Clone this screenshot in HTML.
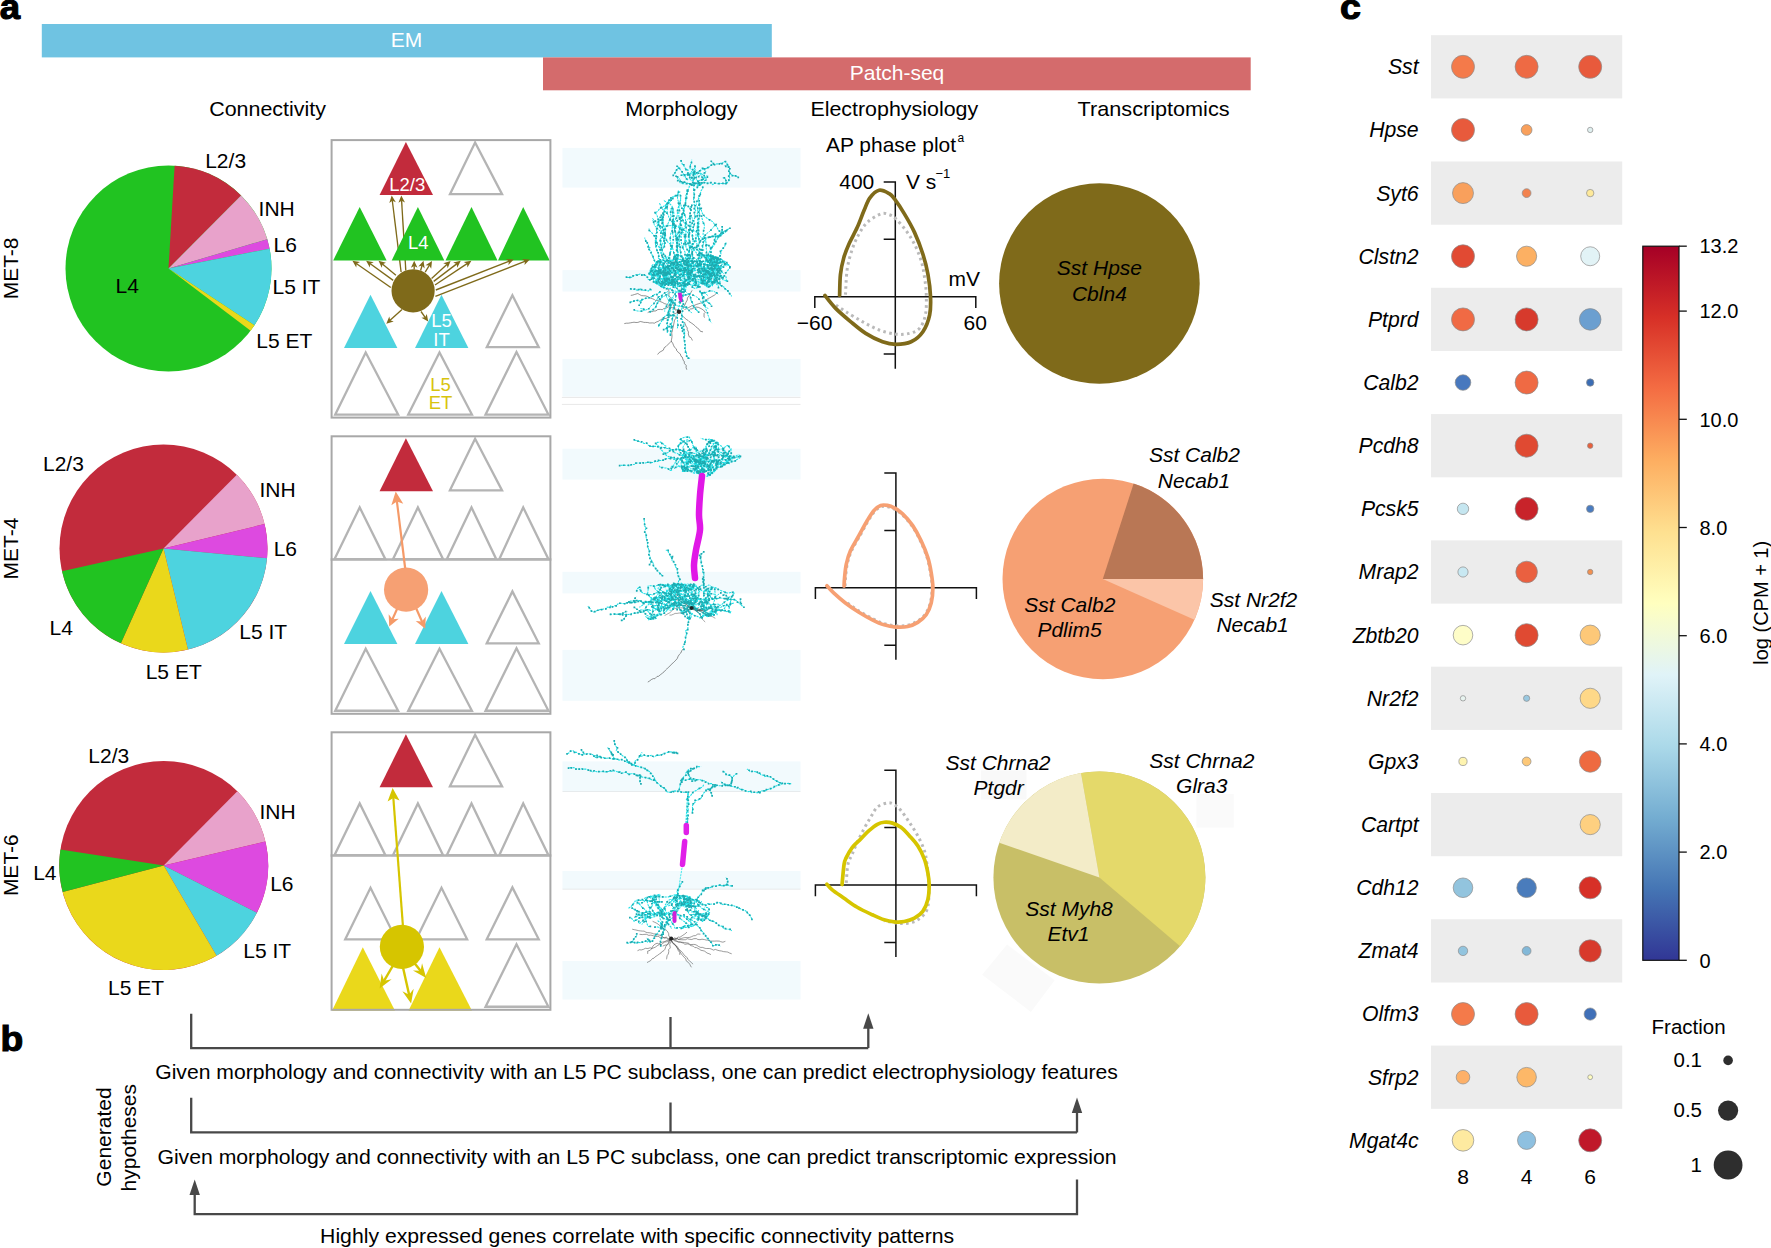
<!DOCTYPE html>
<html><head><meta charset="utf-8"><title>Figure</title>
<style>html,body{margin:0;padding:0;background:#fff;overflow:hidden}svg{display:block}</style>
</head><body>
<svg width="1771" height="1248" viewBox="0 0 1771 1248" font-family="'Liberation Sans', Arial, Helvetica, sans-serif" font-size="21"><text transform="translate(-0.2 19.2) scale(1.06 1)" font-size="34.5" font-weight="bold" stroke="#000" stroke-width="1.1">a</text>
<text transform="translate(0.4 1050.8) scale(1.08 1)" font-size="34.5" font-weight="bold" stroke="#000" stroke-width="1.1">b</text>
<text transform="translate(1339.9 19.2) scale(1.09 1)" font-size="34.5" font-weight="bold" stroke="#000" stroke-width="1.1">c</text>
<rect x="41.8" y="24" width="730" height="33.4" fill="#6fc3e2"/>
<text x="406.5" y="46.5" text-anchor="middle" fill="#fff">EM</text>
<rect x="543" y="57.4" width="707.7" height="32.9" fill="#d46b6c"/>
<text x="897" y="79.6" text-anchor="middle" fill="#fff">Patch-seq</text>
<text x="267.6" y="115.6" text-anchor="middle" textLength="116.8" lengthAdjust="spacingAndGlyphs">Connectivity</text>
<text x="681.4" y="115.6" text-anchor="middle" textLength="112.4" lengthAdjust="spacingAndGlyphs">Morphology</text>
<text x="894.3" y="115.6" text-anchor="middle" textLength="167.8" lengthAdjust="spacingAndGlyphs">Electrophysiology</text>
<text x="1153.6" y="115.6" text-anchor="middle" textLength="152" lengthAdjust="spacingAndGlyphs">Transcriptomics</text>
<text transform="translate(17.5 268.4) rotate(-90)" text-anchor="middle">MET-8</text>
<text transform="translate(17.5 548.5) rotate(-90)" text-anchor="middle">MET-4</text>
<text transform="translate(17.5 865.2) rotate(-90)" text-anchor="middle">MET-6</text>
<circle cx="168.5" cy="268.5" r="103" fill="#21c321"/>
<path d="M168.5 268.5L174.61 165.68A103 103 0 0 1 241.08 195.41Z" fill="#c22b3c"/>
<path d="M168.5 268.5L241.08 195.41A103 103 0 0 1 267.26 239.25Z" fill="#e8a2cb"/>
<path d="M168.5 268.5L267.26 239.25A103 103 0 0 1 269.57 248.67Z" fill="#dd4ae0"/>
<path d="M168.5 268.5L269.57 248.67A103 103 0 0 1 254.39 325.35Z" fill="#4dd3df"/>
<path d="M168.5 268.5L254.39 325.35A103 103 0 0 1 250.65 330.63Z" fill="#ead81b"/>
<text x="205.2" y="168">L2/3</text>
<text x="258.6" y="215.8">INH</text>
<text x="273.6" y="251.5">L6</text>
<text x="272.5" y="293.9">L5 IT</text>
<text x="256.3" y="347.7">L5 ET</text>
<text x="115.5" y="292.5">L4</text>
<circle cx="163.5" cy="548.5" r="104" fill="#c22b3c"/>
<path d="M163.5 548.5L236.78 474.7A104 104 0 0 1 264.58 524.05Z" fill="#e8a2cb"/>
<path d="M163.5 548.5L264.58 524.05A104 104 0 0 1 267.04 558.29Z" fill="#dd4ae0"/>
<path d="M163.5 548.5L267.04 558.29A104 104 0 0 1 187.95 649.58Z" fill="#4dd3df"/>
<path d="M163.5 548.5L187.95 649.58A104 104 0 0 1 120.87 643.36Z" fill="#ead81b"/>
<path d="M163.5 548.5L120.87 643.36A104 104 0 0 1 62 571.19Z" fill="#21c321"/>
<text x="43" y="470.7">L2/3</text>
<text x="259.5" y="497.4">INH</text>
<text x="273.7" y="555.5">L6</text>
<text x="239.3" y="639.2">L5 IT</text>
<text x="145.7" y="678.7">L5 ET</text>
<text x="49.5" y="634.5">L4</text>
<circle cx="163.7" cy="865.5" r="104.5" fill="#c22b3c"/>
<path d="M163.7 865.5L237.33 791.35A104.5 104.5 0 0 1 265.4 841.46Z" fill="#e8a2cb"/>
<path d="M163.7 865.5L265.4 841.46A104.5 104.5 0 0 1 256.89 912.78Z" fill="#dd4ae0"/>
<path d="M163.7 865.5L256.89 912.78A104.5 104.5 0 0 1 216.58 955.63Z" fill="#4dd3df"/>
<path d="M163.7 865.5L216.58 955.63A104.5 104.5 0 0 1 62.62 892.02Z" fill="#ead81b"/>
<path d="M163.7 865.5L62.62 892.02A104.5 104.5 0 0 1 60.43 849.51Z" fill="#21c321"/>
<text x="88.3" y="763">L2/3</text>
<text x="259.5" y="818.8">INH</text>
<text x="270.2" y="890.8">L6</text>
<text x="243.3" y="957.5">L5 IT</text>
<text x="108" y="994.7">L5 ET</text>
<text x="33.2" y="879.9">L4</text>
<polygon points="379.6,195 405.9,142 433,195" fill="#c22b3c"/>
<polygon points="449.96,194.15 475.1,142.52 502.04,194.15" fill="none" stroke="#b4b4b4" stroke-width="2.3" stroke-linejoin="miter"/>
<line x1="401.1" y1="272" x2="392.27" y2="200.26" stroke="#7f6a1a" stroke-width="1.35"/>
<path d="M391.7 195.6L395.83 202.14L392.34 200.76L389.28 202.95Z" fill="#7f6a1a"/>
<line x1="405.8" y1="270.5" x2="401.58" y2="200.29" stroke="#7f6a1a" stroke-width="1.35"/>
<path d="M401.3 195.6L405.01 202.39L401.61 200.79L398.43 202.79Z" fill="#7f6a1a"/>
<polygon points="333.2,260.4 359.7,207 386.6,260.4" fill="#21c321"/>
<polygon points="391.7,260.4 417.9,207 444.3,260.4" fill="#21c321"/>
<polygon points="445.5,260.4 471.5,207 497.5,260.4" fill="#21c321"/>
<polygon points="498,260.4 523.2,207 549.7,260.4" fill="#21c321"/>
<polygon points="344,347.9 370.5,294.7 397.4,347.9" fill="#4dd3df"/>
<polygon points="415,347.9 441.5,294.7 468.4,347.9" fill="#4dd3df"/>
<polygon points="486.76,347.15 512.4,295.23 538.74,347.15" fill="none" stroke="#b4b4b4" stroke-width="2.3" stroke-linejoin="miter"/>
<polygon points="335.26,414.55 365.7,352.52 398.13,414.55" fill="none" stroke="#b4b4b4" stroke-width="2.3" stroke-linejoin="miter"/>
<polygon points="408.26,414.55 439.5,352.52 471.94,414.55" fill="none" stroke="#b4b4b4" stroke-width="2.3" stroke-linejoin="miter"/>
<polygon points="485.56,414.55 516.5,352.02 548.44,414.55" fill="none" stroke="#b4b4b4" stroke-width="2.3" stroke-linejoin="miter"/>
<rect x="331.6" y="140.1" width="218.8" height="277.5" fill="none" stroke="#a8a8a8" stroke-width="2"/>
<polygon points="379.6,491.2 405.9,438.2 433,491.2" fill="#c22b3c"/>
<polygon points="449.96,490.35 475.1,438.73 502.04,490.35" fill="none" stroke="#b4b4b4" stroke-width="2.3" stroke-linejoin="miter"/>
<line x1="330.6" y1="559.5" x2="551.4" y2="559.5" stroke="#b4b4b4" stroke-width="2.3"/>
<polygon points="334.46,559.15 359.7,507.43 385.34,559.15" fill="none" stroke="#b4b4b4" stroke-width="2.3" stroke-linejoin="miter"/>
<polygon points="392.96,559.15 417.9,507.43 443.04,559.15" fill="none" stroke="#b4b4b4" stroke-width="2.3" stroke-linejoin="miter"/>
<polygon points="446.76,559.15 471.5,507.43 496.24,559.15" fill="none" stroke="#b4b4b4" stroke-width="2.3" stroke-linejoin="miter"/>
<polygon points="499.26,559.15 523.2,507.43 548.44,559.15" fill="none" stroke="#b4b4b4" stroke-width="2.3" stroke-linejoin="miter"/>
<polygon points="344,644.1 370.5,590.9 397.4,644.1" fill="#4dd3df"/>
<polygon points="415,644.1 441.5,590.9 468.4,644.1" fill="#4dd3df"/>
<polygon points="486.76,643.35 512.4,591.43 538.74,643.35" fill="none" stroke="#b4b4b4" stroke-width="2.3" stroke-linejoin="miter"/>
<polygon points="335.26,710.75 365.7,648.73 398.13,710.75" fill="none" stroke="#b4b4b4" stroke-width="2.3" stroke-linejoin="miter"/>
<polygon points="408.26,710.75 439.5,648.73 471.94,710.75" fill="none" stroke="#b4b4b4" stroke-width="2.3" stroke-linejoin="miter"/>
<polygon points="485.56,710.75 516.5,648.23 548.44,710.75" fill="none" stroke="#b4b4b4" stroke-width="2.3" stroke-linejoin="miter"/>
<rect x="331.6" y="436.3" width="218.8" height="277.5" fill="none" stroke="#a8a8a8" stroke-width="2"/>
<polygon points="379.6,787.2 405.9,734.2 433,787.2" fill="#c22b3c"/>
<polygon points="449.96,786.35 475.1,734.73 502.04,786.35" fill="none" stroke="#b4b4b4" stroke-width="2.3" stroke-linejoin="miter"/>
<line x1="330.6" y1="855.5" x2="551.4" y2="855.5" stroke="#b4b4b4" stroke-width="2.3"/>
<polygon points="334.46,855.15 359.7,803.42 385.34,855.15" fill="none" stroke="#b4b4b4" stroke-width="2.3" stroke-linejoin="miter"/>
<polygon points="392.96,855.15 417.9,803.42 443.04,855.15" fill="none" stroke="#b4b4b4" stroke-width="2.3" stroke-linejoin="miter"/>
<polygon points="446.76,855.15 471.5,803.42 496.24,855.15" fill="none" stroke="#b4b4b4" stroke-width="2.3" stroke-linejoin="miter"/>
<polygon points="499.26,855.15 523.2,803.42 548.44,855.15" fill="none" stroke="#b4b4b4" stroke-width="2.3" stroke-linejoin="miter"/>
<polygon points="345.26,939.35 370.5,887.73 396.13,939.35" fill="none" stroke="#b4b4b4" stroke-width="2.3" stroke-linejoin="miter"/>
<polygon points="416.26,939.35 441.5,887.73 467.13,939.35" fill="none" stroke="#b4b4b4" stroke-width="2.3" stroke-linejoin="miter"/>
<polygon points="486.76,939.35 512.4,887.42 538.74,939.35" fill="none" stroke="#b4b4b4" stroke-width="2.3" stroke-linejoin="miter"/>
<polygon points="332,1010.7 362.8,947.3 395,1010.7" fill="#ead81b"/>
<polygon points="408.5,1010.7 439.5,947.3 472,1010.7" fill="#ead81b"/>
<polygon points="485.56,1006.75 516.5,944.23 548.44,1006.75" fill="none" stroke="#b4b4b4" stroke-width="2.3" stroke-linejoin="miter"/>
<rect x="331.6" y="732.3" width="218.8" height="277.5" fill="none" stroke="#a8a8a8" stroke-width="2"/>
<line x1="390.8" y1="287.5" x2="356.26" y2="263.48" stroke="#7f6a1a" stroke-width="1.35"/>
<path d="M352.4 260.8L360.03 262.09L356.67 263.77L356.26 267.51Z" fill="#7f6a1a"/>
<line x1="393.2" y1="280.4" x2="369.91" y2="263.55" stroke="#7f6a1a" stroke-width="1.35"/>
<path d="M366.1 260.8L373.71 262.23L370.31 263.85L369.84 267.58Z" fill="#7f6a1a"/>
<line x1="395.9" y1="275.3" x2="382.11" y2="263.81" stroke="#7f6a1a" stroke-width="1.35"/>
<path d="M378.5 260.8L385.99 262.75L382.49 264.13L381.76 267.82Z" fill="#7f6a1a"/>
<line x1="414.2" y1="269.5" x2="414.2" y2="265.5" stroke="#7f6a1a" stroke-width="1.35"/>
<path d="M414.2 260.8L417.5 267.8L414.2 266L410.9 267.8Z" fill="#7f6a1a"/>
<line x1="420.6" y1="270.5" x2="422.15" y2="265.3" stroke="#7f6a1a" stroke-width="1.35"/>
<path d="M423.5 260.8L424.66 268.45L422.01 265.78L418.33 266.56Z" fill="#7f6a1a"/>
<line x1="425.2" y1="272.2" x2="429.56" y2="265.02" stroke="#7f6a1a" stroke-width="1.35"/>
<path d="M432 261L431.19 268.7L429.3 265.44L425.55 265.27Z" fill="#7f6a1a"/>
<line x1="431.6" y1="278.5" x2="447.14" y2="264.18" stroke="#7f6a1a" stroke-width="1.35"/>
<path d="M450.6 261L447.69 268.17L446.78 264.52L443.22 263.32Z" fill="#7f6a1a"/>
<line x1="433.7" y1="281.4" x2="457.06" y2="263.64" stroke="#7f6a1a" stroke-width="1.35"/>
<path d="M460.8 260.8L457.22 267.66L456.66 263.95L453.23 262.41Z" fill="#7f6a1a"/>
<line x1="435" y1="285" x2="467.49" y2="263.4" stroke="#7f6a1a" stroke-width="1.35"/>
<path d="M471.4 260.8L467.4 267.42L467.07 263.68L463.74 261.93Z" fill="#7f6a1a"/>
<line x1="435.8" y1="290" x2="509.32" y2="261.21" stroke="#7f6a1a" stroke-width="1.35"/>
<path d="M513.7 259.5L508.38 265.12L508.86 261.4L505.98 258.98Z" fill="#7f6a1a"/>
<line x1="435.4" y1="296.4" x2="525.42" y2="261.21" stroke="#7f6a1a" stroke-width="1.35"/>
<path d="M529.8 259.5L524.48 265.12L524.96 261.39L522.08 258.97Z" fill="#7f6a1a"/>
<line x1="402" y1="309.5" x2="389.79" y2="320.55" stroke="#7f6a1a" stroke-width="1.35"/>
<path d="M386.3 323.7L389.28 316.56L390.16 320.21L393.71 321.45Z" fill="#7f6a1a"/>
<line x1="421" y1="311.5" x2="425.47" y2="317.77" stroke="#7f6a1a" stroke-width="1.35"/>
<path d="M428.2 321.6L421.45 317.82L425.18 317.37L426.82 313.98Z" fill="#7f6a1a"/>
<circle cx="413.1" cy="290.8" r="21.6" fill="#7f6a1a"/>
<text x="407.2" y="191.3" text-anchor="middle" fill="#fff" font-size="18.5">L2/3</text>
<text x="418.2" y="248.6" text-anchor="middle" fill="#fff" font-size="18.5">L4</text>
<text x="441.6" y="327.2" text-anchor="middle" fill="#fff" font-size="18.5">L5</text>
<text x="441.6" y="346.4" text-anchor="middle" fill="#fff" font-size="18.5">IT</text>
<text x="440.5" y="391" text-anchor="middle" fill="#d8c40e" font-size="18.5">L5</text>
<text x="440.5" y="408.5" text-anchor="middle" fill="#d8c40e" font-size="18.5">ET</text>
<line x1="405.4" y1="570" x2="396.87" y2="501.03" stroke="#f59a68" stroke-width="2.2"/>
<path d="M395.7 491.6L403.25 503.76L396.93 501.52L391.34 505.24Z" fill="#f59a68"/>
<line x1="397.5" y1="608" x2="392.27" y2="619.66" stroke="#f59a68" stroke-width="2.2"/>
<path d="M389.2 626.5L388.68 614.21L392.47 619.2L398.72 618.72Z" fill="#f59a68"/>
<line x1="416" y1="608" x2="422.17" y2="621.94" stroke="#f59a68" stroke-width="2.2"/>
<path d="M425.2 628.8L415.72 620.96L421.96 621.48L425.78 616.52Z" fill="#f59a68"/>
<circle cx="406.1" cy="589.7" r="22.1" fill="#f6a073"/>
<line x1="403" y1="927" x2="393.31" y2="797.47" stroke="#d6c500" stroke-width="2.2"/>
<path d="M392.6 788L399.55 800.52L393.35 797.97L387.59 801.41Z" fill="#d6c500"/>
<line x1="392.7" y1="966" x2="383.88" y2="981.15" stroke="#d6c500" stroke-width="2.4"/>
<path d="M379.6 988.5L381.63 973.48L384.13 980.72L391.66 979.32Z" fill="#d6c500"/>
<line x1="402.9" y1="967" x2="409.24" y2="995.31" stroke="#d6c500" stroke-width="2.4"/>
<path d="M411.1 1003.6L402.38 991.21L409.13 994.82L413.7 988.67Z" fill="#d6c500"/>
<line x1="413.6" y1="962" x2="420.92" y2="971.24" stroke="#d6c500" stroke-width="2.4"/>
<path d="M426.2 977.9L412.96 970.53L420.61 970.85L422.05 963.33Z" fill="#d6c500"/>
<circle cx="401.9" cy="946.8" r="22.1" fill="#d6c500"/>
<rect x="562.5" y="147.9" width="238" height="39.7" fill="#f2fafd"/>
<rect x="562.5" y="270.1" width="238" height="21.4" fill="#f2fafd"/>
<rect x="562.5" y="358.9" width="238" height="37.6" fill="#f2fafd"/>
<line x1="561.9" y1="397.4" x2="800.5" y2="397.4" stroke="#e8e8e8" stroke-width="1"/>
<line x1="561.9" y1="404.4" x2="800.5" y2="404.4" stroke="#e8e8e8" stroke-width="1"/>
<rect x="562.5" y="448.7" width="238" height="30.9" fill="#f2fafd"/>
<rect x="562.5" y="571.8" width="238" height="21.6" fill="#f2fafd"/>
<rect x="562.5" y="649.9" width="238" height="50.9" fill="#f2fafd"/>
<rect x="562.5" y="761.4" width="238" height="29.9" fill="#f2fafd"/>
<rect x="562.5" y="871" width="238" height="18.1" fill="#f2fafd"/>
<rect x="562.5" y="961" width="238" height="38.5" fill="#f2fafd"/>
<line x1="562.5" y1="791.5" x2="800.5" y2="791.5" stroke="#e2e6e8" stroke-width="0.8"/>
<line x1="562.5" y1="889.2" x2="800.5" y2="889.2" stroke="#e2e6e8" stroke-width="0.8"/>
<path d="M679.0 311.8L676.7 312.8 675.6 313.4 673.0 314.4 671.7 315.7 669.3 315.8 668.1 317.3 666.5 318.3 664.0 318.7 663.0 319.6 659.9 320.1 658.2 321.4 656.1 322.1 654.4 323.2 652.6 322.9 649.6 323.0 647.7 322.5 645.6 322.4 643.8 322.4 643.2 322.1 640.3 321.5 637.9 322.4 636.0 322.5 634.0 322.2 632.2 322.5 630.7 322.8 628.2 323.2 626.3 323.2 624.3 323.6M676.0 316.0L675.7 318.5 674.5 320.2 674.0 322.9 673.6 324.9 673.0 327.2 672.6 329.1 672.4 330.8 671.7 332.9 672.0 335.5 671.9 337.4 671.6 339.2 671.2 341.3 669.9 342.6 667.3 345.2 665.9 346.6 664.3 347.6 663.3 350.2 660.9 351.5 659.2 352.5 657.6 354.5M671.1 341.0L672.7 343.2 673.6 345.5 674.5 347.3 676.4 348.9 676.6 350.4 678.6 352.7 680.3 353.9 681.0 356.3 682.2 357.0 683.3 360.5 684.2 361.2 684.4 363.5 686.2 365.5 686.1 367.7 686.8 369.7M682.3 316.0L683.9 317.2 686.2 319.3 687.9 320.3 688.9 321.4 691.1 322.8 693.1 324.2 694.8 325.6 696.0 326.9 697.9 328.4 699.1 329.3 700.4 331.3 703.0 331.9M684.5 322.0L685.0 323.6 686.0 326.1 687.4 328.1 687.0 329.1 688.5 332.1 688.3 333.9 689.2 336.8 691.0 337.6 691.5 338.5 692.4 340.5M679.0 311.8L677.4 309.9 675.0 310.0 674.1 308.0 671.1 307.6 670.1 305.8 667.8 304.8 665.6 303.9 664.4 303.6 662.6 302.5 659.9 301.4 657.9 300.5 655.3 300.4 654.5 299.6 652.4 298.7 649.7 297.8 647.9 296.6 645.3 295.8 643.8 295.8 641.5 295.6 639.6 294.6 637.8 293.5 634.5 294.5 632.7 295.1 630.8 295.4M670.0 307.0L668.3 306.9 666.3 308.0 663.7 308.6 662.3 309.7 660.4 309.4 657.8 309.5 656.0 310.9 653.7 311.1 652.1 311.7 649.7 311.4 647.7 312.6M684.5 309.5L686.8 308.6 688.4 307.7 690.3 306.7 692.0 305.5 693.8 305.6 696.3 304.5 698.2 303.9 700.5 303.1 702.6 302.9 704.1 301.3 705.9 300.0 708.4 298.4 709.9 297.8 711.8 296.6 714.4 295.2 716.0 293.6M690.0 309.0L692.2 308.8 694.4 307.6 696.3 307.1 698.5 307.4 701.1 308.6 703.5 310.1 705.3 312.3 704.1 313.5 704.0 316.3 704.5 317.6M675.0 309.0L674.5 307.0 673.2 305.1 672.4 302.9 671.3 301.2 671.0 300.6 671.0 297.9 669.0 295.9 668.9 294.7 669.0 291.7 668.7 290.2 667.4 287.8M683.0 309.0L683.7 307.2 684.7 305.2 685.6 303.3 686.0 302.2 687.3 300.0 687.4 297.9 689.3 295.5 690.4 293.9 691.1 292.0 692.1 290.4" fill="none" stroke="#3a3a3a" stroke-width="0.55" stroke-linejoin="round"/>
<path d="M673.8 258.8L674.1 257.2 675.5 256.2M665.0 271.5L665.9 270.0 666.0 268.4 665.9 266.7 665.3 265.1M664.2 278.6L663.7 276.9 662.7 275.6 662.1 274.0 662.0 272.3M715.7 257.3L714.1 256.7 712.4 256.5 710.7 256.8 709.0 256.6 707.4 256.2 705.7 256.0 704.0 255.9 702.4 256.3 700.7 256.6M724.6 264.1L725.9 265.1 726.4 266.8M714.7 270.5L716.1 271.4 717.4 272.5 718.5 273.8 719.1 275.4 719.2 277.1 719.4 278.8 719.5 280.5 720.4 281.9M715.2 273.8L716.8 274.1 717.3 275.7 716.2 277.0 717.0 278.6 716.8 280.2 716.6 281.9 715.5 283.3M714.0 280.3L712.6 281.3 711.6 282.7M706.8 255.6L707.6 257.1 708.3 258.7 709.7 259.5M658.0 261.2L659.3 260.2 659.8 261.8 659.1 263.4M659.6 261.7L661.3 261.7 662.7 260.8M659.3 263.0L660.7 262.0 661.6 260.6 662.6 259.3M664.2 276.7L663.3 278.2 662.6 279.7 662.4 281.4 662.3 283.1 662.7 284.7 662.4 286.4M663.5 281.7L664.5 283.0 666.1 283.7 667.6 284.5M663.4 277.5L665.1 277.4 666.6 278.3 667.3 279.8 668.6 280.9 670.1 281.7 670.5 283.3M663.7 275.8L665.0 274.7 664.6 273.0 663.4 271.8 661.8 271.3 660.8 269.9 660.4 268.3 660.3 266.6M660.2 273.1L659.9 271.4 659.9 269.7 658.9 268.4M688.8 282.3L687.5 281.2 686.2 280.0 685.0 278.9M679.1 290.6L677.5 291.2 679.2 291.5 680.7 292.3 681.0 290.7 681.8 289.1M670.3 283.6L668.7 284.0 667.0 283.6M690.6 273.9L692.3 273.8 694.0 274.0 695.4 274.8M717.2 268.9L715.5 268.6 714.2 269.6 712.7 270.4 711.0 270.1 709.7 271.2M686.7 267.4L685.0 267.9 683.3 267.9 681.7 268.2 680.0 268.7 678.5 269.4M687.1 262.6L686.1 261.2 686.7 259.6 686.7 257.9 686.8 256.2 687.9 254.9M675.3 278.9L676.7 279.9 677.3 281.5 678.4 282.8 679.9 283.6M680.1 277.9L681.3 279.2 681.0 280.9M681.7 277.3L682.6 275.9 683.8 274.6M703.5 276.3L704.8 275.2 705.9 273.9 707.6 274.0 709.1 274.7 710.8 274.3 712.1 273.3M705.7 273.7L705.1 272.1 705.4 270.4 704.6 268.9 704.4 267.3 703.4 265.9 703.7 264.2 703.1 262.6M706.3 272.1L708.0 272.4 709.2 271.3 710.8 270.5 712.3 269.7 713.6 268.7 715.3 268.3 716.8 267.7 718.5 267.5 719.9 268.5 720.5 270.1M707.8 265.6L709.1 264.5 709.9 263.0 710.9 261.6M677.6 266.0L676.4 267.2 674.8 267.8 673.2 268.4 671.6 268.7 670.1 267.9 669.1 266.5 667.9 265.3 666.7 264.1M678.7 266.9L678.8 268.6 680.2 269.7 681.7 269.0M686.0 270.8L686.8 272.0 687.3 273.4 687.6 274.9 687.5 276.4 687.3 277.9 688.3 279.0M676.7 281.2L675.2 281.0 673.8 280.4 672.6 281.3 671.7 282.5 670.7 283.7 672.1 284.4 672.6 283.0M688.3 274.2L689.4 275.3 690.9 275.5 692.3 276.0 693.7 275.4 695.2 275.6 696.5 276.4M691.1 273.5L692.5 274.0 693.7 274.9 694.8 275.9 695.8 277.0 695.0 278.2 695.5 279.7M689.6 269.2L688.4 270.1 687.4 271.2M663.1 274.5L663.7 275.9 665.2 275.9 666.6 275.4 667.7 274.3 668.8 273.3 670.3 273.2 671.7 272.8 672.7 271.7M664.6 276.1L665.5 277.3 666.7 278.2 667.8 279.2 669.3 279.5 670.6 278.8 671.8 278.0 673.1 277.1 673.7 275.7M703.3 276.7L703.2 275.2 702.1 274.2 701.0 273.2 700.4 271.8 698.9 272.1 697.5 271.7M702.0 276.0L700.5 276.1 699.0 276.0 697.9 277.0 697.4 278.4 696.7 279.7M699.7 272.3L698.2 272.3 696.7 272.5 695.4 273.3M710.1 273.7L708.7 274.2 707.3 274.8 705.8 275.0 705.1 273.7M689.1 279.6L690.6 279.7 692.0 280.2 693.3 281.0M706.3 270.9L705.4 272.2 705.8 273.6 706.2 275.1M711.6 267.2L712.6 268.3" fill="none" stroke="#1ae2e8" stroke-width="0.99" stroke-linejoin="round" stroke-dasharray="2.2 0.9"/>
<path d="M665.1 275.3L665.3 273.7 664.3 272.3 664.2 270.6 664.0 268.9 663.5 267.3 664.7 266.0 665.4 264.5 666.7 263.4 668.3 262.9 669.5 261.7 670.8 260.6 672.3 259.8 673.8 258.8 675.0 257.7 676.0 256.3 676.5 254.7 677.6 255.9 679.3 255.7 680.9 255.0M685.6 261.0L684.8 262.5 684.5 264.2 685.1 265.8 684.5 267.4 684.0 269.0 683.2 270.5 682.5 272.0M675.3 266.9L676.0 265.3 677.0 264.0 677.9 262.5 676.7 261.3 675.8 259.9 676.0 258.2 675.8 256.5 676.0 254.8 675.3 256.4M660.5 269.7L658.8 270.2 657.1 270.5 655.5 270.1M661.3 261.5L662.6 262.6 664.1 263.4M716.2 257.4L714.6 256.8 712.9 257.0 711.5 257.9 710.1 258.9M719.2 263.0L719.8 261.4 720.7 259.9 719.1 260.6 717.5 260.0 716.2 258.8M691.5 265.9L691.5 267.6 691.1 269.3 690.2 270.7M674.8 280.5L673.6 281.7 672.6 283.1 672.6 284.8 671.1 285.6 669.4 285.5 668.3 284.2 667.1 283.0 667.1 281.3 666.8 279.7 668.0 278.4 667.1 277.0 665.9 275.8 664.8 274.5 664.1 272.9 665.0 271.5 665.7 269.9 666.2 268.3 667.6 267.3 669.1 266.5 670.5 265.6 670.9 264.0 672.2 263.0M673.5 281.6L672.2 280.5 670.7 281.3 669.4 282.4 667.8 282.9 666.1 282.4 664.6 281.8 663.1 282.6 661.9 283.8 660.7 285.0 659.0 285.3 660.1 284.0 661.2 282.7 662.5 281.5 663.2 280.0 664.2 278.6 664.6 276.9 663.7 275.5 662.8 274.1 661.3 273.3 659.6 273.0 658.0 272.3M658.2 276.5L656.6 275.9 655.0 275.5 653.5 274.6 651.9 274.3 650.2 274.8 649.1 273.6 650.6 274.3 651.6 275.7 651.7 277.4 651.6 279.1 653.2 278.4 654.2 277.1 655.8 276.7M650.7 275.1L649.2 274.5 649.2 272.8 650.6 271.9 652.3 271.5 653.4 270.2 654.3 268.8M714.0 257.1L715.7 257.3 717.4 257.5 719.0 258.1 720.5 258.8 721.6 260.1 722.8 261.3 724.1 262.4 724.6 264.1 724.0 265.7 723.4 267.2 721.8 267.9 720.1 267.8M712.6 256.2L710.9 256.5 709.3 256.7 707.7 257.3 706.5 258.5 705.5 259.9 705.1 261.6 704.9 263.2 704.2 264.8 702.8 265.8M714.3 256.4L715.2 257.8 716.7 258.6 717.5 260.1 718.1 261.7 717.6 263.3 717.4 265.0 717.6 266.7 717.4 268.4 716.8 270.0M657.2 274.4L658.8 273.7 660.5 274.0M658.7 269.7L660.1 270.7 661.5 269.6 662.8 268.6M714.0 268.9L714.7 270.5 715.3 272.1 715.2 273.8 714.9 275.5 715.0 277.2 714.0 278.6 714.0 280.3 713.2 281.8 713.4 283.5 712.4 284.9 710.8 285.4 709.3 286.3 708.5 287.8M711.8 256.6L710.1 256.4 708.4 255.9 706.8 255.6 705.1 255.2 703.4 255.2 701.9 254.5 700.4 253.6 698.7 253.5 698.3 255.1M713.2 281.8L711.7 281.0 710.4 279.9 708.8 279.2 707.6 278.1 706.8 276.5 706.7 274.9 706.5 273.2 706.0 271.5 706.1 269.8 706.4 268.2 706.5 266.5 707.2 264.9 705.8 264.1 704.7 262.8M700.0 275.3L699.9 277.0 700.1 278.7 700.5 280.3 700.4 282.0 701.6 283.1 702.2 284.7M665.0 285.2L663.8 286.4 662.3 287.3 662.4 285.6 662.0 283.9 661.0 282.6 660.6 280.9 660.7 279.2M661.1 286.2L662.1 287.5 663.8 287.0 665.4 287.5 666.5 288.8 668.2 289.0 669.9 288.9 670.9 287.5M713.4 260.2L711.7 260.2 710.1 259.6 708.7 258.7 707.8 257.3 707.3 255.6M658.4 274.7L657.0 275.7 655.3 275.4 654.5 273.9 653.4 272.6 652.5 271.2 653.3 269.7 653.9 268.1 654.4 266.5 654.5 264.8 655.9 263.9 656.8 262.4 658.0 261.2 659.2 260.1 659.6 261.7 659.6 263.4 659.6 265.1 659.1 266.8 659.4 268.4M657.1 273.5L656.9 271.8 656.1 270.3 655.5 268.7 655.3 267.0 655.6 265.4 655.5 263.7 656.0 262.0 657.6 262.6 659.3 263.0 660.5 264.2 662.2 264.4 663.1 265.8 663.2 267.5 662.2 268.9 661.0 270.1 660.5 271.7 660.1 273.4M655.5 273.2L653.9 273.8 652.4 274.7 651.0 273.7 649.4 273.2 650.2 271.7 651.7 270.9 653.4 271.1 654.4 272.5 655.5 273.7 656.9 274.7 658.4 275.5 659.2 277.0M652.3 272.0L652.0 270.4 651.4 268.8 651.4 267.1 652.1 265.5 653.3 264.4 654.7 265.4 656.0 266.5 657.2 267.6 658.1 269.1 658.9 270.6 659.6 272.1 660.2 273.7 661.7 274.6 663.2 275.4 664.2 276.7 664.4 278.4 665.2 279.9 666.2 281.3 667.6 282.3 669.3 282.2 670.7 281.2 672.1 280.4 673.8 280.1 675.4 279.6M651.3 273.0L651.5 274.7 653.1 275.3 653.7 276.9 653.6 278.6 653.3 280.3 653.6 282.0 654.9 280.9 656.5 280.3 658.2 280.2 659.7 279.3 661.3 278.7 662.7 279.7 663.2 281.3 664.3 282.6M652.7 277.8L651.0 277.7 652.7 277.4 654.1 278.2 655.7 278.9 656.8 280.2 657.8 281.5 659.3 282.4 660.7 283.3 662.4 283.0 663.5 281.7 665.2 282.0 666.7 282.6 668.2 283.4 668.9 285.0M664.0 284.9L665.0 283.6 666.3 282.5 668.0 282.4 669.7 282.5 671.4 282.8 672.6 284.0 674.0 285.0 675.3 286.0 675.9 287.6M713.1 256.2L711.7 257.2 711.4 258.9 712.1 260.4 710.8 261.5 709.3 262.3 707.8 261.5 706.2 262.1 704.6 261.6M663.0 279.1L663.4 277.5 663.7 275.8 663.4 274.1 661.9 273.3 660.2 273.1 658.5 272.8 656.9 272.4 655.4 271.5 654.1 270.5 652.4 270.5 650.8 271.1M690.2 281.3L688.8 282.3 687.4 283.2 685.9 284.1 684.3 284.7 682.6 284.9 681.0 285.3 679.5 286.2 677.8 286.1 676.4 287.0 674.9 287.8 673.4 287.2M685.1 285.8L684.7 287.5 683.1 288.1 681.7 289.1 681.5 290.8 682.7 292.0 684.3 292.6 685.1 291.1 685.7 289.5 686.0 287.9 686.3 286.2 687.5 284.9 688.4 283.5M683.4 292.1L681.7 292.5 680.1 292.0 679.1 290.6 677.6 289.8 676.9 288.2 675.5 287.3 673.8 287.3 672.8 285.9 671.6 284.7 670.3 283.6 668.6 283.3 667.1 282.5 666.1 281.1 664.9 280.0 665.4 278.3M683.6 285.7L685.1 284.8 686.7 284.3 687.9 283.0 688.8 281.6 689.4 280.0 689.6 278.4 689.1 276.7M683.4 282.7L683.4 281.0 683.1 279.3 683.1 277.6 683.0 275.9 683.1 274.2 683.7 272.6 683.9 270.9M689.0 274.4L690.6 273.9 691.3 272.3 692.6 271.2 693.7 269.9 695.3 269.6M719.7 266.8L718.1 267.5 717.2 268.9 716.4 270.4 714.9 271.1 713.3 271.6 712.2 273.0 712.3 274.7 713.9 275.5 715.5 275.9 717.2 275.5 718.9 275.6 720.1 276.7 721.8 276.6 723.0 277.8M715.0 265.2L713.4 264.5 712.1 263.5 711.2 262.1 711.5 260.4 710.4 259.1 708.9 258.2 707.9 256.9 707.7 255.2 709.1 256.2 710.6 257.0 712.0 257.9 713.7 258.0M687.7 268.8L686.7 267.4 686.7 265.7 686.3 264.1 687.1 262.6 688.5 261.6 689.3 260.2 689.4 258.5 688.1 257.3 687.6 255.7 687.5 254.0 687.9 255.7 687.5 257.3M708.6 279.6L707.5 278.3 706.3 277.1 705.1 275.9 704.3 274.4 703.4 273.0 702.1 271.8 701.3 270.3 701.6 268.6 701.3 267.0 700.6 265.4 699.7 263.9M679.2 262.6L680.8 263.2 681.9 264.5 682.3 266.1 683.9 266.5M669.0 283.6L669.3 282.0 670.5 280.7 672.0 279.9 673.6 279.4 675.3 278.9 676.9 279.1 678.5 278.5 680.1 277.9 681.7 277.3 682.7 275.9 683.2 274.3 684.0 272.9 684.5 271.2 683.6 269.8M672.1 278.0L671.5 276.4 670.3 275.2 669.3 273.8 667.8 273.0 666.1 273.2 664.6 272.4 662.9 272.4 661.2 272.0 659.6 271.6 657.9 271.5 656.3 270.9 655.3 269.6M718.4 270.5L720.1 270.4 721.2 271.6 722.6 272.7 723.7 274.0M700.9 281.1L702.5 280.8 703.8 279.6 703.4 278.0 703.5 276.3 704.4 274.8 705.7 273.7 706.3 272.1 707.1 270.6 707.5 269.0 707.4 267.3 707.8 265.6 708.8 264.3 709.0 262.6 707.7 261.4 706.9 259.9 705.8 258.6 704.5 257.5 703.2 256.5 702.5 255.0 700.9 255.6M677.6 264.3L677.6 266.0 677.3 267.7 677.6 269.4 677.8 271.0 677.1 272.6 676.0 273.9 675.0 275.3 673.4 275.9 671.9 276.5 670.4 277.4 669.0 278.3M679.0 265.3L678.7 266.9 677.4 268.0 675.7 268.5 674.1 268.1 672.5 267.5 670.8 267.3M685.7 269.3L686.0 270.8 685.8 272.2 687.0 273.1 688.5 272.6 689.9 272.9 691.4 273.3 692.7 273.9 694.0 274.7 695.5 274.6 696.4 275.8M694.5 276.5L695.9 276.0 697.3 276.4M683.1 283.5L682.8 284.9 682.1 286.3 681.2 285.1 680.1 284.0 679.1 282.9 677.9 282.1 676.7 281.2 675.2 281.0 673.8 281.5 672.8 282.6 671.4 283.2 669.9 282.8 670.0 281.3 671.1 280.4 672.2 279.3 673.7 279.4 675.2 279.7M681.3 266.8L680.1 267.7 679.6 269.1 678.4 270.0 676.9 269.8 676.0 268.6 675.5 267.2 674.7 266.0M685.4 274.5L686.8 274.2 688.3 274.2 689.8 274.3 691.1 273.5 692.2 272.5 691.9 271.0 690.8 270.0 689.6 269.2 688.4 268.2 688.7 266.7 688.0 265.4 687.4 264.0 686.1 263.3M665.6 280.6L666.4 279.3 665.9 277.9 664.9 276.8 664.2 275.5 663.1 274.5 663.4 276.0 664.9 276.2 666.0 275.2 667.0 274.0 667.9 272.8 668.6 271.5 668.8 270.0 668.0 268.7 666.5 268.8 665.1 268.4 664.1 269.6 663.4 270.9 662.4 272.0M667.4 276.6L666.1 275.8 664.7 275.3 663.2 275.5 664.6 276.1 665.3 277.5 665.8 278.9 666.5 280.2 668.0 280.1 669.2 281.0 669.9 282.3 671.3 282.9 672.6 283.5 673.7 284.5 675.1 283.9 675.2 282.4 676.4 281.6 677.8 281.0M667.2 273.6L666.2 272.4 664.7 272.0 663.5 271.2 664.1 269.9 665.1 268.7 665.9 267.4 667.3 267.0 668.2 265.7 669.6 266.4 671.1 266.4M666.8 266.7L667.8 267.8 668.8 268.8 670.3 268.7 670.1 267.2 669.8 265.7 671.3 265.6 672.3 264.5 673.6 263.8 674.6 262.7M674.6 271.0L674.4 272.5 673.4 273.7M675.7 272.0L675.0 270.7 673.8 269.8 672.9 268.7 672.1 267.4M695.0 261.4L693.6 261.0 692.1 260.8 690.8 261.5 689.4 262.1 688.6 263.4 687.3 264.2 686.0 264.8 685.3 266.2 685.2 267.7 685.4 269.2 686.6 270.0 687.0 271.5 687.1 273.0 687.7 274.4 688.5 275.6M688.3 261.0L686.9 261.4 686.5 262.9 686.1 264.3 686.9 265.6 687.5 267.0 687.9 268.4 688.3 269.9 689.4 270.9 690.6 270.0 691.3 268.7 691.3 267.2 690.5 265.9 689.1 265.2M705.4 282.1L705.3 280.6 703.9 280.2 702.5 279.7 702.3 278.2 701.1 277.3 699.7 276.7 699.2 275.3 698.1 274.3 698.6 272.9 700.0 272.2 701.5 272.2 703.0 272.1 704.2 271.3M702.9 280.8L703.1 279.3 704.0 278.1 703.3 276.7 702.0 276.0 700.8 275.1 700.5 273.6 699.7 272.3 698.5 271.5 697.7 270.2 697.7 268.7 697.9 267.2M700.8 271.8L702.3 271.9 703.7 271.2 705.1 270.6 706.2 271.5M669.4 282.3L668.0 281.6 666.7 281.0 666.6 279.5 666.7 278.0 666.5 276.5 666.3 275.0 667.8 275.4M670.0 274.1L670.3 272.6 671.8 272.8 673.3 272.8M711.6 282.4L712.6 283.6 714.0 283.5 714.5 282.1 715.5 280.9 716.6 280.0 717.4 278.7 718.8 278.0 720.3 278.3 719.1 279.2 718.1 280.3M714.5 282.4L713.9 281.0 714.3 279.6 714.0 278.1 712.9 277.2 711.4 277.2 710.1 276.4 709.0 275.3M716.2 279.5L715.0 280.5 713.7 281.3 713.5 282.8M712.2 275.9L711.3 274.7 710.1 273.7 708.9 272.8 707.4 272.8 707.8 274.3 708.5 275.6 709.3 276.9M710.1 273.3L709.2 272.1 709.2 270.6 709.5 269.2 708.0 268.8 706.7 268.1 705.4 267.3 704.0 266.8 702.5 266.7 701.0 266.5 699.5 266.5 698.2 265.8M682.4 282.8L683.7 282.1 685.1 281.5 686.5 281.0 687.8 280.3 689.1 279.6 690.0 278.4 691.2 277.5 691.6 276.1 691.1 274.6M690.7 268.5L689.3 269.0 688.9 270.4 688.1 271.7 688.1 273.2 688.8 274.5 689.2 276.0 688.8 277.4 687.8 278.5 687.5 280.0 687.9 281.4 688.3 282.8M686.6 262.9L687.0 264.4 687.1 265.9 688.1 267.0 687.8 268.5 688.4 269.8 689.3 271.0 690.7 271.6 692.2 271.8 693.5 271.1 695.0 271.1M701.3 263.3L699.9 262.7 698.6 261.9 697.2 261.3 698.3 262.4M674.5 280.3L674.1 281.8 672.7 282.4M708.0 266.6L707.1 267.8 705.7 268.5 704.5 269.3M691.2 264.1L692.0 262.8 693.3 262.1 694.7 261.4 695.4 262.7 695.4 264.2 696.1 265.6 697.3 266.4 698.8 266.2 700.1 266.9 701.4 267.6 702.5 268.7 703.9 269.3 704.9 270.4 706.3 270.9 707.8 270.9 709.0 269.9 710.5 269.7 711.6 268.7 711.6 267.2 712.2 265.8 712.3 264.3 710.9 264.0 710.0 265.2M709.0 271.8L710.4 272.3 710.9 273.7 711.0 275.2 710.5 276.7 711.5 277.8 711.1 279.3 711.2 280.8 712.0 282.1 712.0 283.6 713.0 282.5M710.3 272.5L711.8 272.3 713.2 271.6 713.9 270.3 715.3 269.8 716.6 270.6 717.9 271.4 719.4 271.2 720.7 270.6M713.8 274.9L714.6 273.7 715.9 272.9 717.3 272.5 718.8 272.0M673.4 267.9L671.9 267.9 670.6 267.1 669.4 266.3" fill="none" stroke="#1ae2e8" stroke-width="1.04" stroke-linejoin="round" stroke-dasharray="2.2 0.9"/>
<path d="M673.9 280.4L672.2 280.8 670.6 281.3 669.2 280.2 667.7 279.6 666.4 278.4 665.9 276.8 665.1 275.3 664.9 273.7 663.8 272.3 662.7 271.0 661.0 271.1 659.5 272.0 658.1 271.1 656.8 270.0 655.4 269.1 653.9 268.2 652.7 267.0 654.1 266.1 655.3 264.9 655.9 263.3 657.2 262.2 658.5 261.1 656.9 261.5 656.9 263.2 656.6 264.9 656.2 266.5 655.5 268.1 654.8 269.7 654.8 271.4 655.8 272.7 656.4 274.3M666.8 272.7L667.6 271.2 668.0 269.6 668.2 267.9 668.7 266.3 670.4 265.8 671.4 264.5 671.8 262.8 671.9 261.1 672.9 259.8 674.5 259.2 676.2 259.0 677.9 259.5 679.6 259.4 681.2 259.6 682.9 260.0 684.6 259.7 685.6 261.0 687.2 261.6 688.7 262.5 689.7 263.9 690.7 265.2 692.2 266.0 693.8 266.5 695.0 267.7 695.8 269.2 697.3 270.0 698.7 269.0M685.7 264.7L684.1 265.5 682.9 266.7 682.2 268.2 681.1 269.5 680.1 270.9 678.4 270.7 677.5 269.2 676.8 267.7 675.3 266.9 674.2 265.6 673.7 264.0 673.1 262.4 673.6 260.7 672.0 260.5 670.3 260.7 668.6 261.0 666.9 260.8 665.3 261.2 663.8 262.2 663.2 263.7 663.0 265.4 662.5 267.1 661.6 268.5 660.5 269.7 660.4 271.4 660.7 273.1 660.8 274.8 660.2 276.4 659.2 277.8 658.1 279.1 656.9 280.3 656.2 281.9 655.3 283.3 656.9 283.9M685.0 269.1L683.4 269.5 681.9 270.3 680.3 271.0 679.0 272.1 677.4 272.5 675.7 272.6 674.0 272.8 672.3 272.6 670.6 272.6 668.9 272.3 668.3 270.8 666.9 269.8 665.7 268.6 664.1 268.0 663.7 266.3 662.6 265.0 661.2 264.1 660.2 262.7 659.6 261.1 658.0 261.8 656.3 261.8 657.9 261.3 659.6 261.3 661.3 261.5 662.6 262.6 663.5 264.1 664.6 265.3 666.0 266.2M704.7 271.0L704.2 272.7 704.6 274.3 705.5 275.8 707.2 275.8 708.7 274.9 709.0 273.3 710.6 272.6 711.2 271.0 711.4 269.3 710.3 268.0 709.9 266.4 710.5 264.8 711.5 263.4 712.8 262.3 714.3 261.5 715.7 260.6 716.5 259.1 716.2 257.4 714.7 256.5 713.1 257.1 711.9 258.3 710.7 259.5 709.5 260.6 708.5 262.0 707.4 263.4M706.2 261.6L707.9 261.3 709.5 261.7 711.2 261.6 712.8 262.1 714.5 261.9 715.8 263.0 717.5 263.4 719.2 263.0 720.8 262.8 722.2 261.8 723.7 261.0 725.3 261.6 726.7 262.6 727.7 264.0 728.7 265.4M713.6 264.3L712.4 263.0 712.5 261.3 712.2 259.6 712.2 257.9 713.0 256.4 714.6 256.7 715.9 257.9 717.3 258.8 718.9 259.4 720.5 260.1 721.9 261.0 723.3 262.0 724.5 263.1 725.7 264.3 727.4 264.9 728.8 265.8 730.0 267.0 728.9 265.7 728.0 264.3 726.3 264.1 724.6 264.6 723.6 266.0 722.2 267.0 721.0 268.1 719.5 268.9 718.4 270.3 717.5 271.7 717.7 273.4 717.9 275.1 716.9 276.5 715.9 277.8 714.2 278.2M670.9 276.1L670.5 274.5 670.7 272.8 670.3 271.1 669.8 269.5 668.8 268.1 669.5 266.5 670.7 265.4 672.3 264.7 673.6 263.7 675.3 263.9 677.0 264.1 678.7 263.9 680.4 264.2 682.0 263.6 683.7 263.3 685.4 263.4 687.1 263.6 688.4 264.6 690.1 265.1 691.5 265.9 693.1 266.6 694.6 265.8 696.3 265.6 698.0 265.9 699.6 265.4M709.5 283.9L708.3 285.1 706.6 284.9 705.5 283.6 704.3 282.4 703.2 281.1 701.7 280.4 700.0 280.2 698.4 279.6 697.0 280.6 695.5 281.4 694.3 282.5 693.3 283.9 692.3 285.3 692.4 287.0 693.8 287.9 695.4 288.6 696.8 287.7 697.9 286.4 698.9 285.0 700.0 283.7 701.3 282.6 703.0 282.3 704.3 281.2 705.7 280.2 706.9 279.0 707.2 277.3 707.9 275.8 708.6 274.2M675.0 274.0L676.7 274.0 678.4 274.2 679.9 275.0 681.0 276.3 680.7 278.0 679.7 279.3 678.0 279.3 676.3 279.7 674.8 280.5 673.5 281.6 671.8 282.0 670.2 282.1 668.5 281.9 666.8 281.8 665.2 281.2 663.6 280.6 662.2 279.6 661.0 278.4 659.5 277.6 658.2 276.5 657.4 275.0 655.7 274.6 654.0 274.4 652.3 274.5 650.7 275.1 650.5 273.4 650.7 271.8 650.1 270.2 651.3 269.0 652.7 267.9 654.0 266.9 655.7 266.6 655.9 265.0 656.7 263.4 657.2 261.8 658.8 261.3 660.2 260.3 661.9 260.1 663.6 260.3M715.5 268.0L715.5 266.3 716.1 264.7 716.5 263.0 716.3 261.4 715.8 259.8 715.4 258.1 714.0 257.1 712.6 256.2 714.3 256.4 715.6 257.4 717.0 258.4 718.0 259.8 719.2 261.0 720.7 261.8 722.4 262.0 723.2 263.5 721.9 264.5 721.0 266.0 719.6 266.9 717.9 266.5 716.3 267.0 714.6 266.7M669.5 280.2L667.9 280.8 667.0 282.2 665.4 282.9 663.8 283.4 662.1 283.4 660.4 283.5 658.9 282.6 658.3 281.0 657.8 279.4 657.2 277.8 657.2 276.1 657.2 274.4 658.3 273.0 658.1 271.3 658.7 269.7 658.8 268.0 658.6 266.4 657.8 264.9 657.8 263.2M717.4 260.3L715.8 259.7 714.7 258.3 713.4 257.3 711.7 257.0 710.3 257.9 710.2 259.6 710.0 261.3 709.9 263.0 709.8 264.7 709.9 266.4 710.9 267.8 712.4 268.7 714.0 268.9 715.7 269.0 717.4 269.0 718.9 268.1 719.9 266.8 718.6 265.7 717.7 264.3 716.6 263.0 715.2 264.0 713.7 263.3 713.6 261.6 714.1 260.0 713.6 258.3 713.5 256.7 711.8 256.6 710.2 255.8 708.8 255.0 707.2 255.8 705.6 255.4 703.9 255.5 702.2 255.5 700.6 256.1 699.2 257.1 698.3 258.5 698.5 260.2 699.1 261.8 699.5 263.4 699.5 265.1M716.2 269.7L715.0 268.5 714.1 267.0 713.5 265.5 713.9 263.8 714.8 262.4 716.0 261.1 717.6 260.6 719.0 259.6 720.6 259.1 722.2 259.7 722.9 261.2 724.2 262.4 725.2 263.7 726.8 264.4 728.5 264.5 729.4 266.0 729.8 267.6 728.8 269.0 727.9 270.4 726.9 271.7 725.6 272.9 725.4 274.5M718.5 287.8L718.4 286.1 717.3 284.8 716.1 283.6 714.6 282.7 713.2 281.8 711.6 282.5 709.9 282.8 708.5 281.9 708.7 280.2 707.7 278.8 706.0 278.3 704.6 277.4 703.2 276.5 701.7 275.7 700.0 275.3 698.4 275.8 697.0 276.7 695.8 277.9 694.1 277.9 692.6 278.8 691.0 279.3 689.4 280.0M665.6 270.7L664.8 272.2 664.0 273.7 663.4 275.3 663.9 276.9 664.4 278.5 665.3 280.0 666.3 281.4 667.3 282.7 666.3 284.1 665.0 285.2 664.2 286.7 662.5 287.1 661.1 286.2 659.5 285.5 660.8 286.6 662.5 287.0 663.9 287.8 664.3 286.1 663.9 284.5 663.2 282.9 661.9 281.9 660.2 281.8M705.2 269.1L706.9 269.2 708.3 268.2 710.0 268.3 711.6 267.5 712.9 266.4 713.9 265.1 714.3 263.4 714.1 261.8 713.4 260.2 713.0 258.6 714.1 257.3 715.7 257.9 717.4 257.7 716.7 259.2 715.9 260.7 715.6 262.4 715.7 264.1 716.1 265.8 715.0 267.1 714.9 268.8M694.5 283.3L696.2 283.1 697.9 283.0 699.6 282.9 701.3 283.3 702.9 283.6 704.3 284.6 705.5 285.8 706.9 286.8 708.6 287.0 710.2 286.5 711.3 285.2 710.9 283.5 712.1 282.4 713.7 281.9 715.4 281.4 717.0 281.8 718.2 283.1 719.5 284.1M659.9 275.4L658.4 274.7 657.1 273.5 655.5 273.2 653.9 272.6 652.3 272.0 650.6 271.6 651.2 270.0 651.8 268.4 650.6 269.6 651.0 271.3 651.3 273.0 651.5 274.7 652.1 276.2 652.7 277.8 653.5 279.3 653.7 281.0 654.7 282.4 656.4 282.2 658.1 282.5 659.8 282.5 660.9 283.8 662.3 284.8 664.0 284.9 665.5 284.2 667.1 283.5 668.8 283.8 670.5 283.6 672.1 283.3 673.8 283.0 675.3 283.9 676.8 284.7 678.1 285.7 679.8 285.7 681.5 285.8 683.2 285.6 684.0 287.1M712.7 261.6L714.4 262.0 715.9 261.2 716.6 259.6 717.4 258.1 715.7 258.4 714.3 257.5 713.1 256.2 711.5 255.6 711.0 257.3 710.9 258.9 709.6 260.1 708.0 260.6 706.6 261.6 705.0 261.3 703.3 261.2 701.6 261.2 700.0 261.8 698.8 263.1 698.6 264.7 698.1 266.4 696.6 267.1 695.5 268.4 693.8 268.8M671.9 277.2L672.8 278.6 671.8 280.0 671.0 281.5 670.3 283.0 668.6 282.8 667.3 281.7 665.7 281.1 664.5 279.9 663.0 279.1 661.4 278.5 659.7 278.6 658.2 279.4 656.7 280.0 655.8 281.5 655.4 283.1 657.0 283.4 658.2 284.6 658.7 283.0 658.9 281.3 658.2 279.7 658.6 278.1 659.4 276.6 659.8 274.9 660.2 273.3 660.2 271.6 660.9 270.0 660.6 268.3M693.6 281.3L691.9 281.2 690.2 281.3 688.9 282.4 687.7 283.6 686.4 284.8 685.1 285.8 684.0 287.1 684.1 288.8 683.4 290.4 683.4 292.1 684.3 290.6 684.4 288.9 683.6 287.4 683.6 285.7 682.8 284.3 683.4 282.7 684.4 281.3 685.9 280.4 687.0 279.1 687.8 277.6 688.3 276.0 689.0 274.4 689.9 273.0 690.8 271.5 691.4 270.0 692.6 268.7 693.6 267.4 693.6 265.7 693.2 264.1 693.3 262.4 692.4 260.9 692.0 259.3M719.9 283.5L719.5 281.9 719.7 280.2 719.9 278.5 719.9 276.8 719.4 275.2 719.9 273.6 721.5 273.0 721.6 271.3 721.5 269.6 720.9 268.0 719.7 266.8 718.2 265.9 716.5 266.0 715.0 265.2 713.3 264.9 711.7 265.2 710.0 264.8 708.3 264.5 706.6 264.5 705.0 264.9 704.1 263.5 702.7 262.5 701.0 263.0 699.5 263.8 698.7 265.3 698.9 267.0 698.7 268.7 697.8 270.1 696.3 270.9 694.6 270.4 692.9 270.7 691.2 270.7 689.6 270.3M691.8 264.3L691.2 265.9 690.7 267.5 689.4 268.7 687.7 268.8 686.4 269.8 684.7 270.2 683.5 271.4 681.8 271.7 680.2 271.2 678.6 271.9 677.7 273.3 676.2 274.1 674.5 273.7 673.3 272.6 671.9 271.6 670.6 270.5 669.6 269.1 668.4 267.9 667.4 266.6 668.0 265.0M707.0 286.1L707.6 284.5 708.0 282.8 708.1 281.2 708.6 279.6 709.5 278.1 710.6 276.8 710.5 275.1 709.6 273.6 709.1 272.0 707.7 271.2 706.0 270.9 704.3 270.6 702.7 270.0 701.0 269.7 699.7 268.7 698.2 267.8 697.8 266.2 697.5 264.5 697.1 262.9 696.9 261.2 696.6 259.5 695.3 258.4 693.7 257.8 692.2 257.0M661.9 263.9L661.6 265.5 663.1 266.3 664.5 267.3 666.2 267.6 667.8 267.2 669.3 266.4 669.5 264.7 669.1 263.0 668.2 261.6 667.3 260.1 666.5 258.7 666.2 257.0 667.9 256.7 668.9 258.1 669.9 259.5 669.5 261.2 669.5 262.9 670.9 263.8 672.6 264.0 674.3 263.9 675.9 263.2 677.5 262.7 679.2 262.6 680.9 262.6 682.1 261.3 682.8 259.8 684.1 258.7 685.7 258.2 686.1 256.6 687.0 255.1 687.6 253.5 688.2 255.1M668.2 285.1L669.0 283.6 670.4 282.7 670.7 281.0 671.7 279.6 672.1 278.0 673.1 276.6 674.7 275.9 675.7 274.6 677.2 273.7 678.7 272.9 680.2 272.1 680.8 270.5 681.1 268.9 680.2 267.4 679.4 265.9 678.4 264.6 677.1 263.4 677.6 261.8 677.5 260.1 677.7 258.4 678.0 256.8 677.8 255.1 679.3 255.8 680.9 256.4 681.9 257.8 683.1 259.0 684.5 260.0 685.7 261.1 685.0 262.7 683.6 263.6 683.3 265.3M712.4 286.2L712.6 284.5 712.9 282.8 714.6 282.5 715.3 281.0 715.4 279.3 714.4 277.9 715.0 276.3 716.2 275.1 717.0 273.6 717.9 272.1 718.4 270.5 717.8 268.9 716.6 267.7 715.2 266.8 713.6 266.1 712.0 265.6M694.4 282.6L696.0 282.1 697.6 281.5 699.3 281.8 700.9 281.1 702.6 281.1 704.1 280.3 705.6 279.5 707.0 278.6 708.3 277.5 709.9 276.8 711.5 276.4 713.0 275.6 714.7 275.6 716.2 274.6 717.3 273.4 718.7 272.4 720.0 273.4 720.1 275.1 721.6 275.9 723.0 276.9 724.3 275.8 725.9 276.5 726.2 278.2 726.4 279.9 727.3 281.3 725.7 280.8 724.1 280.2 722.6 279.4 722.0 277.8M670.9 264.4L672.6 264.4 674.3 264.2 676.0 263.9 677.6 264.3 679.0 265.3 680.7 265.1 682.4 264.7 683.6 263.5 683.5 261.8 683.2 260.2 681.6 259.4 679.9 259.6 678.2 259.4 676.5 259.4 675.4 258.2 674.7 256.7 675.3 255.1 674.5 256.6M688.1 265.6L687.4 266.9 686.2 267.9 685.7 269.3 685.0 270.6 684.2 271.9 683.4 273.2 682.5 274.3 683.0 275.8 684.4 276.3 685.9 276.3 687.3 275.8 688.7 276.2 690.1 275.7 691.5 276.2 693.0 276.5 694.5 276.5 695.5 277.7 695.3 279.1 695.2 280.6 695.6 282.1 696.3 283.4M684.0 275.4L684.4 276.8 684.5 278.3 684.6 279.8 684.3 281.3 684.4 282.8 683.1 283.5 681.6 283.1 680.2 282.9 678.9 283.7 677.5 283.2 676.0 283.0 674.5 282.8 673.0 282.7 671.7 283.5 673.0 284.2 674.4 284.9 674.2 283.4 674.1 281.9 673.7 280.5 674.7 279.4 675.8 278.3 676.8 277.2 678.3 276.9 678.4 278.4 679.6 279.3 680.8 280.2 682.3 280.5 683.3 281.6 684.3 282.7 684.6 284.2 685.5 285.3 687.0 285.6 688.4 284.9 689.1 283.6 687.7 283.0M695.4 276.5L693.9 276.5 692.5 277.0 691.0 277.2 689.5 277.4 688.0 277.1 686.9 276.1 686.4 274.7 687.4 273.6 688.2 272.2 686.9 271.4 686.0 270.2 684.7 269.5 683.7 268.4 682.7 267.3 681.3 266.8 680.0 266.0 679.3 264.7 678.5 263.4 677.4 262.5 677.3 264.0 677.1 265.4 676.8 266.9 677.2 268.4 677.9 269.7 679.2 270.5 680.5 271.2 681.8 271.9 683.3 271.7 684.7 272.1M674.2 275.2L675.4 276.2 675.8 277.6 677.3 277.5 678.5 276.6 679.7 275.7 681.2 276.0 682.7 275.6 683.9 274.7 685.4 274.5 686.8 274.4 687.6 275.7 688.5 276.9 689.8 277.7 691.2 278.2 692.5 278.8 693.1 280.2 694.1 281.3 694.9 282.5 695.2 284.0 695.9 285.3 697.3 285.8 698.5 286.7 697.4 287.7 698.6 286.8 698.5 285.3 698.1 283.9M704.6 269.6L705.8 270.4 706.9 271.5 707.3 272.9 708.7 273.3 709.8 274.4 710.5 275.7 711.4 276.9 711.2 278.3 710.0 279.3 708.6 279.8 708.7 281.3 707.8 282.5 706.6 283.5 705.7 284.7 706.5 285.9 705.5 284.9 704.6 283.7 705.3 282.4 705.6 280.9M688.3 271.0L686.9 270.7 685.5 270.0 684.7 268.8 683.5 267.8 682.1 268.4 681.1 269.5 679.6 269.5 678.1 269.6 676.8 270.3 675.3 270.7 673.8 270.8 672.3 270.9 671.0 270.3 669.5 270.1 668.0 270.4 666.6 269.9 666.6 268.4 665.9 267.1 667.3 266.5M665.4 279.1L665.6 280.6 666.3 279.3 667.2 278.1 667.4 276.6 667.2 275.1 667.2 273.6 666.5 272.2 666.1 270.8 664.6 270.7 663.2 271.3 664.4 270.4 665.5 269.3 665.9 267.9 666.8 266.7 668.1 265.9 669.5 266.3 671.0 266.6 672.1 267.6 673.3 268.5 674.3 269.6 674.6 271.0 675.7 272.0 677.2 272.3 678.3 273.4 679.7 274.0 681.1 274.2 682.3 273.2 682.8 271.8M704.6 271.2L703.3 271.8 702.2 270.7 702.5 269.3 702.3 267.8 701.3 266.6 700.4 265.5 699.1 264.7 698.1 263.6 696.9 262.7 696.5 261.3 695.0 261.4 693.8 260.5 692.6 261.4 691.1 261.3 689.7 261.7 688.3 261.0 686.9 260.8 685.4 260.6 683.9 260.9 682.5 261.4 681.2 262.2 679.7 261.9 678.2 261.9 677.0 262.8 675.5 263.1 676.7 262.2 678.0 262.8 679.5 262.4 680.5 261.3 682.0 261.2 683.4 260.7 684.9 260.5 686.0 261.4 687.1 262.5 688.6 262.5M712.1 270.0L713.2 271.0 714.3 272.0 714.6 273.5 714.2 275.0 712.7 275.5 712.1 276.8 710.6 276.8 709.4 277.6 708.3 278.7 707.6 280.0 707.4 281.5 707.3 283.0 705.9 283.5 705.4 282.1 704.4 281.0 702.9 280.8 702.2 279.5 701.1 278.5 699.9 277.6 699.6 276.1 700.1 274.7 700.4 273.3 700.8 271.8 699.9 270.7 699.7 269.2 698.5 268.3 697.4 267.2 696.3 266.2 695.0 265.5 693.6 264.9 692.7 263.8M675.9 281.1L674.7 280.2 673.4 281.0 672.3 282.0 670.9 282.2 669.4 282.3 669.0 280.9 669.6 279.5 669.3 278.0 668.8 276.6 668.9 275.1 670.0 274.1 671.0 272.9 671.9 271.8 671.9 270.3 671.9 268.8 671.8 267.3 672.9 266.2 673.3 264.8 672.8 263.4M671.6 283.5L670.7 282.3 669.3 282.7 668.0 282.0 666.9 280.9 665.5 280.5 664.6 279.3 665.0 277.9 666.0 276.8 665.4 275.4 665.6 273.9 665.6 272.4 664.9 271.1 663.8 270.1 663.6 271.5 665.0 272.0 666.3 272.7 667.4 273.7 668.5 274.8 670.0 274.8 671.3 275.5 672.2 276.7 673.2 277.8 673.9 279.1 673.5 280.6M707.6 283.5L707.9 282.0 709.2 281.4 710.7 281.2 711.6 282.4 713.1 282.8 714.5 282.4 716.0 282.2 716.7 280.9 716.2 279.5 715.8 278.1 714.8 277.0 713.7 275.9 712.6 275.0 711.1 274.5 709.9 273.6 708.6 273.0 707.1 273.4M707.0 282.3L708.2 281.4 709.5 280.7 710.9 280.2 711.5 278.8 711.8 277.3 712.2 275.9 712.7 274.5 711.6 273.5 710.1 273.3 708.8 274.0 707.3 274.0 706.0 274.7 705.7 276.2 705.6 277.7 705.4 279.2 705.0 280.6 704.0 281.7 702.6 281.4 701.4 280.4 701.2 279.0 701.5 277.5 701.5 276.0 702.5 274.8 703.9 274.4 704.9 273.3M681.0 282.2L682.4 282.8 683.9 282.6 685.3 283.0 686.7 283.5 687.9 284.5 689.3 284.1 690.6 284.9 692.1 284.7 693.3 285.5 694.8 285.1 696.2 284.7 697.7 284.8 698.8 285.9 699.8 287.0 698.4 287.4 696.9 287.2M687.8 273.8L689.2 273.2 690.5 272.5 692.0 272.1 692.7 270.7 692.0 269.4 690.7 268.5 690.2 267.1 689.4 265.9 688.1 265.1 686.7 264.5 686.0 263.2 685.7 261.8 686.6 262.9 688.0 263.6 689.5 263.6 691.0 263.5 692.4 263.2 693.9 263.6 694.9 264.7 696.4 264.9 697.8 264.4 699.3 264.6 700.8 264.7 701.3 263.3 701.5 261.8 700.5 260.7 699.0 260.6M681.3 283.0L679.8 283.0 678.5 283.8 677.4 284.9 676.1 285.6 674.6 285.4 673.8 284.2 673.6 282.7 673.2 281.3 673.3 279.8 674.5 278.8 674.5 280.3 675.9 281.0 677.3 281.5 677.9 282.9 679.1 283.7M706.9 273.9L708.3 273.3 709.5 272.5 710.0 271.1 711.2 270.3 711.1 268.8 712.0 267.5 713.1 266.5 713.5 265.1 712.1 264.3 711.0 263.4 710.1 264.7 709.3 265.9 708.0 266.6 706.8 267.5 705.4 268.0 704.1 268.9 704.2 270.4 704.6 271.8 705.8 272.8M688.7 269.6L688.6 268.1 688.3 266.6 688.6 265.2 689.7 264.2 691.2 264.1 692.5 263.4 693.4 262.1 693.4 260.6 694.6 261.4 696.1 261.4 697.2 262.5 698.5 263.2 699.9 263.9 701.3 264.1 701.4 265.6 702.2 266.8 703.1 268.1 704.5 268.6 705.8 269.3 707.3 269.3 708.1 270.6 709.0 271.8 710.3 272.5 711.8 272.4 713.3 272.2 714.0 273.5 713.8 274.9 714.8 276.0 715.7 277.2 717.1 277.7 718.2 276.7 719.7 276.6 721.0 277.3 720.9 275.8 721.1 274.3M688.7 279.0L690.1 279.4 691.4 278.6 692.9 278.6 694.4 278.7 695.6 277.8 696.9 277.0 697.7 275.7 699.2 276.1 700.6 276.6 702.1 276.7 703.3 275.7 703.0 274.3 703.6 272.9 703.7 271.4 702.7 270.3 702.6 268.8 703.7 267.8 703.4 266.4 704.1 265.1M671.0 276.8L670.3 275.5 669.3 274.4 668.3 273.2 667.8 271.8 667.9 270.4 667.3 269.0 668.1 267.7 667.6 266.3 669.1 265.9 670.4 265.1 671.8 264.8 673.3 265.0 673.7 266.5 673.4 267.9 673.2 269.4 673.5 270.9 674.9 271.4 676.0 272.5 676.1 274.0 675.5 275.4 674.2 276.1 673.3 277.3M682.3 300.0L682.6 300.9 683.4 304.1 681.5 305.8 682.4 306.2 681.6 309.5 682.6 311.1 681.7 313.0 681.8 315.6 682.7 316.3 681.1 318.8 682.5 319.9 682.6 322.1 684.2 323.4 683.4 326.3 682.4 327.9 684.0 329.6 684.7 331.7 684.3 333.8 684.7 335.7 683.9 337.1 684.1 339.4 684.6 340.8 684.7 343.3 685.1 344.7 685.5 346.6 684.8 348.3 685.3 349.4 685.6 352.0 686.5 353.3 686.7 356.1 687.7 357.9 688.3 358.1 691.0 358.4M672.0 300.0L671.6 301.6 670.9 305.1 670.9 306.8 670.0 308.1 669.6 309.5 668.6 311.6 667.6 313.6 667.6 315.0 665.9 315.5 663.5 318.0 663.5 319.8 662.4 319.5 661.0 322.3 658.9 325.1 658.6 326.8M670.0 305.0L671.0 306.6 669.6 309.2 668.5 310.5 668.5 313.0 669.0 315.3 668.7 317.0 667.6 318.9 667.5 320.0 668.0 321.4 667.1 323.4 667.7 325.2 667.0 327.8 667.5 328.6 667.6 330.8 667.2 333.2M660.0 292.0L658.1 293.3 657.0 294.5 655.3 294.0 652.8 295.9 652.0 296.6 649.2 297.8 647.8 298.0 645.8 298.3 644.4 299.2 642.1 299.6 639.8 301.2 637.6 300.5 634.8 300.5 633.9 301.2 632.4 301.5 630.2 302.4M650.0 280.0L648.1 279.3 647.4 277.2 645.7 275.5 644.2 274.9 643.2 274.8 641.8 275.0 640.1 274.1 637.0 275.1 636.0 274.8 633.1 275.9 632.5 277.2 629.7 277.4 627.9 277.5 626.5 277.1M652.0 290.0L650.2 289.5 648.2 291.1 645.3 290.1 644.1 290.8 641.5 289.5 640.4 289.1 638.5 289.6 637.2 290.2 634.5 289.0 632.3 289.3 630.8 288.9M700.0 292.0L701.9 293.5 702.1 295.7 703.5 296.8 704.6 298.8 706.2 300.8 707.7 302.2 709.2 303.2 711.2 305.0 711.5 306.2M720.0 285.0L721.7 285.9 723.9 287.1 725.0 288.7 725.7 289.3 727.8 290.8 728.7 292.5 729.6 293.6 731.7 296.3M690.0 296.0L690.7 297.8 691.0 300.4 691.9 301.8 693.2 304.4 693.7 306.5 695.1 308.0 695.7 309.2 697.0 310.5 698.7 312.1M662.0 296.0L661.3 297.6 659.7 299.0 658.3 301.4 657.4 303.3 656.5 304.8 656.0 306.6 655.2 307.6 653.2 309.6 652.2 309.8 650.1 312.0M676.0 296.0L675.7 297.6 675.4 299.9 675.1 301.1 674.8 303.4 674.4 306.3 674.0 307.5 672.8 310.2 673.5 312.1 674.0 314.8 673.0 315.1 672.6 317.6 672.2 319.0 672.5 322.2 670.5 324.2 672.3 326.6 671.5 327.4 671.0 329.0 670.8 331.4 670.2 333.5 670.4 335.2" fill="none" stroke="#1ae2e8" stroke-width="1.1" stroke-linejoin="round" stroke-dasharray="2.2 0.9"/>
<path d="M693.5 231.0L692.0 230.5 690.4 230.3 688.9 229.8M682.8 258.5L683.5 259.9 684.7 261.0 686.2 261.4 687.5 262.4M680.4 247.3L679.0 246.5 677.5 245.8 676.9 244.4 676.9 242.8 677.4 241.2 677.6 239.7M681.1 218.6L679.7 219.2 678.1 219.7 677.1 221.0M682.2 214.1L682.1 215.7 681.3 217.1 680.2 218.3M664.0 238.3L664.9 237.0 665.3 235.4 665.2 233.8 664.3 232.5M663.0 217.0L662.0 218.3 662.0 219.9 662.1 221.5 662.4 223.1 661.9 224.6M673.0 220.0L672.6 221.5 673.1 223.0 673.5 224.5 674.4 225.9 675.2 227.2 676.5 228.3M708.5 237.3L710.1 237.1 711.6 237.0 713.1 236.3 714.1 235.1 715.4 234.1M726.8 230.4L725.3 231.0 723.7 231.5 722.5 232.5M710.7 248.4L710.0 246.9 709.0 245.7 707.5 245.1 705.9 245.6M721.9 231.5L722.2 230.0 722.2 228.4 722.1 226.8M689.7 247.2L691.3 247.0 692.8 247.4 694.4 247.6 695.6 248.6 696.9 249.5M688.9 243.2L687.4 243.8 685.9 244.5 684.5 245.3M689.9 226.2L688.5 225.6 687.3 224.5 686.0 223.6 684.6 222.8M691.0 210.1L690.2 208.7 689.4 207.3 688.2 206.3 686.7 205.8 685.4 204.9 683.8 205.1M691.3 206.9L691.8 205.4 692.8 204.1M699.7 249.4L701.0 250.4 702.6 250.1 704.2 250.1M699.0 202.7L699.6 204.2 700.0 205.8M689.3 174.8L687.7 174.9 686.1 174.9 684.5 174.8 683.0 174.9 681.4 175.3M695.6 183.3L694.0 183.3 692.6 184.1 691.1 184.5M702.0 182.9L701.2 184.3 699.8 185.0 698.4 185.8 697.4 187.1 697.0 188.6M726.0 183.8L726.0 182.2 725.9 180.6 725.4 179.1 724.3 177.9 722.7 177.7M730.1 173.3L731.2 174.4 732.3 175.5 733.9 175.7 735.5 175.8 737.0 176.5 738.2 177.5M728.9 167.1L727.3 166.9 725.7 166.5 724.8 165.2M714.6 164.7L713.5 163.5 712.3 162.5 711.2 161.3M679.3 168.2L677.8 168.8 676.7 170.0 675.7 171.2 675.1 172.7 674.1 174.0 673.2 175.3" fill="none" stroke="#1ae2e8" stroke-width="1.03" stroke-linejoin="round" stroke-dasharray="2.2 0.9"/>
<path d="M693.0 262.0L691.6 258.9 693.0 258.6 692.5 255.7 692.3 254.6 692.2 252.1 692.3 251.9 691.4 248.6 692.0 246.8 692.2 244.7 692.5 244.0 693.2 241.3 693.0 239.1 692.6 238.2 692.4 236.0 692.3 233.7 692.6 231.1 693.5 231.0 693.2 227.2 693.8 226.4 694.1 224.7 694.7 223.3 693.5 220.8 694.4 218.8 695.4 216.6 694.6 214.6 694.4 212.5 696.0 211.1 694.3 208.6 694.8 208.4 695.2 205.7 694.1 204.9 694.3 201.5 693.5 200.4 693.9 197.7 694.2 196.3 694.3 194.4 693.7 191.8 694.5 189.9M684.0 262.0L683.0 260.0 682.8 258.5 683.0 256.4 681.7 256.3 680.8 253.8 680.7 252.2 680.1 250.0 680.4 247.3 680.1 246.2 679.4 244.8 679.3 242.2 678.7 239.7 679.2 237.8 679.7 236.4 679.4 234.2 679.7 232.4 679.4 230.2 679.7 228.5 678.8 226.0 680.3 224.2 680.3 223.1 681.1 220.8 681.1 218.6 681.4 217.7 681.5 216.4 682.2 214.1 683.8 211.6 683.5 210.3 683.6 208.2 684.0 205.7 685.4 204.0 685.4 203.2 685.8 200.0 686.5 198.1 686.7 196.2 686.9 193.9 686.7 192.0 687.4 190.2M668.0 262.0L666.8 260.4 666.2 258.9 665.3 256.4 665.4 255.4 663.6 254.4 662.7 251.7 662.0 249.9 663.3 247.8 664.3 246.6 664.5 243.6 664.9 243.0 664.0 239.9 664.0 238.3 665.0 236.9 664.5 235.0 663.6 232.9 663.2 230.2 663.4 229.5 662.2 227.3 663.5 224.9 662.2 223.2 663.8 220.9 662.6 218.7 663.0 217.0 663.6 214.8 663.8 212.5 664.6 211.8 664.1 209.2 666.0 207.7 665.5 205.2 667.7 203.3 667.8 202.5 669.1 200.2 670.7 199.3 670.9 197.9 673.5 196.4 675.9 195.7 677.7 194.8 678.4 192.3 680.3 191.9M676.0 262.0L676.0 260.1 676.1 258.8 677.2 256.2 676.6 254.8 677.9 252.6 676.7 250.1 677.0 248.9 676.7 246.3 677.1 245.0 677.0 242.8 676.3 241.4 676.3 238.9 676.1 237.7 675.6 236.1 675.4 233.1 675.2 231.9 674.5 229.9 674.9 228.2 674.2 226.7 673.9 223.7 673.1 221.6 673.0 220.0 673.3 217.0 672.5 216.2 672.6 214.5 672.8 212.2 671.8 209.7 672.0 208.4M700.0 262.0L699.4 260.4 701.5 257.5 700.8 254.8 701.5 253.6 702.1 252.8 701.4 249.7 702.8 247.6 702.4 246.0 703.5 243.7 703.2 242.2 705.6 239.3 704.4 238.1 707.2 238.0 708.5 237.3 710.8 236.9 712.4 236.3 714.5 236.0 716.0 236.4 717.6 235.6 719.5 235.5 721.0 234.2 723.1 233.3 725.3 232.4 726.8 230.4 727.6 229.4 730.0 228.2M655.0 262.0L654.3 260.3 653.6 258.5 653.0 256.7 652.3 255.4 651.1 252.8 651.1 251.5 649.0 249.4 649.9 247.5 648.1 246.9 648.5 245.4 647.2 243.0 646.6 241.3 645.8 241.2 644.6 237.6M710.0 262.0L710.6 260.1 711.1 258.6 710.6 255.4 710.9 254.2 710.9 252.1 711.0 249.6 710.7 248.4 712.6 246.7 713.8 243.4 714.6 242.6 714.5 239.9 715.5 237.6 718.2 236.8 719.0 235.1 720.9 233.5 721.9 231.5M688.0 262.0L688.1 259.6 687.8 258.8 688.7 257.0 688.6 255.0 688.8 252.8 689.1 250.9 689.3 249.2 689.7 247.2 688.9 245.3 688.9 243.2 689.0 241.5 689.4 240.8 688.4 237.9 688.7 236.3 689.6 234.6 689.5 232.7 689.1 230.9 690.3 229.3 689.6 227.6 689.9 226.2 690.4 224.0 689.9 222.3 690.2 220.1 689.9 218.5 689.7 216.7 690.2 213.3 690.3 212.0 691.0 210.1 691.0 208.7 691.3 206.9 691.8 205.1M700.0 262.0L699.8 260.9 699.6 259.6 699.3 255.7 699.2 254.6 699.1 253.5 699.0 250.9 699.7 249.4 699.1 247.9 698.4 245.5 699.1 243.2 699.6 242.1 698.8 239.8 698.9 238.8 698.5 237.5 698.5 233.8 698.8 231.6 698.5 230.3 698.1 228.3 697.7 227.5 698.3 224.1 697.7 223.1 698.9 221.9 698.7 218.7 699.6 216.4 699.5 215.3 699.6 213.6 698.5 212.2 699.6 210.3 700.0 208.8 699.5 206.3 699.0 205.1 699.0 202.7 699.1 200.8 698.4 197.6 699.2 196.0 699.2 195.4M660.0 262.0L660.2 259.7 658.4 258.0 658.8 256.3 658.7 254.3 658.1 252.7 657.5 251.7 657.0 250.4 655.7 246.7 656.2 245.9 655.5 244.6 655.7 242.6 655.3 240.2 656.1 238.7 657.4 236.6 656.1 235.9 655.8 234.0 656.9 232.4 656.2 228.3 657.0 228.8 657.1 226.0 658.5 224.9 658.8 223.3 658.3 221.8 659.3 219.7 660.3 217.3M717.0 262.0L718.2 260.7 718.3 258.6 718.6 256.7 720.0 255.9 720.9 253.9 720.4 251.3 721.6 250.5 723.2 248.2 724.8 246.1 725.4 244.0 726.2 242.4M694.0 190.0L693.6 187.6 694.1 185.2 693.2 184.1 692.8 182.3 693.4 180.3 692.1 178.0 690.4 176.7 689.3 174.8 688.8 173.2 687.9 173.0 687.9 169.9 686.1 169.5 684.3 167.1 683.7 164.8 682.4 164.4 681.2 161.0 680.6 160.1M692.0 185.0L694.1 185.0 695.6 183.3 697.8 183.5 699.7 182.8 702.0 182.9 704.1 182.7 706.2 182.6 707.6 183.3 710.7 182.9 711.0 182.7 712.8 184.6 714.8 183.0 717.8 183.7 719.0 183.5 721.5 183.5 723.0 183.4 726.0 183.8 726.4 183.0 728.6 181.5 728.9 180.0 729.7 177.8 728.8 176.1 730.1 173.3 728.8 171.1 729.2 169.5 729.8 168.7 728.9 167.1 727.4 164.8 726.9 163.1 725.4 161.6 724.2 161.5 722.0 163.7 720.5 163.3 719.3 163.8 715.6 164.0 714.6 164.7 713.1 164.1 711.3 165.2 709.6 166.7 707.9 167.5 706.2 168.5 704.7 168.8 701.9 169.2 699.7 171.0 699.4 171.2 696.7 172.8 696.2 173.6 693.2 175.0M688.0 180.0L686.5 178.8 685.3 176.9 684.5 175.1 683.3 174.0 682.2 171.9 680.2 169.6 679.3 168.2 677.9 166.8 677.0 166.2M694.0 175.0L693.9 173.3 691.5 171.7 692.8 169.7 690.1 168.8 690.2 166.5 690.6 164.3 691.5 162.6 691.7 159.8" fill="none" stroke="#1ae2e8" stroke-width="1.15" stroke-linejoin="round" stroke-dasharray="2.2 0.9"/>
<path d="M666.8 262.0L667.5 260.2 668.2 258.5 668.8 256.7 669.6 254.9 670.0 253.1 670.3 251.2 670.6 249.3 670.7 247.4 670.7 245.5 670.8 243.6 670.7 241.8 670.1 239.9 670.2 238.0 670.4 236.1 670.5 234.2 671.2 232.5 672.3 230.9 672.2 229.0 672.2 227.1 672.2 225.2 672.9 223.4 673.3 221.6 673.5 219.7 673.7 217.8 673.7 215.9 673.9 214.0 673.7 212.1 673.5 210.2 672.7 208.5 672.3 206.7 671.2 205.2 669.8 203.9 668.1 203.0 666.4 202.1 664.8 201.1 663.1 200.3M676.3 262.0L675.5 260.3 674.9 258.5 674.8 256.6 674.4 254.7 673.8 252.9 673.4 251.0 672.8 249.2 672.6 247.3 671.7 245.7 670.4 244.3 669.0 243.0 667.5 241.9 666.5 240.3 665.8 238.5 664.8 236.9 663.8 235.3 662.9 233.6 661.9 232.0 661.0 230.3 660.5 228.5 659.7 226.7 658.8 225.0 658.3 223.2 658.3 221.3 658.2 219.4 657.8 217.6 657.1 215.8 656.3 214.1 655.0 212.7 656.8 212.0 658.2 210.6 659.3 209.1 660.8 207.9 662.5 207.0 664.1 206.0 665.6 204.9 667.2 203.8 668.7 202.8 670.1 201.4 671.1 199.8 672.6 198.6 674.1 197.4 675.0 195.7 675.5 193.9M706.0 262.0L706.3 260.1 706.4 258.2 706.5 256.3 706.3 254.4 706.5 252.5 706.7 250.6 706.3 248.8 706.2 246.9 706.3 245.0 706.0 243.1 705.9 241.2 705.7 239.3 704.8 237.6 703.6 236.2 703.1 234.4 703.2 232.5 703.6 230.6 704.1 228.8 704.3 226.9 704.4 225.0 703.6 223.3 702.8 221.6 702.4 219.7 701.9 217.9 701.4 216.0M670.6 262.0L670.4 260.1 669.9 258.3 669.6 256.4 669.9 254.5 670.4 252.7 671.1 250.9 671.5 249.1 671.9 247.2 672.6 245.5 673.0 243.6 673.1 241.7 673.2 239.8 673.3 237.9 673.3 236.0 672.7 234.2 672.7 232.3 672.4 230.4 672.2 228.5 672.4 226.6 673.0 224.9 673.6 223.1 674.5 221.4 675.4 219.7 676.4 218.1 677.0 216.3 677.4 214.4 677.4 212.5 677.6 210.6 677.9 208.7 678.4 206.9 678.8 205.1 679.6 203.3 680.0 201.5 680.6 199.7 680.7 197.8 680.5 195.9 679.9 194.1M708.9 262.0L708.2 260.3 706.8 258.9 705.4 257.6 704.4 256.0 703.0 254.7 701.5 253.6 699.9 252.6 698.6 251.2 697.6 249.6 697.1 247.7 697.1 245.8 696.9 243.9 696.5 242.1 696.0 240.3 695.8 238.4 696.1 236.5 696.0 234.6 696.2 232.7 696.8 230.9 697.3 229.1 697.2 227.2 697.4 225.3 697.9 223.4 698.0 221.5 697.7 219.7 697.2 217.8 697.2 215.9 697.3 214.0 697.5 212.2 697.8 210.3 697.8 208.4 697.1 206.6 696.2 205.0 696.4 203.1 697.0 201.3 698.0 199.7 698.9 198.0 699.7 196.3 700.2 194.4 700.6 192.6 701.1 190.7 702.2 189.2 702.7 187.4 702.8 185.5M689.9 262.0L690.3 260.1 690.5 258.2 690.5 256.3 690.1 254.5 689.2 252.8 688.1 251.3 687.2 249.6 686.3 247.9 685.8 246.1 685.5 244.2 685.4 242.3 685.1 240.5 684.7 238.6 684.9 236.7 685.2 234.9 685.3 233.0 686.0 231.2 686.2 229.3 686.1 227.4 685.7 225.5 685.0 223.8 683.8 222.2 683.0 220.5 682.4 218.7 682.4 216.8 682.6 214.9 683.2 213.1 683.6 211.3 684.2 209.5 684.5 207.6 684.9 205.7 685.4 203.9 685.7 202.0 685.8 200.1 685.8 198.2 685.7 196.3 686.2 194.5 687.2 192.9 687.9 191.1 688.4 189.3 689.0 187.5 689.5 185.7 689.8 183.8M665.5 262.0L665.1 260.2 664.0 258.6 662.8 257.1 661.8 255.5 661.4 253.6 661.3 251.7 661.3 249.8 661.4 247.9 661.8 246.1 662.4 244.3 663.3 242.6 664.0 240.9 664.7 239.1 664.8 237.2 665.4 235.4 665.2 233.5 665.2 231.6 665.3 229.7 665.5 227.8 666.6 226.2 667.6 224.6 668.3 222.9 668.9 221.1 670.0 219.5 670.7 217.7 670.9 215.8 670.6 214.0 670.6 212.1 670.9 210.2 670.8 208.3M684.9 262.0L685.5 260.2 685.5 258.3 685.3 256.4 685.1 254.5 685.1 252.6 684.5 250.8 683.5 249.2 682.7 247.5 682.1 245.7 681.7 243.9 681.2 242.0 681.1 240.1 681.2 238.2 681.1 236.3 681.7 234.5 681.8 232.7 682.3 230.8 682.2 228.9 681.9 227.0 681.3 225.2 680.6 223.5 680.3 221.6 680.1 219.7 679.4 217.9 678.8 216.1 678.8 214.2 678.8 212.3 679.4 210.5 679.3 208.6 678.9 206.8 678.7 204.9 678.5 203.0 678.3 201.1 677.6 199.3 677.5 197.4 677.6 195.5 678.0 193.7 678.4 191.8 678.3 189.9M692.2 262.0L691.3 260.3 690.5 258.6 689.9 256.8 689.4 254.9 689.3 253.0 689.5 251.2 689.8 249.3 690.6 247.6 691.9 246.2 693.1 244.7 693.9 243.0 694.8 241.3 695.5 239.5 696.2 237.8 697.4 236.3 698.0 234.5 698.2 232.6 698.1 230.7 698.4 228.8 698.5 226.9 698.6 225.0 699.2 223.2M708.2 262.0L708.1 260.1 708.1 258.2 708.4 256.3 708.3 254.4 709.0 252.7 709.7 250.9 710.7 249.3 711.7 247.6 712.8 246.1 714.3 244.9 715.3 243.3 715.8 241.5 716.7 239.8 717.9 238.3 719.2 237.0 720.5 235.6 722.1 234.5 722.9 232.8 721.1 232.1 719.4 231.2 718.2 229.7 717.4 228.0 716.4 226.4 715.1 225.0 714.0 223.5 712.9 221.9 711.3 220.9 709.6 220.0 708.1 218.9 706.5 217.9 705.0 216.6 703.7 215.3 702.6 213.8 701.8 212.0 701.4 210.2 701.3 208.3M700.2 262.0L699.8 260.2 699.3 258.3 698.6 256.6 697.6 254.9 696.6 253.3 695.6 251.7 694.3 250.3 693.2 248.8 692.4 247.1 690.8 246.0 689.3 244.9 688.1 243.4 687.1 241.8 685.9 240.3 685.3 238.5 684.6 236.7 684.1 234.9 683.5 233.1 682.4 231.5 681.4 229.9 680.2 228.4 678.6 227.4 677.0 226.5 675.4 225.3 673.9 224.3 672.9 222.6 671.4 221.4 670.3 219.9 669.2 218.3 668.6 216.5 668.1 214.7 667.0 213.2 665.7 211.8 664.2 210.6 662.7 209.4 661.7 207.8 660.9 206.1 660.1 204.4 659.1 202.8M675.4 262.0L675.8 260.1 676.2 258.3 676.8 256.5 677.0 254.6 677.4 252.7 677.3 250.8 677.5 249.0 677.6 247.1 677.4 245.2 677.6 243.3 677.4 241.4 677.9 239.6 678.5 237.7 679.3 236.0 680.0 234.3 681.1 232.7 682.2 231.2 683.3 229.6 684.4 228.1 685.1 226.3 685.3 224.4 685.7 222.6 685.5 220.7 685.6 218.8 685.6 216.9 684.7 215.2 684.5 213.3 684.0 211.5 683.1 209.8 681.9 208.3 681.2 206.5 680.9 204.7M675.4 262.0L675.9 260.2 676.9 258.5 677.5 256.7 678.0 254.9 678.0 253.0 677.8 251.1 677.5 249.2 677.1 247.4 676.7 245.5 676.7 243.6 676.8 241.7 676.6 239.8 676.5 237.9 677.1 236.1 677.6 234.3 678.4 232.5 679.1 230.8 679.6 228.9 680.5 227.3 680.8 225.4 681.0 223.5M665.2 262.0L664.1 260.5 663.4 258.7 662.5 257.0 662.0 255.2 661.0 253.6 660.8 251.7 660.2 249.9 659.4 248.1 658.6 246.4 657.6 244.8 657.0 243.0 656.5 241.2 655.8 239.4 655.3 237.5 654.4 235.9 653.0 234.6 652.0 232.9 650.6 231.7 649.3 230.4 649.0 228.5" fill="none" stroke="#1ae2e8" stroke-width="1.05" stroke-linejoin="round" stroke-dasharray="2.2 0.9"/>
<path d="M662.9 233.6L661.5 232.4 660.2 230.9 658.7 229.8 657.3 228.5 656.0 227.1 654.6 225.8 654.1 224.0 653.7 222.1 652.9 220.4 652.7 218.5 653.9 220.0 655.4 221.2 657.0 222.2 658.7 222.8M658.3 223.2L659.4 221.7 660.4 220.0 661.5 218.5 662.1 216.7 662.8 214.9 663.0 213.0 663.9 211.3 664.9 209.7 666.0 208.2 667.1 206.7 668.0 205.0 668.9 203.3 670.1 201.9 671.1 200.3M705.9 241.2L704.2 240.3 702.8 239.0 701.3 237.9 700.2 236.3 699.0 234.8 698.0 233.2 696.4 232.2 694.9 231.0 693.1 230.5M678.4 206.9L679.5 205.4 679.9 203.6 680.5 201.8 680.7 199.9 680.1 198.1M661.8 246.1L661.0 244.3 660.6 242.5 660.2 240.6 660.4 238.7 660.7 236.9 661.0 235.0 660.9 233.1 660.9 231.2M665.3 229.7L664.7 227.9 663.7 226.3 663.1 224.5 662.6 222.7 662.7 220.8 662.6 218.9 662.1 217.0 661.3 215.3M685.5 260.2L687.2 259.2 688.4 257.8 689.8 256.4 691.0 255.0 692.1 253.4 692.8 251.7 693.8 250.1 695.0 248.6 696.4 247.3 697.6 245.8 698.9 244.4 699.8 242.7 700.5 241.0 701.4 239.3 702.6 237.8 703.8 236.3 705.2 235.2 706.5 233.7 708.0 232.6 709.5 231.4 710.9 230.1 712.0 228.6 713.4 227.3 714.5 225.8 716.0 224.6 717.7 223.8M682.7 247.5L683.4 245.8 683.9 243.9 684.3 242.1 685.0 240.3 685.3 238.4 685.7 236.5 686.3 234.7 687.1 233.0 688.4 231.7 689.5 230.1 690.3 228.4 691.2 226.7 691.7 224.9 692.2 223.0 692.4 221.1 692.4 219.2 691.9 217.4 691.1 215.7M692.4 247.1L691.8 245.2 690.6 243.8 689.8 242.0 689.4 240.2 689.3 238.3 689.3 236.4 688.9 234.5 688.3 232.7 686.6 231.8 685.1 230.8 683.4 229.8 681.7 229.0 680.3 227.7 679.0 226.3M677.0 226.5L675.1 226.2 673.2 225.7 671.3 225.6 669.4 225.6 667.5 225.6 665.7 225.9 663.8 226.3 661.9 226.5 660.1 226.0 658.5 225.0 657.1 223.7 655.7 222.4M667.0 213.2L667.2 211.3 667.3 209.4 666.9 207.5 666.3 205.7 665.2 204.2M677.9 239.6L677.1 237.8 676.7 236.0 676.4 234.1 675.6 232.4 674.9 230.6 674.2 228.8 673.4 227.1 671.7 226.3M685.7 222.6L686.7 220.9 687.8 219.4 688.9 217.8 690.1 216.4 691.3 214.9M659.4 248.1L659.9 246.3 660.5 244.5 660.9 242.6 661.2 240.8 661.6 238.9 662.4 237.2 662.8 235.3 663.2 233.5 663.5 231.6 663.8 229.7 664.2 227.9" fill="none" stroke="#1ae2e8" stroke-width="1" stroke-linejoin="round" stroke-dasharray="2.2 0.9"/>
<path d="M703.1 179.2L703.8 177.8 703.6 176.2M676.1 176.3L677.6 176.6M700.1 173.1L700.7 174.6 701.5 176.0 702.2 177.4 703.8 177.5 705.4 177.5 706.8 176.8M694.7 170.6L694.0 172.1 692.6 172.8 691.4 173.9 690.6 175.3M682.9 182.7L682.6 184.2M700.6 292.6L702.5 292.6 704.4 292.6 706.0 293.6 707.2 295.1 708.3 296.6M701.5 302.3L703.3 302.0 705.2 301.4 706.8 300.4 708.6 299.9M689.3 294.1L687.5 293.4 686.2 292.1 684.8 290.7 683.6 289.3 682.1 288.1 680.9 286.6 679.5 285.3 677.9 284.3 676.3 283.3 674.8 282.1M683.7 295.2L683.1 297.0 682.0 298.6 681.3 300.3 680.1 301.9M672.6 296.9L673.2 298.8 673.3 300.7 673.1 302.5M684.4 307.3L686.2 307.1 688.1 307.4M645.3 310.1L643.7 309.0 641.8 308.7 639.9 308.5" fill="none" stroke="#1ae2e8" stroke-width="0.95" stroke-linejoin="round" stroke-dasharray="2.2 0.9"/>
<path d="M698.5 180.5L700.1 180.4 701.7 179.9 703.1 179.2 704.4 178.3 705.8 177.6 707.4 177.2 707.8 175.6 706.2 175.5M686.9 183.5L685.3 183.9 683.7 183.8 682.4 183.0 681.4 181.7 680.2 180.6 679.8 179.1 678.7 178.0 677.6 176.8 676.1 176.3 677.0 177.6 677.8 178.9 677.8 180.5 679.2 179.8M697.3 174.3L698.5 173.3 700.1 173.1 701.7 173.6 703.2 173.2 704.8 173.0 705.8 171.7 704.8 170.5 704.1 169.1 702.7 168.2 701.1 168.1M694.4 172.3L694.1 170.7 694.4 169.1 694.8 167.6 694.9 166.0 695.4 167.5 695.3 169.1 694.7 170.6 694.1 172.1 693.7 173.7 693.8 175.3 693.2 176.7 691.9 177.7 690.9 178.9M690.5 172.9L690.0 174.5 689.7 176.0 689.8 177.6 689.8 179.2 691.1 180.2 692.7 180.3M697.5 180.2L698.4 181.6 698.5 183.2 698.5 184.8 697.6 183.5 696.0 183.2 694.4 183.0 693.4 181.8 693.4 180.2 694.1 178.7 695.3 177.6 696.8 177.1M701.0 179.9L702.5 180.3 704.1 180.5 705.7 180.3 707.0 179.3 705.6 178.4 705.1 176.9 704.2 175.6 702.9 174.6 701.3 174.9 699.8 175.5 698.6 176.5M691.9 180.5L693.3 179.7 694.7 178.8 694.3 177.3 693.8 175.8 693.1 174.3 693.7 172.8 694.7 171.6 696.1 170.8M683.8 176.4L684.9 175.3 686.3 174.5 687.8 173.9 689.3 173.4 690.9 173.1 692.5 173.2 694.1 172.9M696.7 180.4L698.0 181.4 699.4 182.0 700.2 183.4 701.4 184.5 699.8 184.7 698.5 185.7 697.5 184.5M695.9 173.3L695.6 174.8 696.4 176.2 696.0 177.7 696.4 179.3 697.5 180.4 698.4 181.7 698.4 183.3 697.4 184.6 697.3 186.2M695.0 182.9L693.6 183.7 692.1 184.1 690.5 184.2 688.9 183.6 687.4 183.2 685.9 182.6 684.4 182.1 682.9 182.7 681.4 183.2 679.8 182.9 680.1 181.3 680.3 179.7M685.0 290.6L684.5 292.5 683.4 294.0 682.5 295.7 681.7 297.4 681.6 299.3 680.8 301.0 680.2 302.8 679.5 304.6 679.2 306.4 678.6 308.2 678.1 310.1 677.6 311.9 677.4 313.8 677.2 315.7 677.2 317.6 677.5 319.4 677.6 321.3 677.7 323.2 678.0 325.1 677.6 327.0 677.3 328.8M699.0 291.7L700.6 292.6 702.5 293.0 704.4 293.0 706.2 292.4 707.9 291.6 709.6 290.8 711.5 291.0 713.4 291.1 715.1 292.1 716.8 292.9 718.1 294.3M667.7 294.8L668.6 296.5 669.4 298.2 669.9 300.1 670.3 301.9 670.5 303.8 670.3 305.7 670.1 307.6 670.1 309.5 670.2 311.4 669.7 313.2 668.8 314.9 668.1 316.6 668.1 318.5 668.5 320.4M685.7 289.8L684.0 290.5 682.4 291.5 680.5 291.5 678.6 291.8 676.7 292.3 674.8 292.1 673.0 292.3 671.1 292.2 669.3 292.9 667.7 294.0 666.1 294.9 664.5 296.0 662.8 296.9 661.5 298.2 660.3 299.7M692.9 295.2L694.7 295.8 696.4 296.8 698.0 297.8 699.1 299.3 700.3 300.8 701.5 302.3 702.6 303.8 704.0 305.0 705.5 306.2 706.9 307.5 708.2 308.9M691.0 293.2L689.3 294.1 687.5 294.7 685.6 295.0 683.7 295.2 681.8 295.5 680.1 294.8 678.7 293.5 677.2 292.4 675.7 291.2 673.9 290.7 672.0 290.2 670.5 289.0 668.7 288.5 666.9 288.0M676.1 292.4L675.1 294.0 674.0 295.6 672.6 296.9 671.3 298.3 670.1 299.8 669.1 301.4 668.2 303.1 667.1 304.6 666.4 306.4 665.3 307.9 664.7 309.7 664.7 311.6M666.1 295.7L666.8 297.5 667.8 299.1 669.0 300.5 670.5 301.7 672.1 302.8 673.7 303.8 675.3 304.8 677.0 305.7 678.8 306.2 680.7 306.4 682.6 306.6 684.4 307.3 686.1 308.0 687.6 309.2 689.1 310.4 690.6 311.5 691.7 313.1M668.1 291.4L666.5 292.4 664.7 292.9 663.1 294.0 661.6 295.1 660.1 296.2 658.4 297.1 657.3 298.7 656.5 300.4 655.2 301.8 654.1 303.4 652.6 304.6 651.1 305.7 650.0 307.2 648.8 308.7 647.1 309.5 645.3 310.1 643.4 310.6 641.6 311.1 639.7 311.2 637.8 311.0 635.9 310.7 634.2 309.9M700.0 291.3L700.8 293.0 701.7 294.7 702.4 296.5 702.8 298.3 703.0 300.2 703.8 302.0 704.1 303.8 704.8 305.6 705.4 307.4 705.9 309.2 706.6 311.0 707.5 312.7 707.8 314.6 708.5 316.4 709.2 318.1 709.6 320.0 710.5 321.6 711.7 323.1" fill="none" stroke="#1ae2e8" stroke-width="1" stroke-linejoin="round" stroke-dasharray="2.2 0.9"/>
<path d="M682.6 300.9L681.1 301.1 679.6 301.8 678.6 303.0M684.3 333.8L683.3 332.5 682.5 331.1 682.6 329.5 681.9 328.1 681.2 326.7 680.8 325.1M671.6 301.6L670.8 303.0 670.0 304.3 669.2 305.7M667.6 315.0L669.1 315.5 670.7 315.5 672.3 315.6 673.9 315.8 675.4 315.4M642.1 299.6L641.3 301.0 640.7 302.5 640.1 304.0 639.2 305.3M721.7 285.9L720.5 284.9 719.4 283.7 718.5 282.4 717.3 281.4M672.3 326.6L670.7 326.6 669.1 326.7 667.7 327.4 666.6 328.6 665.0 328.9 663.7 329.7" fill="none" stroke="#1ae2e8" stroke-width="0.99" stroke-linejoin="round" stroke-dasharray="2.2 0.9"/>
<path d="M673.2 256.3h1.7v1.7h-1.7zM664.4 272.8h1.7v1.7h-1.7zM662.6 266.4h1.7v1.7h-1.7zM667.5 262.0h1.7v1.7h-1.7zM672.9 258.0h1.7v1.7h-1.7zM676.8 255.1h1.7v1.7h-1.7zM671.3 279.9h1.7v1.7h-1.7zM665.6 277.6h1.7v1.7h-1.7zM663.0 271.5h1.7v1.7h-1.7zM657.2 270.3h1.7v1.7h-1.7zM651.8 266.1h1.7v1.7h-1.7zM656.4 261.3h1.7v1.7h-1.7zM655.8 264.0h1.7v1.7h-1.7zM654.0 270.5h1.7v1.7h-1.7zM683.6 263.3h1.7v1.7h-1.7zM682.4 269.6h1.7v1.7h-1.7zM667.4 267.0h1.7v1.7h-1.7zM671.0 262.0h1.7v1.7h-1.7zM675.4 258.2h1.7v1.7h-1.7zM682.1 259.1h1.7v1.7h-1.7zM687.8 261.6h1.7v1.7h-1.7zM692.9 265.7h1.7v1.7h-1.7zM697.9 268.2h1.7v1.7h-1.7zM675.2 264.5h1.7v1.7h-1.7zM674.9 259.0h1.7v1.7h-1.7zM674.4 255.5h1.7v1.7h-1.7zM658.0 269.3h1.7v1.7h-1.7zM684.8 263.9h1.7v1.7h-1.7zM680.2 268.6h1.7v1.7h-1.7zM676.0 266.9h1.7v1.7h-1.7zM672.3 261.5h1.7v1.7h-1.7zM667.7 260.1h1.7v1.7h-1.7zM662.3 262.9h1.7v1.7h-1.7zM659.6 268.9h1.7v1.7h-1.7zM659.3 275.5h1.7v1.7h-1.7zM655.4 281.0h1.7v1.7h-1.7zM663.3 262.5h1.7v1.7h-1.7zM681.0 269.4h1.7v1.7h-1.7zM674.8 271.8h1.7v1.7h-1.7zM668.1 271.5h1.7v1.7h-1.7zM663.2 267.2h1.7v1.7h-1.7zM659.4 261.8h1.7v1.7h-1.7zM657.1 260.5h1.7v1.7h-1.7zM662.6 263.2h1.7v1.7h-1.7zM712.0 256.1h1.7v1.7h-1.7zM703.8 273.5h1.7v1.7h-1.7zM708.2 272.4h1.7v1.7h-1.7zM709.4 267.2h1.7v1.7h-1.7zM711.9 261.5h1.7v1.7h-1.7zM715.3 256.6h1.7v1.7h-1.7zM709.9 258.6h1.7v1.7h-1.7zM718.3 262.1h1.7v1.7h-1.7zM716.6 259.2h1.7v1.7h-1.7zM707.0 260.4h1.7v1.7h-1.7zM713.7 261.1h1.7v1.7h-1.7zM720.0 261.9h1.7v1.7h-1.7zM725.9 261.8h1.7v1.7h-1.7zM711.6 262.2h1.7v1.7h-1.7zM712.1 255.6h1.7v1.7h-1.7zM718.1 258.5h1.7v1.7h-1.7zM723.7 262.3h1.7v1.7h-1.7zM729.1 266.1h1.7v1.7h-1.7zM723.8 263.8h1.7v1.7h-1.7zM718.6 268.1h1.7v1.7h-1.7zM717.1 274.3h1.7v1.7h-1.7zM690.7 265.1h1.7v1.7h-1.7zM669.4 270.3h1.7v1.7h-1.7zM669.9 264.5h1.7v1.7h-1.7zM676.2 263.2h1.7v1.7h-1.7zM682.8 262.5h1.7v1.7h-1.7zM689.2 264.2h1.7v1.7h-1.7zM695.4 264.8h1.7v1.7h-1.7zM705.7 284.1h1.7v1.7h-1.7zM700.8 279.5h1.7v1.7h-1.7zM694.7 280.5h1.7v1.7h-1.7zM691.5 286.2h1.7v1.7h-1.7zM697.1 285.6h1.7v1.7h-1.7zM702.1 281.4h1.7v1.7h-1.7zM706.4 276.5h1.7v1.7h-1.7zM665.0 269.2h1.7v1.7h-1.7zM671.7 282.2h1.7v1.7h-1.7zM667.4 283.4h1.7v1.7h-1.7zM667.2 277.6h1.7v1.7h-1.7zM663.2 272.1h1.7v1.7h-1.7zM666.7 266.5h1.7v1.7h-1.7zM671.4 262.1h1.7v1.7h-1.7zM663.3 277.7h1.7v1.7h-1.7zM661.2 271.4h1.7v1.7h-1.7zM668.5 281.5h1.7v1.7h-1.7zM662.2 281.7h1.7v1.7h-1.7zM659.3 283.1h1.7v1.7h-1.7zM663.3 277.7h1.7v1.7h-1.7zM660.4 272.5h1.7v1.7h-1.7zM654.1 274.7h1.7v1.7h-1.7zM648.2 272.7h1.7v1.7h-1.7zM650.7 278.2h1.7v1.7h-1.7zM649.8 271.1h1.7v1.7h-1.7zM679.0 274.2h1.7v1.7h-1.7zM677.1 278.5h1.7v1.7h-1.7zM671.0 281.1h1.7v1.7h-1.7zM664.3 280.3h1.7v1.7h-1.7zM658.7 276.8h1.7v1.7h-1.7zM653.2 273.6h1.7v1.7h-1.7zM649.8 270.9h1.7v1.7h-1.7zM653.2 266.0h1.7v1.7h-1.7zM656.3 261.0h1.7v1.7h-1.7zM662.7 259.4h1.7v1.7h-1.7zM709.9 255.9h1.7v1.7h-1.7zM703.2 255.0h1.7v1.7h-1.7zM716.5 256.7h1.7v1.7h-1.7zM722.0 260.5h1.7v1.7h-1.7zM722.6 266.4h1.7v1.7h-1.7zM711.8 255.3h1.7v1.7h-1.7zM705.6 257.6h1.7v1.7h-1.7zM703.4 263.9h1.7v1.7h-1.7zM714.4 257.0h1.7v1.7h-1.7zM716.8 262.5h1.7v1.7h-1.7zM715.9 269.1h1.7v1.7h-1.7zM715.3 263.9h1.7v1.7h-1.7zM714.5 257.3h1.7v1.7h-1.7zM714.8 256.6h1.7v1.7h-1.7zM719.8 261.0h1.7v1.7h-1.7zM720.2 265.1h1.7v1.7h-1.7zM713.8 265.8h1.7v1.7h-1.7zM659.3 269.8h1.7v1.7h-1.7zM668.7 279.4h1.7v1.7h-1.7zM662.9 282.5h1.7v1.7h-1.7zM657.5 280.1h1.7v1.7h-1.7zM656.4 273.5h1.7v1.7h-1.7zM657.9 267.2h1.7v1.7h-1.7zM716.6 271.6h1.7v1.7h-1.7zM718.5 277.9h1.7v1.7h-1.7zM716.0 273.2h1.7v1.7h-1.7zM716.0 279.4h1.7v1.7h-1.7zM713.2 268.1h1.7v1.7h-1.7zM714.1 274.6h1.7v1.7h-1.7zM712.4 280.9h1.7v1.7h-1.7zM708.5 285.5h1.7v1.7h-1.7zM705.9 254.8h1.7v1.7h-1.7zM705.9 254.8h1.7v1.7h-1.7zM699.6 252.8h1.7v1.7h-1.7zM716.5 259.5h1.7v1.7h-1.7zM710.8 256.1h1.7v1.7h-1.7zM709.0 262.2h1.7v1.7h-1.7zM711.5 267.8h1.7v1.7h-1.7zM718.1 267.3h1.7v1.7h-1.7zM715.7 262.1h1.7v1.7h-1.7zM713.3 259.1h1.7v1.7h-1.7zM709.4 255.0h1.7v1.7h-1.7zM703.0 254.6h1.7v1.7h-1.7zM697.4 257.7h1.7v1.7h-1.7zM698.7 264.3h1.7v1.7h-1.7zM714.2 267.6h1.7v1.7h-1.7zM714.0 261.5h1.7v1.7h-1.7zM719.7 258.2h1.7v1.7h-1.7zM724.4 262.9h1.7v1.7h-1.7zM729.0 266.7h1.7v1.7h-1.7zM724.8 272.0h1.7v1.7h-1.7zM712.3 281.0h1.7v1.7h-1.7zM706.7 277.2h1.7v1.7h-1.7zM705.2 270.7h1.7v1.7h-1.7zM706.4 264.1h1.7v1.7h-1.7zM699.0 276.1h1.7v1.7h-1.7zM700.8 282.3h1.7v1.7h-1.7zM717.6 286.9h1.7v1.7h-1.7zM713.8 281.9h1.7v1.7h-1.7zM707.6 281.0h1.7v1.7h-1.7zM703.7 276.6h1.7v1.7h-1.7zM697.6 274.9h1.7v1.7h-1.7zM691.8 278.0h1.7v1.7h-1.7zM664.1 284.3h1.7v1.7h-1.7zM661.1 283.1h1.7v1.7h-1.7zM660.2 285.3h1.7v1.7h-1.7zM665.7 287.9h1.7v1.7h-1.7zM663.9 271.3h1.7v1.7h-1.7zM663.6 277.7h1.7v1.7h-1.7zM665.4 283.2h1.7v1.7h-1.7zM660.2 285.3h1.7v1.7h-1.7zM663.1 286.9h1.7v1.7h-1.7zM661.0 281.0h1.7v1.7h-1.7zM709.3 258.8h1.7v1.7h-1.7zM707.5 267.4h1.7v1.7h-1.7zM713.1 264.3h1.7v1.7h-1.7zM712.2 257.7h1.7v1.7h-1.7zM715.8 258.4h1.7v1.7h-1.7zM715.2 264.9h1.7v1.7h-1.7zM695.4 282.2h1.7v1.7h-1.7zM702.1 282.8h1.7v1.7h-1.7zM707.7 286.1h1.7v1.7h-1.7zM711.3 281.6h1.7v1.7h-1.7zM717.3 282.3h1.7v1.7h-1.7zM657.1 260.4h1.7v1.7h-1.7zM658.7 260.9h1.7v1.7h-1.7zM657.5 273.8h1.7v1.7h-1.7zM652.6 271.8h1.7v1.7h-1.7zM653.5 265.7h1.7v1.7h-1.7zM657.1 260.4h1.7v1.7h-1.7zM658.7 264.3h1.7v1.7h-1.7zM659.8 261.2h1.7v1.7h-1.7zM656.3 272.6h1.7v1.7h-1.7zM654.4 266.2h1.7v1.7h-1.7zM656.8 261.7h1.7v1.7h-1.7zM662.3 264.9h1.7v1.7h-1.7zM659.7 270.9h1.7v1.7h-1.7zM651.6 273.8h1.7v1.7h-1.7zM650.8 270.0h1.7v1.7h-1.7zM656.1 273.8h1.7v1.7h-1.7zM661.6 280.5h1.7v1.7h-1.7zM650.5 267.9h1.7v1.7h-1.7zM653.9 264.5h1.7v1.7h-1.7zM658.0 269.8h1.7v1.7h-1.7zM662.3 274.5h1.7v1.7h-1.7zM665.4 280.4h1.7v1.7h-1.7zM671.3 279.5h1.7v1.7h-1.7zM652.2 274.5h1.7v1.7h-1.7zM652.7 281.1h1.7v1.7h-1.7zM658.8 278.5h1.7v1.7h-1.7zM663.5 281.7h1.7v1.7h-1.7zM665.2 282.9h1.7v1.7h-1.7zM653.3 277.4h1.7v1.7h-1.7zM658.4 281.6h1.7v1.7h-1.7zM664.3 281.1h1.7v1.7h-1.7zM667.2 281.5h1.7v1.7h-1.7zM673.1 284.2h1.7v1.7h-1.7zM656.3 272.6h1.7v1.7h-1.7zM649.8 270.8h1.7v1.7h-1.7zM650.1 270.5h1.7v1.7h-1.7zM651.8 277.0h1.7v1.7h-1.7zM655.6 281.3h1.7v1.7h-1.7zM661.4 284.0h1.7v1.7h-1.7zM667.9 283.0h1.7v1.7h-1.7zM674.4 283.1h1.7v1.7h-1.7zM680.7 284.9h1.7v1.7h-1.7zM710.6 258.0h1.7v1.7h-1.7zM707.0 260.7h1.7v1.7h-1.7zM715.7 258.8h1.7v1.7h-1.7zM712.3 255.4h1.7v1.7h-1.7zM708.7 259.2h1.7v1.7h-1.7zM702.4 260.4h1.7v1.7h-1.7zM697.7 263.9h1.7v1.7h-1.7zM693.0 267.9h1.7v1.7h-1.7zM666.4 279.0h1.7v1.7h-1.7zM664.1 273.8h1.7v1.7h-1.7zM659.9 269.1h1.7v1.7h-1.7zM659.1 270.6h1.7v1.7h-1.7zM662.8 274.9h1.7v1.7h-1.7zM657.7 272.0h1.7v1.7h-1.7zM651.5 269.6h1.7v1.7h-1.7zM671.0 276.3h1.7v1.7h-1.7zM669.4 282.2h1.7v1.7h-1.7zM663.6 279.1h1.7v1.7h-1.7zM657.4 278.5h1.7v1.7h-1.7zM656.2 282.5h1.7v1.7h-1.7zM657.4 278.9h1.7v1.7h-1.7zM659.3 272.4h1.7v1.7h-1.7zM685.3 279.2h1.7v1.7h-1.7zM685.1 283.2h1.7v1.7h-1.7zM678.7 285.4h1.7v1.7h-1.7zM672.5 286.3h1.7v1.7h-1.7zM680.9 288.3h1.7v1.7h-1.7zM684.3 290.3h1.7v1.7h-1.7zM686.6 284.1h1.7v1.7h-1.7zM678.3 289.7h1.7v1.7h-1.7zM680.1 289.8h1.7v1.7h-1.7zM680.9 291.6h1.7v1.7h-1.7zM676.1 287.4h1.7v1.7h-1.7zM670.8 283.9h1.7v1.7h-1.7zM665.3 280.3h1.7v1.7h-1.7zM687.0 282.2h1.7v1.7h-1.7zM688.3 275.9h1.7v1.7h-1.7zM682.5 281.8h1.7v1.7h-1.7zM682.1 275.0h1.7v1.7h-1.7zM689.7 273.0h1.7v1.7h-1.7zM690.4 271.5h1.7v1.7h-1.7zM689.3 280.5h1.7v1.7h-1.7zM684.3 285.0h1.7v1.7h-1.7zM682.5 291.2h1.7v1.7h-1.7zM682.8 284.9h1.7v1.7h-1.7zM685.0 279.5h1.7v1.7h-1.7zM688.1 273.6h1.7v1.7h-1.7zM691.7 267.9h1.7v1.7h-1.7zM692.4 261.5h1.7v1.7h-1.7zM711.8 269.6h1.7v1.7h-1.7zM716.4 268.0h1.7v1.7h-1.7zM711.4 272.2h1.7v1.7h-1.7zM716.3 274.7h1.7v1.7h-1.7zM722.2 277.0h1.7v1.7h-1.7zM714.2 264.3h1.7v1.7h-1.7zM710.6 259.5h1.7v1.7h-1.7zM706.9 254.4h1.7v1.7h-1.7zM712.9 257.1h1.7v1.7h-1.7zM719.1 282.6h1.7v1.7h-1.7zM719.1 275.9h1.7v1.7h-1.7zM720.7 270.4h1.7v1.7h-1.7zM717.4 265.0h1.7v1.7h-1.7zM710.8 264.3h1.7v1.7h-1.7zM704.1 264.1h1.7v1.7h-1.7zM698.7 263.0h1.7v1.7h-1.7zM696.9 269.3h1.7v1.7h-1.7zM690.4 269.9h1.7v1.7h-1.7zM684.2 267.1h1.7v1.7h-1.7zM677.7 268.6h1.7v1.7h-1.7zM685.8 258.7h1.7v1.7h-1.7zM685.4 263.2h1.7v1.7h-1.7zM688.6 257.6h1.7v1.7h-1.7zM687.1 254.8h1.7v1.7h-1.7zM690.3 265.1h1.7v1.7h-1.7zM685.5 269.0h1.7v1.7h-1.7zM679.3 270.3h1.7v1.7h-1.7zM673.7 272.9h1.7v1.7h-1.7zM668.7 268.3h1.7v1.7h-1.7zM707.8 278.7h1.7v1.7h-1.7zM703.5 273.5h1.7v1.7h-1.7zM700.7 267.8h1.7v1.7h-1.7zM707.2 280.3h1.7v1.7h-1.7zM709.6 274.2h1.7v1.7h-1.7zM705.1 270.1h1.7v1.7h-1.7zM698.8 267.8h1.7v1.7h-1.7zM696.2 262.0h1.7v1.7h-1.7zM692.8 257.0h1.7v1.7h-1.7zM681.4 265.3h1.7v1.7h-1.7zM662.2 265.5h1.7v1.7h-1.7zM668.5 265.5h1.7v1.7h-1.7zM666.4 259.3h1.7v1.7h-1.7zM668.1 257.2h1.7v1.7h-1.7zM670.1 262.9h1.7v1.7h-1.7zM676.6 261.8h1.7v1.7h-1.7zM681.9 258.9h1.7v1.7h-1.7zM686.1 254.3h1.7v1.7h-1.7zM674.4 278.1h1.7v1.7h-1.7zM679.1 282.7h1.7v1.7h-1.7zM679.3 277.1h1.7v1.7h-1.7zM668.2 282.8h1.7v1.7h-1.7zM672.8 278.6h1.7v1.7h-1.7zM679.3 277.1h1.7v1.7h-1.7zM683.2 272.0h1.7v1.7h-1.7zM668.5 273.0h1.7v1.7h-1.7zM662.0 271.6h1.7v1.7h-1.7zM655.4 270.1h1.7v1.7h-1.7zM667.4 284.3h1.7v1.7h-1.7zM670.9 278.8h1.7v1.7h-1.7zM674.9 273.7h1.7v1.7h-1.7zM679.9 269.7h1.7v1.7h-1.7zM677.6 263.7h1.7v1.7h-1.7zM676.8 257.6h1.7v1.7h-1.7zM680.1 255.6h1.7v1.7h-1.7zM684.9 260.3h1.7v1.7h-1.7zM719.2 269.5h1.7v1.7h-1.7zM713.7 281.6h1.7v1.7h-1.7zM714.1 275.4h1.7v1.7h-1.7zM717.5 269.7h1.7v1.7h-1.7zM712.8 265.2h1.7v1.7h-1.7zM702.7 275.4h1.7v1.7h-1.7zM708.3 273.9h1.7v1.7h-1.7zM704.5 269.6h1.7v1.7h-1.7zM702.9 263.4h1.7v1.7h-1.7zM707.1 271.5h1.7v1.7h-1.7zM712.8 267.8h1.7v1.7h-1.7zM719.0 267.7h1.7v1.7h-1.7zM710.0 260.8h1.7v1.7h-1.7zM702.6 277.1h1.7v1.7h-1.7zM705.4 271.3h1.7v1.7h-1.7zM707.0 264.8h1.7v1.7h-1.7zM706.1 259.1h1.7v1.7h-1.7zM701.7 254.1h1.7v1.7h-1.7zM695.2 281.2h1.7v1.7h-1.7zM701.7 280.2h1.7v1.7h-1.7zM707.5 276.7h1.7v1.7h-1.7zM713.9 274.7h1.7v1.7h-1.7zM719.1 272.6h1.7v1.7h-1.7zM723.5 275.0h1.7v1.7h-1.7zM726.5 280.4h1.7v1.7h-1.7zM721.1 277.0h1.7v1.7h-1.7zM672.4 267.6h1.7v1.7h-1.7zM667.0 264.5h1.7v1.7h-1.7zM676.7 268.5h1.7v1.7h-1.7zM674.2 274.5h1.7v1.7h-1.7zM668.1 277.5h1.7v1.7h-1.7zM677.8 266.1h1.7v1.7h-1.7zM674.9 267.6h1.7v1.7h-1.7zM673.4 263.4h1.7v1.7h-1.7zM679.9 264.2h1.7v1.7h-1.7zM682.3 259.3h1.7v1.7h-1.7zM675.7 258.6h1.7v1.7h-1.7zM673.6 255.7h1.7v1.7h-1.7zM686.5 272.6h1.7v1.7h-1.7zM687.4 278.2h1.7v1.7h-1.7zM685.1 269.9h1.7v1.7h-1.7zM689.1 272.0h1.7v1.7h-1.7zM694.6 273.8h1.7v1.7h-1.7zM696.5 275.5h1.7v1.7h-1.7zM687.2 264.8h1.7v1.7h-1.7zM684.1 269.7h1.7v1.7h-1.7zM682.1 274.9h1.7v1.7h-1.7zM687.9 275.4h1.7v1.7h-1.7zM693.7 275.7h1.7v1.7h-1.7zM694.7 281.2h1.7v1.7h-1.7zM673.0 279.6h1.7v1.7h-1.7zM671.2 283.5h1.7v1.7h-1.7zM680.4 284.2h1.7v1.7h-1.7zM675.8 280.3h1.7v1.7h-1.7zM670.5 282.3h1.7v1.7h-1.7zM671.4 278.5h1.7v1.7h-1.7zM683.7 277.5h1.7v1.7h-1.7zM682.2 282.6h1.7v1.7h-1.7zM676.6 282.3h1.7v1.7h-1.7zM670.8 282.7h1.7v1.7h-1.7zM673.3 281.1h1.7v1.7h-1.7zM675.9 276.3h1.7v1.7h-1.7zM680.0 279.3h1.7v1.7h-1.7zM683.7 283.3h1.7v1.7h-1.7zM688.2 282.8h1.7v1.7h-1.7zM678.7 268.2h1.7v1.7h-1.7zM674.7 266.4h1.7v1.7h-1.7zM693.0 275.6h1.7v1.7h-1.7zM687.2 276.3h1.7v1.7h-1.7zM687.3 271.4h1.7v1.7h-1.7zM682.9 267.6h1.7v1.7h-1.7zM678.4 263.9h1.7v1.7h-1.7zM676.2 264.6h1.7v1.7h-1.7zM678.3 269.7h1.7v1.7h-1.7zM683.9 271.3h1.7v1.7h-1.7zM690.1 274.7h1.7v1.7h-1.7zM695.6 275.5h1.7v1.7h-1.7zM692.8 274.0h1.7v1.7h-1.7zM694.6 278.8h1.7v1.7h-1.7zM687.5 269.3h1.7v1.7h-1.7zM687.5 273.4h1.7v1.7h-1.7zM691.1 270.1h1.7v1.7h-1.7zM687.8 265.9h1.7v1.7h-1.7zM673.4 274.4h1.7v1.7h-1.7zM677.7 275.8h1.7v1.7h-1.7zM683.0 273.9h1.7v1.7h-1.7zM687.6 276.1h1.7v1.7h-1.7zM692.2 279.3h1.7v1.7h-1.7zM695.0 284.5h1.7v1.7h-1.7zM697.8 286.0h1.7v1.7h-1.7zM705.0 269.6h1.7v1.7h-1.7zM708.9 273.5h1.7v1.7h-1.7zM709.2 278.4h1.7v1.7h-1.7zM705.8 282.6h1.7v1.7h-1.7zM703.7 282.8h1.7v1.7h-1.7zM684.6 269.2h1.7v1.7h-1.7zM680.2 268.6h1.7v1.7h-1.7zM674.5 269.9h1.7v1.7h-1.7zM668.6 269.2h1.7v1.7h-1.7zM665.1 266.2h1.7v1.7h-1.7zM662.8 275.0h1.7v1.7h-1.7zM667.9 272.5h1.7v1.7h-1.7zM665.5 278.5h1.7v1.7h-1.7zM662.2 273.6h1.7v1.7h-1.7zM666.1 273.2h1.7v1.7h-1.7zM667.2 267.9h1.7v1.7h-1.7zM662.5 270.0h1.7v1.7h-1.7zM667.0 278.4h1.7v1.7h-1.7zM672.2 276.3h1.7v1.7h-1.7zM662.4 274.7h1.7v1.7h-1.7zM665.6 279.4h1.7v1.7h-1.7zM670.4 282.0h1.7v1.7h-1.7zM674.3 281.6h1.7v1.7h-1.7zM665.3 271.6h1.7v1.7h-1.7zM664.2 267.8h1.7v1.7h-1.7zM668.7 265.5h1.7v1.7h-1.7zM666.9 266.9h1.7v1.7h-1.7zM668.9 264.9h1.7v1.7h-1.7zM673.7 261.8h1.7v1.7h-1.7zM673.0 269.0h1.7v1.7h-1.7zM665.5 278.4h1.7v1.7h-1.7zM666.3 272.7h1.7v1.7h-1.7zM662.4 270.5h1.7v1.7h-1.7zM665.9 265.8h1.7v1.7h-1.7zM671.3 266.7h1.7v1.7h-1.7zM674.9 271.2h1.7v1.7h-1.7zM680.3 273.3h1.7v1.7h-1.7zM691.2 259.9h1.7v1.7h-1.7zM686.5 263.4h1.7v1.7h-1.7zM684.5 268.3h1.7v1.7h-1.7zM686.8 273.5h1.7v1.7h-1.7zM687.5 260.1h1.7v1.7h-1.7zM686.0 264.8h1.7v1.7h-1.7zM688.6 270.1h1.7v1.7h-1.7zM689.6 265.1h1.7v1.7h-1.7zM701.4 269.9h1.7v1.7h-1.7zM699.5 264.6h1.7v1.7h-1.7zM695.7 260.4h1.7v1.7h-1.7zM690.3 260.4h1.7v1.7h-1.7zM684.5 259.8h1.7v1.7h-1.7zM678.8 261.1h1.7v1.7h-1.7zM675.8 261.3h1.7v1.7h-1.7zM681.1 260.3h1.7v1.7h-1.7zM686.3 261.6h1.7v1.7h-1.7zM703.0 279.4h1.7v1.7h-1.7zM698.9 275.9h1.7v1.7h-1.7zM699.1 271.4h1.7v1.7h-1.7zM700.2 272.3h1.7v1.7h-1.7zM698.1 275.1h1.7v1.7h-1.7zM697.3 271.5h1.7v1.7h-1.7zM702.1 280.0h1.7v1.7h-1.7zM701.1 275.2h1.7v1.7h-1.7zM697.6 270.6h1.7v1.7h-1.7zM702.8 270.3h1.7v1.7h-1.7zM711.2 269.2h1.7v1.7h-1.7zM713.3 274.1h1.7v1.7h-1.7zM708.5 276.8h1.7v1.7h-1.7zM706.5 282.2h1.7v1.7h-1.7zM702.1 280.0h1.7v1.7h-1.7zM698.7 275.3h1.7v1.7h-1.7zM699.0 269.8h1.7v1.7h-1.7zM695.5 265.3h1.7v1.7h-1.7zM665.8 280.1h1.7v1.7h-1.7zM665.5 274.2h1.7v1.7h-1.7zM671.0 271.9h1.7v1.7h-1.7zM671.5 281.2h1.7v1.7h-1.7zM668.7 278.6h1.7v1.7h-1.7zM669.2 273.2h1.7v1.7h-1.7zM671.0 267.9h1.7v1.7h-1.7zM672.0 262.5h1.7v1.7h-1.7zM669.9 281.4h1.7v1.7h-1.7zM664.6 279.7h1.7v1.7h-1.7zM664.6 274.6h1.7v1.7h-1.7zM663.0 269.2h1.7v1.7h-1.7zM666.6 272.8h1.7v1.7h-1.7zM671.4 275.9h1.7v1.7h-1.7zM711.7 282.8h1.7v1.7h-1.7zM715.8 279.1h1.7v1.7h-1.7zM718.3 278.4h1.7v1.7h-1.7zM713.5 278.7h1.7v1.7h-1.7zM709.2 275.6h1.7v1.7h-1.7zM714.2 279.7h1.7v1.7h-1.7zM708.4 280.5h1.7v1.7h-1.7zM713.7 281.5h1.7v1.7h-1.7zM715.0 277.2h1.7v1.7h-1.7zM710.3 273.7h1.7v1.7h-1.7zM709.3 272.9h1.7v1.7h-1.7zM704.3 272.8h1.7v1.7h-1.7zM711.3 275.0h1.7v1.7h-1.7zM706.6 272.0h1.7v1.7h-1.7zM708.6 268.3h1.7v1.7h-1.7zM703.2 265.9h1.7v1.7h-1.7zM697.4 264.9h1.7v1.7h-1.7zM706.2 281.5h1.7v1.7h-1.7zM710.6 277.9h1.7v1.7h-1.7zM710.7 272.6h1.7v1.7h-1.7zM705.1 273.8h1.7v1.7h-1.7zM704.1 279.8h1.7v1.7h-1.7zM700.4 278.1h1.7v1.7h-1.7zM703.1 273.6h1.7v1.7h-1.7zM691.2 279.3h1.7v1.7h-1.7zM684.2 280.7h1.7v1.7h-1.7zM689.1 277.5h1.7v1.7h-1.7zM683.0 281.8h1.7v1.7h-1.7zM688.5 283.2h1.7v1.7h-1.7zM693.9 284.3h1.7v1.7h-1.7zM699.0 286.1h1.7v1.7h-1.7zM687.2 270.8h1.7v1.7h-1.7zM687.9 276.5h1.7v1.7h-1.7zM687.4 282.0h1.7v1.7h-1.7zM685.8 262.1h1.7v1.7h-1.7zM686.9 267.6h1.7v1.7h-1.7zM691.3 271.0h1.7v1.7h-1.7zM696.4 260.5h1.7v1.7h-1.7zM688.4 272.4h1.7v1.7h-1.7zM691.1 268.6h1.7v1.7h-1.7zM687.3 264.3h1.7v1.7h-1.7zM685.8 262.1h1.7v1.7h-1.7zM691.6 262.4h1.7v1.7h-1.7zM697.0 263.6h1.7v1.7h-1.7zM700.7 260.9h1.7v1.7h-1.7zM678.9 282.2h1.7v1.7h-1.7zM673.8 284.6h1.7v1.7h-1.7zM672.5 278.9h1.7v1.7h-1.7zM676.4 280.7h1.7v1.7h-1.7zM707.1 265.8h1.7v1.7h-1.7zM707.4 272.5h1.7v1.7h-1.7zM710.3 267.9h1.7v1.7h-1.7zM711.3 263.5h1.7v1.7h-1.7zM707.1 265.8h1.7v1.7h-1.7zM703.4 269.5h1.7v1.7h-1.7zM705.5 270.1h1.7v1.7h-1.7zM711.7 267.5h1.7v1.7h-1.7zM693.8 260.6h1.7v1.7h-1.7zM696.5 265.5h1.7v1.7h-1.7zM701.7 267.8h1.7v1.7h-1.7zM707.0 270.0h1.7v1.7h-1.7zM710.7 266.3h1.7v1.7h-1.7zM709.1 264.4h1.7v1.7h-1.7zM708.1 271.0h1.7v1.7h-1.7zM709.7 275.8h1.7v1.7h-1.7zM711.1 281.2h1.7v1.7h-1.7zM712.3 270.8h1.7v1.7h-1.7zM717.0 270.5h1.7v1.7h-1.7zM712.9 274.1h1.7v1.7h-1.7zM717.9 271.2h1.7v1.7h-1.7zM687.5 265.8h1.7v1.7h-1.7zM691.7 262.5h1.7v1.7h-1.7zM695.3 260.6h1.7v1.7h-1.7zM700.5 263.2h1.7v1.7h-1.7zM703.6 267.7h1.7v1.7h-1.7zM708.1 271.0h1.7v1.7h-1.7zM713.2 272.6h1.7v1.7h-1.7zM716.3 276.9h1.7v1.7h-1.7zM720.0 274.9h1.7v1.7h-1.7zM687.8 278.1h1.7v1.7h-1.7zM693.6 277.8h1.7v1.7h-1.7zM698.3 275.2h1.7v1.7h-1.7zM702.1 273.4h1.7v1.7h-1.7zM701.7 268.0h1.7v1.7h-1.7zM671.0 267.1h1.7v1.7h-1.7zM670.2 276.0h1.7v1.7h-1.7zM666.9 271.0h1.7v1.7h-1.7zM666.8 265.4h1.7v1.7h-1.7zM672.5 264.2h1.7v1.7h-1.7zM672.7 270.0h1.7v1.7h-1.7zM674.7 274.6h1.7v1.7h-1.7zM691.1 229.7h1.7v1.7h-1.7zM688.0 229.0h1.7v1.7h-1.7zM692.1 261.1h1.7v1.7h-1.7zM692.2 257.8h1.7v1.7h-1.7zM691.5 253.8h1.7v1.7h-1.7zM691.4 251.1h1.7v1.7h-1.7zM691.2 245.9h1.7v1.7h-1.7zM691.7 243.1h1.7v1.7h-1.7zM692.1 238.3h1.7v1.7h-1.7zM691.6 235.1h1.7v1.7h-1.7zM691.7 230.3h1.7v1.7h-1.7zM692.3 226.4h1.7v1.7h-1.7zM693.3 223.8h1.7v1.7h-1.7zM692.6 219.9h1.7v1.7h-1.7zM694.5 215.8h1.7v1.7h-1.7zM693.5 211.7h1.7v1.7h-1.7zM693.4 207.7h1.7v1.7h-1.7zM694.3 204.9h1.7v1.7h-1.7zM693.5 200.7h1.7v1.7h-1.7zM693.1 196.8h1.7v1.7h-1.7zM693.4 193.6h1.7v1.7h-1.7zM693.7 189.1h1.7v1.7h-1.7zM682.0 257.6h1.7v1.7h-1.7zM683.8 260.1h1.7v1.7h-1.7zM686.7 261.5h1.7v1.7h-1.7zM679.5 246.5h1.7v1.7h-1.7zM676.7 245.0h1.7v1.7h-1.7zM676.0 241.9h1.7v1.7h-1.7zM676.8 238.8h1.7v1.7h-1.7zM678.8 218.4h1.7v1.7h-1.7zM676.3 220.1h1.7v1.7h-1.7zM681.3 213.3h1.7v1.7h-1.7zM680.4 216.3h1.7v1.7h-1.7zM683.1 261.1h1.7v1.7h-1.7zM682.0 257.6h1.7v1.7h-1.7zM680.8 255.5h1.7v1.7h-1.7zM679.9 251.3h1.7v1.7h-1.7zM679.5 246.5h1.7v1.7h-1.7zM678.5 243.9h1.7v1.7h-1.7zM677.8 238.9h1.7v1.7h-1.7zM678.8 235.5h1.7v1.7h-1.7zM678.8 231.6h1.7v1.7h-1.7zM678.9 227.6h1.7v1.7h-1.7zM679.5 223.3h1.7v1.7h-1.7zM680.3 219.9h1.7v1.7h-1.7zM680.5 216.9h1.7v1.7h-1.7zM681.3 213.3h1.7v1.7h-1.7zM682.7 209.5h1.7v1.7h-1.7zM683.1 204.8h1.7v1.7h-1.7zM684.6 202.3h1.7v1.7h-1.7zM685.7 197.2h1.7v1.7h-1.7zM686.0 193.1h1.7v1.7h-1.7zM686.5 189.3h1.7v1.7h-1.7zM663.2 237.5h1.7v1.7h-1.7zM664.4 234.6h1.7v1.7h-1.7zM663.5 231.7h1.7v1.7h-1.7zM662.2 216.2h1.7v1.7h-1.7zM661.1 219.0h1.7v1.7h-1.7zM661.6 222.2h1.7v1.7h-1.7zM665.9 259.6h1.7v1.7h-1.7zM664.4 255.6h1.7v1.7h-1.7zM662.7 253.5h1.7v1.7h-1.7zM661.2 249.1h1.7v1.7h-1.7zM663.5 245.8h1.7v1.7h-1.7zM664.1 242.2h1.7v1.7h-1.7zM663.2 237.5h1.7v1.7h-1.7zM663.7 234.1h1.7v1.7h-1.7zM662.4 229.4h1.7v1.7h-1.7zM661.4 226.5h1.7v1.7h-1.7zM661.3 222.4h1.7v1.7h-1.7zM661.7 217.9h1.7v1.7h-1.7zM662.8 214.0h1.7v1.7h-1.7zM663.7 210.9h1.7v1.7h-1.7zM665.1 206.8h1.7v1.7h-1.7zM666.8 202.5h1.7v1.7h-1.7zM668.3 199.3h1.7v1.7h-1.7zM670.1 197.0h1.7v1.7h-1.7zM675.1 194.8h1.7v1.7h-1.7zM677.6 191.4h1.7v1.7h-1.7zM671.7 220.6h1.7v1.7h-1.7zM672.7 223.7h1.7v1.7h-1.7zM674.4 226.4h1.7v1.7h-1.7zM675.1 261.1h1.7v1.7h-1.7zM675.2 257.9h1.7v1.7h-1.7zM675.8 254.0h1.7v1.7h-1.7zM675.8 249.2h1.7v1.7h-1.7zM675.8 245.5h1.7v1.7h-1.7zM676.2 241.9h1.7v1.7h-1.7zM675.4 238.1h1.7v1.7h-1.7zM674.7 235.3h1.7v1.7h-1.7zM674.4 231.1h1.7v1.7h-1.7zM674.0 227.4h1.7v1.7h-1.7zM673.1 222.9h1.7v1.7h-1.7zM672.2 219.1h1.7v1.7h-1.7zM671.6 215.4h1.7v1.7h-1.7zM671.9 211.3h1.7v1.7h-1.7zM671.1 207.5h1.7v1.7h-1.7zM709.2 236.3h1.7v1.7h-1.7zM712.2 235.5h1.7v1.7h-1.7zM714.6 233.3h1.7v1.7h-1.7zM724.4 230.2h1.7v1.7h-1.7zM721.6 231.6h1.7v1.7h-1.7zM699.1 261.1h1.7v1.7h-1.7zM700.7 256.6h1.7v1.7h-1.7zM700.7 252.7h1.7v1.7h-1.7zM700.6 248.9h1.7v1.7h-1.7zM701.6 245.1h1.7v1.7h-1.7zM702.4 241.3h1.7v1.7h-1.7zM703.5 237.3h1.7v1.7h-1.7zM707.6 236.5h1.7v1.7h-1.7zM711.5 235.5h1.7v1.7h-1.7zM715.1 235.5h1.7v1.7h-1.7zM718.7 234.7h1.7v1.7h-1.7zM722.3 232.4h1.7v1.7h-1.7zM725.9 229.6h1.7v1.7h-1.7zM729.1 227.4h1.7v1.7h-1.7zM653.5 259.4h1.7v1.7h-1.7zM652.2 255.8h1.7v1.7h-1.7zM650.2 251.9h1.7v1.7h-1.7zM648.2 248.6h1.7v1.7h-1.7zM647.3 246.0h1.7v1.7h-1.7zM646.4 242.1h1.7v1.7h-1.7zM645.0 240.3h1.7v1.7h-1.7zM709.8 247.5h1.7v1.7h-1.7zM708.1 244.8h1.7v1.7h-1.7zM705.1 244.7h1.7v1.7h-1.7zM721.3 229.1h1.7v1.7h-1.7zM721.3 225.9h1.7v1.7h-1.7zM709.7 259.3h1.7v1.7h-1.7zM709.8 254.5h1.7v1.7h-1.7zM710.1 251.2h1.7v1.7h-1.7zM709.8 247.5h1.7v1.7h-1.7zM712.9 242.6h1.7v1.7h-1.7zM713.7 239.0h1.7v1.7h-1.7zM717.3 236.0h1.7v1.7h-1.7zM720.1 232.6h1.7v1.7h-1.7zM690.4 246.1h1.7v1.7h-1.7zM693.6 246.7h1.7v1.7h-1.7zM696.1 248.7h1.7v1.7h-1.7zM688.0 242.4h1.7v1.7h-1.7zM685.1 243.6h1.7v1.7h-1.7zM687.6 224.7h1.7v1.7h-1.7zM685.1 222.7h1.7v1.7h-1.7zM689.4 207.9h1.7v1.7h-1.7zM687.4 205.5h1.7v1.7h-1.7zM684.5 204.1h1.7v1.7h-1.7zM691.0 204.5h1.7v1.7h-1.7zM687.1 261.1h1.7v1.7h-1.7zM687.0 257.9h1.7v1.7h-1.7zM687.7 254.1h1.7v1.7h-1.7zM688.3 250.0h1.7v1.7h-1.7zM688.9 246.4h1.7v1.7h-1.7zM688.0 242.4h1.7v1.7h-1.7zM688.6 240.0h1.7v1.7h-1.7zM687.8 235.5h1.7v1.7h-1.7zM688.6 231.9h1.7v1.7h-1.7zM689.5 228.5h1.7v1.7h-1.7zM689.1 225.4h1.7v1.7h-1.7zM689.1 221.4h1.7v1.7h-1.7zM689.1 217.6h1.7v1.7h-1.7zM689.3 212.5h1.7v1.7h-1.7zM690.1 209.3h1.7v1.7h-1.7zM690.4 206.0h1.7v1.7h-1.7zM698.9 248.6h1.7v1.7h-1.7zM701.7 249.3h1.7v1.7h-1.7zM698.7 203.4h1.7v1.7h-1.7zM699.0 260.1h1.7v1.7h-1.7zM698.4 254.8h1.7v1.7h-1.7zM698.2 252.7h1.7v1.7h-1.7zM698.9 248.6h1.7v1.7h-1.7zM697.5 244.6h1.7v1.7h-1.7zM698.8 241.3h1.7v1.7h-1.7zM698.1 238.0h1.7v1.7h-1.7zM697.7 233.0h1.7v1.7h-1.7zM697.7 229.4h1.7v1.7h-1.7zM696.8 226.6h1.7v1.7h-1.7zM696.9 222.2h1.7v1.7h-1.7zM697.9 217.8h1.7v1.7h-1.7zM698.6 214.5h1.7v1.7h-1.7zM697.7 211.3h1.7v1.7h-1.7zM699.2 208.0h1.7v1.7h-1.7zM698.2 204.3h1.7v1.7h-1.7zM698.3 199.9h1.7v1.7h-1.7zM698.4 195.1h1.7v1.7h-1.7zM659.4 258.9h1.7v1.7h-1.7zM657.9 255.4h1.7v1.7h-1.7zM657.3 251.9h1.7v1.7h-1.7zM656.2 249.5h1.7v1.7h-1.7zM655.4 245.0h1.7v1.7h-1.7zM654.8 241.7h1.7v1.7h-1.7zM655.2 237.8h1.7v1.7h-1.7zM655.3 235.0h1.7v1.7h-1.7zM656.1 231.6h1.7v1.7h-1.7zM656.1 227.9h1.7v1.7h-1.7zM657.7 224.0h1.7v1.7h-1.7zM657.5 220.9h1.7v1.7h-1.7zM659.5 216.4h1.7v1.7h-1.7zM716.1 261.1h1.7v1.7h-1.7zM717.5 257.8h1.7v1.7h-1.7zM719.2 255.1h1.7v1.7h-1.7zM719.6 250.5h1.7v1.7h-1.7zM722.4 247.3h1.7v1.7h-1.7zM724.6 243.1h1.7v1.7h-1.7zM686.9 174.0h1.7v1.7h-1.7zM683.7 173.9h1.7v1.7h-1.7zM680.5 174.4h1.7v1.7h-1.7zM693.1 189.2h1.7v1.7h-1.7zM693.2 184.3h1.7v1.7h-1.7zM691.9 181.5h1.7v1.7h-1.7zM691.2 177.1h1.7v1.7h-1.7zM688.5 174.0h1.7v1.7h-1.7zM687.1 172.2h1.7v1.7h-1.7zM685.2 168.7h1.7v1.7h-1.7zM682.9 163.9h1.7v1.7h-1.7zM680.3 160.1h1.7v1.7h-1.7zM693.2 182.4h1.7v1.7h-1.7zM690.2 183.7h1.7v1.7h-1.7zM701.1 182.0h1.7v1.7h-1.7zM698.9 184.2h1.7v1.7h-1.7zM696.5 186.2h1.7v1.7h-1.7zM725.1 182.9h1.7v1.7h-1.7zM725.1 179.7h1.7v1.7h-1.7zM723.5 177.1h1.7v1.7h-1.7zM729.2 172.4h1.7v1.7h-1.7zM731.5 174.7h1.7v1.7h-1.7zM734.7 175.0h1.7v1.7h-1.7zM737.4 176.6h1.7v1.7h-1.7zM728.0 166.3h1.7v1.7h-1.7zM724.9 165.6h1.7v1.7h-1.7zM712.6 162.7h1.7v1.7h-1.7zM710.4 160.4h1.7v1.7h-1.7zM691.1 184.2h1.7v1.7h-1.7zM694.8 182.5h1.7v1.7h-1.7zM698.8 182.0h1.7v1.7h-1.7zM703.3 181.8h1.7v1.7h-1.7zM706.7 182.5h1.7v1.7h-1.7zM710.1 181.8h1.7v1.7h-1.7zM713.9 182.2h1.7v1.7h-1.7zM718.2 182.7h1.7v1.7h-1.7zM722.1 182.6h1.7v1.7h-1.7zM725.6 182.2h1.7v1.7h-1.7zM728.0 179.2h1.7v1.7h-1.7zM727.9 175.2h1.7v1.7h-1.7zM728.0 170.3h1.7v1.7h-1.7zM729.0 167.9h1.7v1.7h-1.7zM726.6 164.0h1.7v1.7h-1.7zM724.6 160.8h1.7v1.7h-1.7zM721.1 162.8h1.7v1.7h-1.7zM718.5 163.0h1.7v1.7h-1.7zM713.7 163.9h1.7v1.7h-1.7zM710.5 164.3h1.7v1.7h-1.7zM707.0 166.7h1.7v1.7h-1.7zM703.8 168.0h1.7v1.7h-1.7zM698.9 170.1h1.7v1.7h-1.7zM695.8 172.0h1.7v1.7h-1.7zM692.4 174.2h1.7v1.7h-1.7zM678.5 167.4h1.7v1.7h-1.7zM675.8 169.1h1.7v1.7h-1.7zM674.2 171.9h1.7v1.7h-1.7zM672.4 174.5h1.7v1.7h-1.7zM685.7 178.0h1.7v1.7h-1.7zM683.6 174.3h1.7v1.7h-1.7zM681.3 171.0h1.7v1.7h-1.7zM678.5 167.4h1.7v1.7h-1.7zM676.2 165.4h1.7v1.7h-1.7zM693.1 172.5h1.7v1.7h-1.7zM691.9 168.8h1.7v1.7h-1.7zM689.4 165.7h1.7v1.7h-1.7zM690.6 161.8h1.7v1.7h-1.7zM666.7 259.4h1.7v1.7h-1.7zM669.2 252.2h1.7v1.7h-1.7zM669.9 244.7h1.7v1.7h-1.7zM669.4 237.2h1.7v1.7h-1.7zM671.4 230.1h1.7v1.7h-1.7zM672.0 222.6h1.7v1.7h-1.7zM672.9 215.1h1.7v1.7h-1.7zM671.8 207.7h1.7v1.7h-1.7zM667.2 202.2h1.7v1.7h-1.7zM662.1 232.7h1.7v1.7h-1.7zM656.4 227.7h1.7v1.7h-1.7zM652.8 221.3h1.7v1.7h-1.7zM654.5 220.3h1.7v1.7h-1.7zM659.5 219.2h1.7v1.7h-1.7zM662.2 212.2h1.7v1.7h-1.7zM666.3 205.8h1.7v1.7h-1.7zM670.3 199.4h1.7v1.7h-1.7zM674.6 259.4h1.7v1.7h-1.7zM673.0 252.0h1.7v1.7h-1.7zM670.9 244.8h1.7v1.7h-1.7zM665.6 239.4h1.7v1.7h-1.7zM662.1 232.7h1.7v1.7h-1.7zM658.9 225.9h1.7v1.7h-1.7zM657.3 218.6h1.7v1.7h-1.7zM654.2 211.8h1.7v1.7h-1.7zM659.9 207.0h1.7v1.7h-1.7zM666.3 203.0h1.7v1.7h-1.7zM671.8 197.8h1.7v1.7h-1.7zM701.9 238.2h1.7v1.7h-1.7zM697.1 232.4h1.7v1.7h-1.7zM705.4 259.3h1.7v1.7h-1.7zM705.6 251.7h1.7v1.7h-1.7zM705.5 244.1h1.7v1.7h-1.7zM704.0 236.8h1.7v1.7h-1.7zM702.8 229.8h1.7v1.7h-1.7zM702.7 222.4h1.7v1.7h-1.7zM700.6 215.2h1.7v1.7h-1.7zM679.1 202.7h1.7v1.7h-1.7zM669.8 261.1h1.7v1.7h-1.7zM669.1 253.7h1.7v1.7h-1.7zM671.1 246.4h1.7v1.7h-1.7zM672.4 238.9h1.7v1.7h-1.7zM671.8 231.5h1.7v1.7h-1.7zM672.2 224.0h1.7v1.7h-1.7zM675.5 217.2h1.7v1.7h-1.7zM676.7 209.8h1.7v1.7h-1.7zM678.7 202.5h1.7v1.7h-1.7zM679.7 195.1h1.7v1.7h-1.7zM704.6 256.8h1.7v1.7h-1.7zM699.0 251.7h1.7v1.7h-1.7zM696.2 245.0h1.7v1.7h-1.7zM694.9 237.5h1.7v1.7h-1.7zM695.9 230.0h1.7v1.7h-1.7zM697.0 222.6h1.7v1.7h-1.7zM696.4 215.1h1.7v1.7h-1.7zM697.0 207.5h1.7v1.7h-1.7zM696.1 200.4h1.7v1.7h-1.7zM699.4 193.6h1.7v1.7h-1.7zM701.9 186.5h1.7v1.7h-1.7zM689.6 255.5h1.7v1.7h-1.7zM686.3 248.8h1.7v1.7h-1.7zM684.5 241.5h1.7v1.7h-1.7zM684.4 234.0h1.7v1.7h-1.7zM685.2 226.5h1.7v1.7h-1.7zM682.2 219.7h1.7v1.7h-1.7zM682.4 212.3h1.7v1.7h-1.7zM684.0 204.9h1.7v1.7h-1.7zM684.9 197.4h1.7v1.7h-1.7zM687.0 190.3h1.7v1.7h-1.7zM689.0 182.9h1.7v1.7h-1.7zM659.3 239.8h1.7v1.7h-1.7zM660.1 232.2h1.7v1.7h-1.7zM664.5 228.8h1.7v1.7h-1.7zM661.7 221.8h1.7v1.7h-1.7zM660.5 214.5h1.7v1.7h-1.7zM664.7 261.1h1.7v1.7h-1.7zM661.0 254.6h1.7v1.7h-1.7zM660.5 247.1h1.7v1.7h-1.7zM663.2 240.0h1.7v1.7h-1.7zM664.3 232.6h1.7v1.7h-1.7zM665.7 225.4h1.7v1.7h-1.7zM669.1 218.6h1.7v1.7h-1.7zM669.8 211.2h1.7v1.7h-1.7zM686.3 258.4h1.7v1.7h-1.7zM691.2 252.6h1.7v1.7h-1.7zM695.5 246.4h1.7v1.7h-1.7zM699.6 240.1h1.7v1.7h-1.7zM704.4 234.3h1.7v1.7h-1.7zM710.1 229.3h1.7v1.7h-1.7zM715.2 223.8h1.7v1.7h-1.7zM683.1 243.1h1.7v1.7h-1.7zM684.8 235.7h1.7v1.7h-1.7zM688.7 229.2h1.7v1.7h-1.7zM691.4 222.2h1.7v1.7h-1.7zM690.2 214.9h1.7v1.7h-1.7zM684.0 261.1h1.7v1.7h-1.7zM684.2 253.7h1.7v1.7h-1.7zM681.9 246.7h1.7v1.7h-1.7zM680.2 239.3h1.7v1.7h-1.7zM680.9 231.8h1.7v1.7h-1.7zM680.4 224.4h1.7v1.7h-1.7zM678.6 217.1h1.7v1.7h-1.7zM678.6 209.7h1.7v1.7h-1.7zM677.6 202.2h1.7v1.7h-1.7zM676.7 194.7h1.7v1.7h-1.7zM691.3 261.1h1.7v1.7h-1.7zM688.6 254.1h1.7v1.7h-1.7zM689.8 246.7h1.7v1.7h-1.7zM693.9 240.5h1.7v1.7h-1.7zM697.2 233.7h1.7v1.7h-1.7zM697.6 226.1h1.7v1.7h-1.7zM707.4 261.1h1.7v1.7h-1.7zM707.5 253.6h1.7v1.7h-1.7zM710.8 246.8h1.7v1.7h-1.7zM715.0 240.7h1.7v1.7h-1.7zM719.7 234.8h1.7v1.7h-1.7zM718.6 230.3h1.7v1.7h-1.7zM714.2 224.2h1.7v1.7h-1.7zM708.8 219.1h1.7v1.7h-1.7zM702.8 214.4h1.7v1.7h-1.7zM700.4 207.4h1.7v1.7h-1.7zM689.0 241.2h1.7v1.7h-1.7zM688.1 233.7h1.7v1.7h-1.7zM682.6 229.0h1.7v1.7h-1.7zM674.2 225.3h1.7v1.7h-1.7zM666.7 224.7h1.7v1.7h-1.7zM659.2 225.2h1.7v1.7h-1.7zM666.1 206.7h1.7v1.7h-1.7zM699.4 261.1h1.7v1.7h-1.7zM696.7 254.1h1.7v1.7h-1.7zM692.4 247.9h1.7v1.7h-1.7zM687.3 242.5h1.7v1.7h-1.7zM683.7 235.9h1.7v1.7h-1.7zM680.6 229.0h1.7v1.7h-1.7zM674.6 224.5h1.7v1.7h-1.7zM669.5 219.0h1.7v1.7h-1.7zM666.1 212.3h1.7v1.7h-1.7zM660.9 206.9h1.7v1.7h-1.7zM676.3 237.0h1.7v1.7h-1.7zM674.0 229.8h1.7v1.7h-1.7zM684.9 221.7h1.7v1.7h-1.7zM689.2 215.5h1.7v1.7h-1.7zM675.3 257.4h1.7v1.7h-1.7zM676.4 250.0h1.7v1.7h-1.7zM676.7 242.4h1.7v1.7h-1.7zM678.4 235.2h1.7v1.7h-1.7zM682.4 228.8h1.7v1.7h-1.7zM684.9 221.7h1.7v1.7h-1.7zM683.8 214.3h1.7v1.7h-1.7zM681.1 207.4h1.7v1.7h-1.7zM674.5 261.1h1.7v1.7h-1.7zM677.1 254.0h1.7v1.7h-1.7zM676.3 246.5h1.7v1.7h-1.7zM675.7 239.0h1.7v1.7h-1.7zM677.5 231.7h1.7v1.7h-1.7zM679.9 224.5h1.7v1.7h-1.7zM659.7 243.7h1.7v1.7h-1.7zM661.5 236.3h1.7v1.7h-1.7zM662.9 228.9h1.7v1.7h-1.7zM661.7 256.2h1.7v1.7h-1.7zM659.3 249.0h1.7v1.7h-1.7zM656.1 242.1h1.7v1.7h-1.7zM653.5 235.0h1.7v1.7h-1.7zM648.4 229.5h1.7v1.7h-1.7zM702.2 178.4h1.7v1.7h-1.7zM700.8 179.1h1.7v1.7h-1.7zM706.5 176.3h1.7v1.7h-1.7zM675.2 175.4h1.7v1.7h-1.7zM686.0 182.7h1.7v1.7h-1.7zM680.6 180.9h1.7v1.7h-1.7zM676.7 176.0h1.7v1.7h-1.7zM676.9 179.7h1.7v1.7h-1.7zM701.3 176.6h1.7v1.7h-1.7zM697.7 172.4h1.7v1.7h-1.7zM703.9 172.1h1.7v1.7h-1.7zM701.9 167.4h1.7v1.7h-1.7zM693.1 171.2h1.7v1.7h-1.7zM693.5 171.4h1.7v1.7h-1.7zM694.1 165.2h1.7v1.7h-1.7zM693.2 171.3h1.7v1.7h-1.7zM691.0 176.8h1.7v1.7h-1.7zM688.9 176.8h1.7v1.7h-1.7zM697.5 180.7h1.7v1.7h-1.7zM695.1 182.4h1.7v1.7h-1.7zM693.2 177.9h1.7v1.7h-1.7zM704.8 179.4h1.7v1.7h-1.7zM703.3 174.7h1.7v1.7h-1.7zM697.8 175.7h1.7v1.7h-1.7zM693.5 176.4h1.7v1.7h-1.7zM693.9 170.7h1.7v1.7h-1.7zM686.9 173.0h1.7v1.7h-1.7zM693.2 172.0h1.7v1.7h-1.7zM697.1 180.5h1.7v1.7h-1.7zM698.9 183.8h1.7v1.7h-1.7zM695.2 176.9h1.7v1.7h-1.7zM697.5 182.5h1.7v1.7h-1.7zM682.1 181.8h1.7v1.7h-1.7zM689.6 183.3h1.7v1.7h-1.7zM683.6 181.2h1.7v1.7h-1.7zM679.2 180.4h1.7v1.7h-1.7zM681.6 294.8h1.7v1.7h-1.7zM679.3 301.9h1.7v1.7h-1.7zM677.3 309.2h1.7v1.7h-1.7zM676.3 316.7h1.7v1.7h-1.7zM677.1 324.3h1.7v1.7h-1.7zM703.6 291.7h1.7v1.7h-1.7zM701.6 292.2h1.7v1.7h-1.7zM708.8 290.0h1.7v1.7h-1.7zM715.9 292.1h1.7v1.7h-1.7zM669.1 299.2h1.7v1.7h-1.7zM669.2 306.7h1.7v1.7h-1.7zM667.9 314.0h1.7v1.7h-1.7zM679.6 290.6h1.7v1.7h-1.7zM672.1 291.5h1.7v1.7h-1.7zM665.2 294.1h1.7v1.7h-1.7zM659.4 298.9h1.7v1.7h-1.7zM702.5 301.1h1.7v1.7h-1.7zM692.1 294.3h1.7v1.7h-1.7zM698.2 298.4h1.7v1.7h-1.7zM703.2 304.2h1.7v1.7h-1.7zM688.4 293.2h1.7v1.7h-1.7zM682.7 288.4h1.7v1.7h-1.7zM677.1 283.4h1.7v1.7h-1.7zM680.4 299.5h1.7v1.7h-1.7zM684.8 294.1h1.7v1.7h-1.7zM677.9 292.6h1.7v1.7h-1.7zM671.2 289.3h1.7v1.7h-1.7zM672.2 301.7h1.7v1.7h-1.7zM674.2 293.2h1.7v1.7h-1.7zM669.3 298.9h1.7v1.7h-1.7zM665.6 305.5h1.7v1.7h-1.7zM685.4 306.3h1.7v1.7h-1.7zM668.2 299.7h1.7v1.7h-1.7zM674.4 304.0h1.7v1.7h-1.7zM681.8 305.7h1.7v1.7h-1.7zM688.2 309.6h1.7v1.7h-1.7zM642.8 308.2h1.7v1.7h-1.7zM663.9 292.1h1.7v1.7h-1.7zM657.5 296.3h1.7v1.7h-1.7zM653.2 302.5h1.7v1.7h-1.7zM648.0 307.9h1.7v1.7h-1.7zM640.7 310.2h1.7v1.7h-1.7zM633.4 309.1h1.7v1.7h-1.7zM699.2 290.4h1.7v1.7h-1.7zM701.9 297.5h1.7v1.7h-1.7zM704.0 304.7h1.7v1.7h-1.7zM706.6 311.9h1.7v1.7h-1.7zM708.7 319.1h1.7v1.7h-1.7zM681.8 300.0h1.7v1.7h-1.7zM678.8 300.9h1.7v1.7h-1.7zM683.4 332.9h1.7v1.7h-1.7zM681.7 330.3h1.7v1.7h-1.7zM681.0 327.2h1.7v1.7h-1.7zM680.0 324.2h1.7v1.7h-1.7zM681.4 299.1h1.7v1.7h-1.7zM682.6 303.2h1.7v1.7h-1.7zM681.5 305.3h1.7v1.7h-1.7zM681.7 310.2h1.7v1.7h-1.7zM681.0 314.7h1.7v1.7h-1.7zM680.2 317.9h1.7v1.7h-1.7zM681.8 321.3h1.7v1.7h-1.7zM682.6 325.4h1.7v1.7h-1.7zM683.1 328.8h1.7v1.7h-1.7zM683.4 332.9h1.7v1.7h-1.7zM683.1 336.3h1.7v1.7h-1.7zM683.7 340.0h1.7v1.7h-1.7zM684.3 343.9h1.7v1.7h-1.7zM684.0 347.4h1.7v1.7h-1.7zM684.7 351.2h1.7v1.7h-1.7zM685.8 355.3h1.7v1.7h-1.7zM687.4 357.3h1.7v1.7h-1.7zM670.8 300.7h1.7v1.7h-1.7zM669.1 303.5h1.7v1.7h-1.7zM666.7 314.2h1.7v1.7h-1.7zM669.8 314.6h1.7v1.7h-1.7zM673.0 314.9h1.7v1.7h-1.7zM671.1 299.1h1.7v1.7h-1.7zM670.0 304.2h1.7v1.7h-1.7zM669.2 307.3h1.7v1.7h-1.7zM667.8 310.7h1.7v1.7h-1.7zM666.7 314.2h1.7v1.7h-1.7zM662.7 317.1h1.7v1.7h-1.7zM661.6 318.6h1.7v1.7h-1.7zM658.1 324.2h1.7v1.7h-1.7zM669.1 304.1h1.7v1.7h-1.7zM668.7 308.3h1.7v1.7h-1.7zM667.6 312.1h1.7v1.7h-1.7zM667.9 316.2h1.7v1.7h-1.7zM666.7 319.2h1.7v1.7h-1.7zM666.2 322.5h1.7v1.7h-1.7zM666.1 327.0h1.7v1.7h-1.7zM666.7 330.0h1.7v1.7h-1.7zM641.2 298.8h1.7v1.7h-1.7zM639.9 301.6h1.7v1.7h-1.7zM638.3 304.4h1.7v1.7h-1.7zM659.1 291.1h1.7v1.7h-1.7zM656.1 293.7h1.7v1.7h-1.7zM652.0 295.1h1.7v1.7h-1.7zM648.3 296.9h1.7v1.7h-1.7zM644.9 297.4h1.7v1.7h-1.7zM641.2 298.8h1.7v1.7h-1.7zM636.7 299.6h1.7v1.7h-1.7zM633.0 300.3h1.7v1.7h-1.7zM629.4 301.6h1.7v1.7h-1.7zM649.1 279.1h1.7v1.7h-1.7zM646.5 276.4h1.7v1.7h-1.7zM643.4 274.0h1.7v1.7h-1.7zM641.0 274.2h1.7v1.7h-1.7zM636.2 274.3h1.7v1.7h-1.7zM632.2 275.1h1.7v1.7h-1.7zM628.9 276.5h1.7v1.7h-1.7zM625.6 276.3h1.7v1.7h-1.7zM649.4 288.6h1.7v1.7h-1.7zM644.5 289.3h1.7v1.7h-1.7zM640.6 288.7h1.7v1.7h-1.7zM637.7 288.8h1.7v1.7h-1.7zM633.7 288.2h1.7v1.7h-1.7zM629.9 288.1h1.7v1.7h-1.7zM701.0 292.7h1.7v1.7h-1.7zM702.7 296.0h1.7v1.7h-1.7zM705.3 299.9h1.7v1.7h-1.7zM708.4 302.4h1.7v1.7h-1.7zM710.7 305.4h1.7v1.7h-1.7zM720.9 285.1h1.7v1.7h-1.7zM718.6 282.9h1.7v1.7h-1.7zM716.4 280.5h1.7v1.7h-1.7zM720.9 285.1h1.7v1.7h-1.7zM724.2 287.9h1.7v1.7h-1.7zM727.0 290.0h1.7v1.7h-1.7zM728.8 292.8h1.7v1.7h-1.7zM689.8 297.0h1.7v1.7h-1.7zM691.1 301.0h1.7v1.7h-1.7zM692.8 305.7h1.7v1.7h-1.7zM694.9 308.4h1.7v1.7h-1.7zM697.8 311.2h1.7v1.7h-1.7zM661.1 295.1h1.7v1.7h-1.7zM658.8 298.1h1.7v1.7h-1.7zM656.5 302.4h1.7v1.7h-1.7zM655.1 305.8h1.7v1.7h-1.7zM652.4 308.7h1.7v1.7h-1.7zM649.2 311.1h1.7v1.7h-1.7zM671.5 325.7h1.7v1.7h-1.7zM668.3 325.8h1.7v1.7h-1.7zM665.8 327.7h1.7v1.7h-1.7zM662.8 328.8h1.7v1.7h-1.7zM675.1 295.1h1.7v1.7h-1.7zM674.5 299.1h1.7v1.7h-1.7zM673.9 302.5h1.7v1.7h-1.7zM673.2 306.7h1.7v1.7h-1.7zM672.6 311.2h1.7v1.7h-1.7zM672.2 314.3h1.7v1.7h-1.7zM671.4 318.1h1.7v1.7h-1.7zM669.6 323.3h1.7v1.7h-1.7zM670.6 326.6h1.7v1.7h-1.7zM669.9 330.5h1.7v1.7h-1.7zM669.6 334.3h1.7v1.7h-1.7z" fill="#1eaab0"/>
<path d="M678 293 l3.5 -0.5 l1 5 l-0.5 5 l-2.5 -1.5 l-1 -3z" fill="#d020d8"/>
<circle cx="679" cy="311.8" r="2.2" fill="#2a2a2a"/>
<path d="M727.8 462.8L728.9 461.4 729.9 459.9 731.0 458.5 732.5 457.5M725.7 456.2L723.9 456.2 722.2 455.6 720.9 454.4 719.4 453.3 718.2 452.0 717.2 450.5 716.5 448.8 715.9 447.1M697.9 471.1L697.2 469.4 696.3 467.8 694.7 467.0 693.1 466.2 691.6 465.2M710.3 450.0L711.8 449.0 713.5 448.7 715.2 447.9 715.2 446.1 715.2 444.3 715.2 442.5M700.0 463.0L699.5 461.3 700.2 459.6 700.6 457.8 701.5 456.3 703.0 455.2M711.2 470.5L711.3 468.7 712.7 467.5 714.2 466.5M684.3 466.3L684.6 468.1 685.0 469.8 685.3 471.6 683.5 471.4 682.8 469.8 682.3 468.1 681.5 466.4 681.1 464.7M685.2 469.7L684.7 468.0 684.7 466.2 684.3 464.4 683.3 462.9 682.3 461.5M671.6 470.2L671.2 468.5 671.0 466.7 672.4 465.6M682.9 451.2L683.5 449.5 683.0 447.7 683.4 446.0 684.6 444.7 685.6 443.1M703.1 460.5L704.8 459.7 705.9 458.3 707.4 457.4M686.1 468.0L687.6 467.0 689.2 466.2 691.0 465.9M688.7 454.3L690.5 454.3 692.1 455.2 693.7 456.0M692.3 461.4L692.2 463.0 692.1 464.6 691.4 466.0 690.3 467.1 688.7 467.2 687.1 467.7M687.8 469.5L686.4 470.3 686.5 468.7M652.2 618.0L651.4 619.7 653.1 618.8 655.0 619.0 656.7 618.4M652.5 615.5L653.8 616.9 655.4 617.9M678.4 605.0L680.2 604.3 681.8 603.2 683.2 602.0 684.3 600.5 685.8 599.3 687.0 597.8M711.8 587.3L710.7 585.8 709.0 584.9 707.3 585.7 705.7 586.8 703.9 586.4 702.7 584.9 700.9 585.4 699.7 586.9 698.4 588.3 697.1 589.7M708.2 588.5L707.7 590.3 707.4 592.2 708.1 594.0 709.5 595.3 710.5 596.9 711.5 598.5 713.4 598.6 715.0 597.6 716.1 596.0 717.7 595.0 719.2 593.8 720.9 592.9M703.9 593.5L705.7 593.8 707.6 593.6 709.5 593.4 711.4 593.7 713.3 594.1 715.2 594.3M704.6 600.8L705.8 602.3 706.6 604.0 706.5 605.9 706.7 607.8 707.0 609.7M715.5 609.6L717.4 609.8 719.3 609.6M675.1 601.1L676.2 602.6 677.8 603.7 679.6 603.5 681.5 603.6 683.4 603.7 685.3 603.5 687.2 603.0M671.2 605.1L669.3 604.9 667.4 605.0 665.5 605.1 663.7 604.5 661.8 604.2 660.2 603.3 658.3 602.9 656.4 602.5M672.6 586.8L674.1 588.0 675.5 589.3 677.2 590.1 679.0 590.6M688.9 601.3L688.2 599.5 686.5 598.6 685.5 597.0 684.5 595.4 682.7 594.7 680.9 594.2 679.2 593.3 677.4 592.7 675.5 592.8 673.9 593.8 673.2 595.6 672.0 597.0 671.2 598.8 671.0 600.7 671.3 602.5 671.6 604.4 672.2 606.2 672.4 608.1 672.9 609.9M691.1 596.1L691.9 594.4 692.3 592.5 692.1 590.6 692.5 588.8 693.3 587.0 693.8 585.2 691.9 584.9 690.2 584.1 690.0 586.0M684.5 587.2L682.8 586.4 681.2 585.4 679.5 584.4 677.7 584.1M683.4 585.8L684.9 586.9 686.7 587.5 687.5 589.3 688.7 590.7 688.6 592.6 688.2 594.5M684.5 584.2L686.4 584.4 688.2 583.8 689.4 585.3 689.9 587.1 691.4 588.3 692.9 589.5 694.5 590.5M682.4 591.0L680.6 590.3 678.7 589.9 676.9 589.3 675.4 588.2 673.7 587.3 672.2 586.2 670.5 585.4M676.5 596.7L676.8 598.6 678.4 599.6 680.3 599.4 682.2 599.6 684.1 599.8 686.0 600.1 687.9 600.2 689.7 599.8M667.6 595.8L666.2 594.6 664.7 593.4 663.1 592.4 662.0 590.8 660.4 589.9 658.6 589.4M658.8 604.3L659.6 606.0 660.3 607.8 659.9 609.7 659.4 611.5 659.1 613.4 659.8 615.1M656.3 609.4L654.6 608.5 653.9 606.7 652.7 605.2 651.1 604.1 649.5 603.1 647.7 602.8 645.9 602.0M671.4 589.9L670.1 591.3 668.8 592.7 667.2 593.7 665.5 593.0M686.6 610.8L685.2 609.4 684.1 607.9M687.1 608.9L685.3 608.3 683.5 607.8 682.1 606.5M687.7 607.1L689.2 606.0 689.5 604.2 689.3 602.3M694.8 605.0L695.9 603.5 696.0 601.6 696.2 599.7 696.0 597.8 696.8 596.1M698.3 603.7L699.9 604.7 700.8 606.3 701.8 608.0 703.1 609.4M702.4 602.2L702.0 604.1 702.1 605.9 703.8 606.9 705.7 607.0 707.5 607.4 709.4 607.2 711.0 606.1M704.6 609.2L704.3 611.1 704.0 612.9 703.4 614.7 703.6 616.6 702.1 617.9M705.5 610.9L707.2 610.0 708.7 608.7 710.1 607.5 711.8 606.6 713.7 606.7 715.6 606.7M711.2 611.9L710.5 613.6 709.8 615.4 708.7 613.8 707.3 612.5 706.3 610.9 705.1 609.4" fill="none" stroke="#1ae2e8" stroke-width="0.99" stroke-linejoin="round" stroke-dasharray="2.2 0.9"/>
<path d="M719.4 464.2L721.0 463.3 722.6 462.5 724.4 462.4 726.2 462.2 727.8 462.8 729.4 463.7 728.2 462.4 727.0 461.1 725.6 459.8 723.9 459.5 722.1 459.3 720.3 459.5 718.7 460.4 717.7 461.9 716.1 462.8M731.7 461.6L731.9 459.8 731.8 458.0 730.8 456.5 729.0 456.7 727.3 457.0 725.7 456.2 724.3 455.0 723.1 453.7 721.6 452.6 719.9 452.2 718.4 451.2 717.4 449.7 716.5 448.2 715.9 446.4 715.8 444.7 716.0 442.9M729.4 458.2L728.7 456.5 728.4 454.7 728.5 452.9 729.3 451.3 730.1 449.7 731.7 448.8M726.2 459.7L726.5 461.5 726.6 463.3 726.9 461.5 728.3 460.4 729.9 459.5M699.4 472.0L697.9 471.1 696.3 470.2 694.5 469.9 692.8 470.1 691.1 470.8 689.3 470.8 687.5 471.1 685.8 470.7 684.3 469.7 682.5 469.1M704.5 455.6L706.3 455.3 707.8 454.4 709.4 453.5 709.7 451.7 710.3 450.0 711.2 448.5 711.5 446.7 712.4 445.2 713.3 443.6 715.0 443.1 716.7 442.5 718.4 441.9 717.9 443.6 716.5 444.8 716.2 446.5 716.8 448.2 717.6 449.8 717.7 451.6M708.7 442.5L709.3 440.8 709.3 439.0 707.6 439.7 705.8 439.5 704.0 439.4 702.3 438.8 700.6 438.3M710.5 439.6L712.3 439.8 713.9 440.7 715.7 441.0 716.4 442.6 716.7 444.4M718.1 444.2L718.1 446.0 718.6 447.7 718.4 449.5 717.5 451.1 716.2 452.3 714.5 452.8 712.8 452.0 711.0 451.9M707.6 470.2L707.5 468.4 707.4 466.6 706.2 465.3 705.2 463.7 703.4 463.8 701.6 463.8 700.0 463.0 698.5 462.0 697.5 460.5 696.0 459.5 694.6 458.4 692.9 457.7 691.2 458.1 689.8 459.3 688.0 459.7 686.3 460.0 684.8 458.9 683.3 457.9 682.4 456.4 681.9 454.6M712.2 464.8L712.9 466.4 713.7 468.0 713.7 469.8 713.3 471.6 712.0 472.8 710.4 473.6 708.7 474.3 707.5 475.6 709.2 475.1 710.7 474.0 712.0 472.9 713.7 472.1 715.0 470.9 715.2 469.1 716.5 467.9 717.9 466.7 719.1 465.4M691.1 440.2L689.4 440.7 687.9 441.8 686.1 441.8M711.6 474.0L711.1 472.3 711.2 470.5 711.2 468.7 710.8 466.9 711.0 465.1 710.8 463.3 709.8 461.8M714.1 471.4L715.6 470.5 716.4 468.9 716.9 467.2 716.9 465.4 717.6 463.7 718.9 462.4 720.7 462.3 722.1 461.2M686.8 461.7L686.4 463.4 685.1 464.7 684.3 466.3 683.6 468.0 682.6 469.5 682.4 471.3 684.2 471.0 686.0 471.3 685.2 469.7 684.0 468.4 682.4 467.6 680.7 467.1 679.0 466.4 677.2 466.7 675.6 467.5 674.1 468.6M677.3 459.1L676.2 460.6 675.4 462.2 674.5 463.7 673.7 465.3 672.7 466.9 671.8 468.4 671.6 470.2 669.8 470.4 668.6 469.1 667.1 468.1 665.3 468.1 663.7 467.3 661.9 467.6 660.1 467.3 659.3 465.8M699.4 456.9L697.7 456.4 696.0 455.8 694.2 456.0 692.6 455.3 690.9 454.7 689.1 454.6 687.3 454.1 685.6 453.5 684.2 452.4 682.9 451.2 681.3 450.3 679.8 449.4 678.0 449.3 676.2 449.3 674.6 450.0 672.8 449.8 671.0 449.7 669.7 450.9 668.4 452.2 666.8 453.1 665.1 453.8 663.4 454.1M690.0 452.6L690.1 454.4 690.6 456.1 691.6 457.6 692.9 458.8 693.9 460.3 694.9 461.8 696.4 462.7 698.1 462.1 699.9 461.8 701.4 460.8 703.1 460.5 704.7 461.4 706.5 461.7 708.3 461.8 710.0 461.2 711.8 461.6M685.7 469.7L686.1 468.0 686.3 466.2 687.6 465.0 688.6 463.5 688.7 461.7 688.0 460.0 686.4 459.2M690.9 461.0L690.7 459.2 689.8 457.7 689.1 456.0 688.7 454.3 687.3 453.2 685.9 452.0 684.2 451.4 682.5 450.7 680.8 450.2 679.1 449.6M684.9 455.6L683.1 455.5 681.3 455.3 679.5 454.9 678.0 453.9 676.5 453.0 674.7 452.8 673.4 451.5 672.1 450.3 670.3 450.0M678.3 446.1L679.1 444.5 680.4 443.3 681.3 441.8 682.1 440.2M696.7 464.7L696.0 466.3 695.4 468.0 695.1 469.8 694.6 471.5 693.4 472.9M698.1 473.1L696.3 473.2 694.5 473.2 692.8 472.7 691.7 471.3 690.7 469.8 691.0 468.0M704.7 466.9L703.6 465.7 703.2 464.2 702.0 463.2 700.4 462.9 698.9 462.4M694.6 459.7L693.8 461.0 692.3 461.4 690.8 460.6 689.8 459.4 689.3 457.9 688.2 456.7 686.6 456.6 685.0 456.6 684.7 455.0 684.9 453.4M699.7 462.3L698.7 463.5 697.1 463.2 695.6 462.7 694.7 461.4 693.5 460.3 691.9 460.0 690.6 460.8M700.3 472.1L701.9 472.2 703.4 472.4 704.6 471.3 706.2 471.0M707.8 458.8L706.8 457.4 705.3 457.1 703.7 457.1 702.2 456.4M701.0 466.2L699.4 465.9 697.8 466.0 696.4 466.7 695.4 465.4M700.1 464.9L700.4 463.3 700.3 461.7 699.9 460.1 699.0 458.8 698.8 457.3M689.1 470.4L687.8 469.5 686.8 468.3 685.5 467.3 684.1 466.5 682.5 466.3 681.0 465.7M688.4 464.5L687.0 463.7 685.4 463.7 683.8 464.2M671.1 606.6L671.0 604.7 670.2 603.0 668.6 601.9 667.2 600.6 665.6 599.6 663.8 599.4 662.0 598.8 660.1 598.3 658.3 597.8M660.9 614.7L659.5 613.4 658.7 611.7 658.3 609.8 658.4 608.0 658.6 606.1M657.2 615.5L655.7 616.6 653.9 617.3 652.2 618.0 650.5 618.9 648.9 619.9 648.1 618.2 646.5 617.1 645.0 616.0M655.4 616.1L654.4 617.7 653.1 619.0 652.0 617.5 650.2 616.8 648.4 616.1 646.7 615.2 645.5 613.8 644.3 612.4 643.2 610.8 642.1 609.2M650.7 616.3L652.5 615.5 654.1 614.6 656.0 615.0 657.7 614.2 659.4 613.4M651.6 614.6L650.0 613.6 648.8 612.1 647.3 611.0M677.9 606.8L678.4 605.0 677.0 603.7 676.0 602.2 674.9 600.6 673.5 599.3 672.7 597.6 671.6 596.0 670.1 594.8 668.7 593.5M672.0 595.6L670.4 594.5 668.8 593.5 667.8 591.8 666.7 590.3 665.3 589.0M666.5 585.7L664.8 585.0 662.9 585.0 661.2 585.9M701.1 606.6L702.8 605.8 702.9 603.9 702.2 602.1 701.3 600.4 699.7 599.5 697.9 598.8 696.0 598.7 694.3 599.6 692.6 600.4 690.8 599.8 689.9 598.1 689.3 596.3 688.6 594.6 687.0 593.5 685.4 592.5 683.8 591.5 682.9 589.8 682.1 588.1 680.9 586.7 679.4 585.5 678.3 583.9 676.4 584.0 674.5 583.9 673.0 585.1 671.8 586.6 670.8 588.2 669.6 589.6 668.7 591.3M706.2 601.2L706.5 599.3 706.8 597.4 707.8 595.8 708.9 594.3 709.8 592.6 710.4 590.8 711.4 589.2 711.8 587.3 710.0 587.9 708.2 588.5 706.5 589.2 704.7 590.0 703.7 591.6 703.9 593.5 704.0 595.4 703.5 597.2 704.3 599.0 704.6 600.8 704.1 602.6 704.0 604.5 704.8 606.3 704.9 608.2 704.9 610.1 704.9 612.0 706.0 613.6 707.2 615.1 708.8 616.1M714.9 587.5L714.7 589.4 714.9 591.3 715.2 593.2 715.2 595.1 715.2 597.0 714.6 598.8 714.4 600.7 713.5 602.4 713.6 604.3 714.1 606.1 714.9 607.8 715.5 609.6 715.4 611.5 715.3 613.4 714.3 615.1 712.6 615.8 710.7 615.6M732.9 595.5L731.1 596.2 729.4 597.1 727.6 597.7 725.9 598.6 724.0 598.6M677.6 598.3L676.4 599.7 675.1 601.1 674.1 602.7 672.7 604.0 671.2 605.1 669.3 605.5 667.4 605.5 665.7 604.8 664.2 603.6 662.7 602.4 661.2 601.3 659.5 600.4 658.7 598.7 657.1 597.6 655.2 597.5M654.5 587.8L654.9 586.0 656.8 585.6 658.6 585.0 660.4 584.5 662.3 584.2 663.4 585.8 665.2 586.4 667.1 586.3 669.0 586.5 670.7 587.2 672.6 586.8 674.4 586.3 676.3 586.0 678.1 585.6 679.7 584.6 681.6 584.4M648.7 595.2L649.5 596.9 651.0 598.1 652.8 598.7 654.6 599.3 656.0 600.6 657.3 602.0 659.1 602.6M651.4 597.9L651.5 599.8 650.8 601.5 649.6 603.0 648.5 604.6 647.1 605.8 645.9 607.3 645.0 609.0M678.0 604.2L679.7 605.0 681.5 605.6 683.4 605.9 685.3 605.6 686.8 604.5 687.9 603.0 688.9 601.3 689.7 599.6 690.5 597.9 691.1 596.1 691.4 594.2 691.8 592.4 691.7 590.5 691.7 588.6 692.3 586.8 693.1 585.0 694.5 586.4 696.3 586.8 697.8 588.1 698.5 589.8 699.0 591.7 698.8 593.6 698.7 595.5 698.7 597.4 697.9 599.1 697.1 600.8 695.7 602.0 694.3 603.4 693.5 605.1 691.9 606.1 690.3 607.1 688.4 607.4 686.5 607.3M679.3 596.9L681.0 596.0 682.9 596.3 684.8 596.2 685.6 594.5 686.0 592.7 685.7 590.8 685.2 589.0 684.5 587.2 684.3 585.3 682.8 584.2 680.9 584.5 679.0 584.7 677.2 585.0 675.3 584.7 673.4 585.0 671.5 584.7 670.2 586.0 668.7 587.2M678.8 591.5L679.9 589.9 680.5 588.1 681.9 586.9 683.4 585.8 684.5 584.2 685.8 585.5 687.7 585.7 689.6 585.4 691.3 584.6 693.1 585.4 695.0 585.3 696.4 586.6 697.7 587.9 699.0 589.4 700.8 589.9 702.3 591.0 704.2 591.5 705.9 590.8 706.9 589.2M690.2 588.1L690.1 586.2 690.6 584.4 689.3 585.8 687.6 586.6 687.0 588.4 686.0 590.0 684.2 590.7 682.4 591.0 680.5 591.5 678.7 591.9 676.8 592.4 675.0 592.8 673.1 592.8 671.5 593.9 669.7 594.4 667.9 593.7 666.0 593.3 664.2 592.9 662.5 591.9M672.8 590.5L671.6 592.0 671.0 593.8 670.6 595.6 670.2 597.5 669.3 599.2M671.3 589.3L672.8 588.2 674.2 586.9 674.9 585.1 676.0 583.6M688.6 594.4L687.2 593.1 686.0 591.6 684.7 590.2 683.6 588.6 683.2 586.8 683.0 584.9 681.5 586.0 679.7 586.8 677.9 587.2 676.2 586.2 674.6 585.2 673.2 583.9 675.1 583.4 676.0 585.1 676.4 586.9 677.0 588.7 677.3 590.6 676.9 592.5 678.2 593.9 679.8 595.0 681.3 596.1 682.4 597.6 683.9 598.8 685.8 598.8M677.9 588.0L678.2 589.9 677.7 591.7 678.4 593.5 677.6 595.2 676.5 596.7 675.7 598.5 674.8 600.1 675.2 602.0 674.5 603.8 673.6 605.5 674.0 607.4 673.1 609.0 671.6 610.2 669.7 610.0 667.8 609.6 666.3 608.5 665.3 606.9 665.8 605.0 666.9 603.4 668.2 602.0 670.0 601.5 671.6 600.5 673.4 600.0M669.4 595.2L667.6 595.8 665.7 595.9 664.0 596.6 662.2 597.3 660.4 597.7 658.5 597.6 656.7 598.4 654.9 598.7 653.1 599.5 651.5 600.4 649.6 600.9 648.0 601.8M659.6 600.6L659.3 602.5 658.8 604.3 657.8 605.9 657.2 607.8 656.3 609.4 654.7 610.4 653.0 611.4 651.3 610.6 649.5 610.1 647.6 610.0 645.7 610.3 643.8 610.3 641.9 610.0 640.0 609.9M645.0 602.3L643.7 603.8 642.5 605.2 641.0 606.4 639.3 607.3M695.2 593.4L697.1 593.0 698.8 592.1 700.2 590.9 700.5 589.0 700.4 587.1M692.4 586.3L692.5 588.1 691.2 589.5 690.5 591.3 689.6 593.0M675.1 601.2L675.1 599.3 675.3 597.4 674.3 595.8 674.1 594.0 673.5 592.1 673.4 590.2 673.4 588.3 673.4 586.4 673.7 584.6 675.5 584.0 673.7 583.4 674.8 585.0 676.1 586.4 677.0 588.1 677.2 590.0 676.8 591.8 675.7 593.3 675.6 595.2 675.7 597.1 675.5 599.0 675.6 600.9 674.9 602.7 674.0 604.4 673.4 606.1M660.4 584.5L662.2 585.1 664.1 585.6 665.8 584.8 667.3 585.9 668.8 587.1 670.1 588.5 671.4 589.9 671.4 591.8 671.7 593.7 670.8 595.4 669.8 596.9 669.9 598.8 669.6 600.7 669.2 602.5M640.8 590.8L640.7 588.9 639.8 587.3 638.0 588.0M692.0 613.3L691.3 615.0 691.2 616.9 690.1 618.5 688.8 619.9 688.0 618.1 687.4 616.3 686.9 614.5 686.4 612.7 686.6 610.8 687.1 608.9 687.7 607.1 688.8 605.6 689.8 604.0 690.9 602.4 690.7 600.5 690.8 598.6M711.0 611.8L712.7 611.0 714.6 610.8 716.5 610.8 718.3 610.3 720.2 610.3M714.8 611.8L716.0 613.3 717.1 614.8 716.9 612.9 715.8 611.4M685.7 597.2L683.8 597.2 682.0 596.8 680.2 597.5 678.3 597.6 676.4 597.3 674.6 597.6 672.7 598.0 670.8 598.0 669.0 598.4 667.6 599.7 666.2 601.0M682.1 598.6L683.6 599.7 684.9 601.0 686.5 602.1 687.9 603.4 689.2 604.8 691.1 605.0 692.9 604.8 694.8 605.0 696.7 604.8 698.3 603.7 699.9 602.7 701.3 601.5 702.6 600.1 704.4 599.3 705.9 598.2M698.9 598.2L699.7 600.0 700.5 601.7 701.9 603.0 703.5 603.9 705.4 603.7 707.3 603.5 709.1 604.1 711.0 604.4 712.9 604.8 714.8 604.7 716.6 604.1 718.5 604.2 720.2 605.0M700.7 598.9L701.3 600.6 702.4 602.2 703.6 603.6 703.7 605.5 704.4 607.3 704.6 609.2 705.5 610.9 706.1 612.7 705.9 614.6 706.6 616.4 708.2 615.3 709.7 614.2 711.3 613.2 713.2 612.6 714.8 611.7M711.3 610.0L711.2 611.9 711.3 613.8 711.2 615.7 709.3 615.3 707.4 615.4 705.6 615.0 704.0 613.9 702.3 613.1M710.3 614.3L708.8 615.4 707.3 616.6 706.1 615.1 704.6 614.0 703.1 612.8 701.4 611.9 699.7 611.1 698.3 609.8 696.7 608.9M696.7 611.4L696.1 609.6 695.2 607.9 695.0 606.0M716.5 607.9L718.0 606.6 719.6 605.6 721.3 604.9 722.7 603.6 724.2 602.4 725.7 601.2 727.5 600.5 729.0 599.3M727.3 605.4L728.8 606.5M683.7 612.8L683.9 611.1 684.4 609.5 685.5 608.2 687.2 608.3M661.8 599.4L663.0 600.6 662.8 602.3 661.9 603.7 661.6 605.4 662.4 606.9M695.5 596.7L697.0 595.9 696.8 597.6 696.0 599.1 695.4 600.7 694.4 602.1 693.5 603.5 692.7 605.0M697.6 599.7L697.6 601.4 698.6 602.8 699.3 604.3 698.3 605.7M695.5 602.4L694.0 603.2 692.7 604.3 691.0 604.6M667.8 607.6L668.4 606.1 669.9 605.2 671.6 604.8 672.8 603.7M671.8 605.7L673.5 606.2 673.6 607.9M669.0 597.3L669.9 595.9 669.8 594.2 671.0 593.0 672.2 591.8 673.9 591.5 674.8 590.1 676.5 590.2 678.2 590.7M693.2 597.3L693.7 598.9 694.1 600.5 693.9 602.2 692.4 603.1 690.9 602.4 689.3 602.9 687.7 602.3 686.0 602.1 684.3 602.2 682.7 601.7 681.9 603.2M688.3 601.9L686.7 601.3 685.1 601.9 684.0 600.6 682.7 599.5 681.0 599.4 679.4 600.0 678.0 601.0M654.6 608.3L656.2 609.0 657.6 609.9 659.2 610.5 660.5 611.7 661.5 610.3 661.4 608.6 661.6 607.0 661.0 605.4M657.7 609.5L659.3 610.1 660.7 611.1 662.2 610.3M663.4 607.2L663.9 608.8 664.0 610.5 663.2 612.0" fill="none" stroke="#1ae2e8" stroke-width="1.04" stroke-linejoin="round" stroke-dasharray="2.2 0.9"/>
<path d="M720.9 454.4L719.4 455.4 718.6 457.0 718.0 458.7 716.8 460.0M713.5 448.7L714.1 447.0 713.7 445.2 713.0 443.6M707.7 590.3L709.2 591.5 709.5 593.4 710.2 595.2 710.6 597.0 712.0 598.3M676.2 602.6L678.0 602.2 679.9 602.2 681.8 602.4 683.6 601.8M675.5 592.8L673.8 591.9 672.7 590.4 671.8 588.7 671.3 586.9 672.1 585.1 673.9 584.5M689.4 585.3L689.7 587.2 689.5 589.1 688.4 590.6M702.0 604.1L703.8 603.7 705.5 602.7 707.0 601.6 708.7 600.7 710.5 600.1" fill="none" stroke="#1ae2e8" stroke-width="0.94" stroke-linejoin="round" stroke-dasharray="2.2 0.9"/>
<path d="M704.1 472.0L705.6 471.0 707.4 470.7 709.0 469.9 710.7 469.4 712.3 468.4 713.4 467.0 715.0 466.1 716.2 464.8 717.6 463.7 719.4 464.2 721.0 465.0 722.2 466.3 723.7 465.5 725.2 464.5 726.6 463.4 728.4 462.8 730.1 462.5 731.7 461.6 733.5 461.3 735.2 461.0 736.6 459.8 738.1 458.8 739.7 458.0 740.4 456.3 739.1 455.1 737.3 455.3 735.8 456.3 734.5 457.6 732.9 458.4 731.1 458.7 729.4 458.2 727.7 458.7 726.2 459.7 725.1 461.1 724.9 462.9 724.7 464.7 722.9 465.1 721.3 464.5 719.5 464.4 717.7 464.4M704.7 472.0L703.0 471.7 701.2 471.6 699.4 472.0 698.1 473.2 696.9 471.9 695.7 470.5 694.3 469.4 693.1 468.0 693.2 466.2 694.2 464.8 694.9 463.1 696.0 461.7 697.4 460.6 698.7 459.3 700.1 458.2 701.8 457.7 703.3 456.6 705.1 456.2 706.7 455.5 708.2 454.5M703.0 472.0L701.4 471.3 700.2 469.9 699.0 468.6 697.5 467.6 697.1 465.8 696.7 464.1 696.6 462.3 698.0 461.2 699.7 460.7 701.4 460.0 702.6 458.6 703.4 457.0 704.5 455.6 705.4 454.0 706.5 452.6 706.7 450.8 706.3 449.0 706.2 447.2 706.8 445.5 707.6 443.9 708.7 442.5 709.2 440.8 710.5 439.6 712.2 440.3 713.5 441.6 715.1 442.3 716.7 443.1 718.1 444.2 719.7 445.2 721.3 446.0 722.5 447.3 723.5 448.8 724.6 450.3 725.5 451.8 726.6 453.2 727.3 454.9 727.3 456.7 727.4 458.5M704.5 472.0L706.1 471.1 707.6 470.2 708.8 468.8 709.6 467.2 710.7 465.8 712.2 464.8 713.4 463.4 713.9 461.7 714.8 460.2 714.6 458.4 714.0 456.7 713.8 454.9 713.1 453.2 713.7 451.6 714.4 449.9 716.0 449.0 717.7 449.3 719.5 449.2 721.3 449.0 723.1 448.7 724.5 447.6 725.8 446.3 727.4 445.4 728.9 446.4 729.8 448.0 730.7 449.5 731.1 451.3 731.2 453.1 731.0 454.8 730.8 456.6 730.3 458.4 729.0 459.6 727.8 460.9 726.2 461.7 724.7 462.8 723.5 464.1M702.9 472.0L701.1 471.7 699.4 471.2 697.6 471.4 696.3 472.6 695.6 471.0 695.7 469.2 695.5 467.4 695.5 465.6 695.4 463.8 696.1 462.1 696.5 460.4 696.9 458.6 697.2 456.9 696.6 455.1 696.3 453.4 696.3 451.6 695.3 450.1 694.6 448.5 693.7 446.9 692.9 445.3 692.5 443.5 691.8 441.9 691.1 440.2 690.1 438.7 689.3 437.1 687.5 437.2 685.7 437.1 683.9 437.5 682.2 438.0 680.8 439.2M703.8 472.0L705.1 470.8 706.9 470.5 708.7 470.3 710.4 470.8 711.6 472.2 709.8 472.3 708.1 473.0 707.3 474.6 706.9 476.4 708.6 476.0 710.1 475.0 711.6 474.0 713.1 472.9 714.1 471.4 714.6 469.7 715.5 468.1 717.2 467.5 719.0 467.3 720.7 466.9 720.8 465.1 719.5 463.8 718.4 462.3 716.7 461.9 715.0 461.3 714.1 459.7 713.7 457.9 713.7 456.1M699.7 472.0L698.0 471.3 696.3 470.9 694.8 469.9 693.4 468.7 692.6 467.1 692.3 465.3 691.3 463.8 690.1 462.5 688.6 461.5 686.8 461.7 685.0 462.1 683.4 462.7 682.1 461.4 680.7 460.3 679.0 459.7 677.3 459.1 675.5 459.4 673.7 459.4 672.5 458.1 670.9 457.3 669.2 456.7 667.5 456.2 666.0 455.2 665.5 453.4 663.9 452.7 662.8 451.3 661.5 450.0 660.6 448.4 659.8 446.8 658.2 446.0 657.2 444.5 655.7 443.5 657.2 442.4 659.0 442.2 660.8 442.1 661.9 443.5 663.6 444.1 664.6 445.5 666.3 446.2M702.8 472.0L702.2 470.3 702.0 468.5 701.7 466.7 701.6 464.9 700.6 463.4 700.9 461.7 701.4 459.9 700.4 458.4 699.4 456.9 698.4 455.5 697.0 454.4 695.3 453.6 693.6 453.2 691.8 452.8 690.0 452.6 688.3 452.9 686.6 453.5 685.5 454.9 684.6 456.5 683.5 457.9 682.3 459.2 681.9 461.0 681.2 462.6 681.1 464.4 681.6 466.1 681.9 467.9 682.1 469.7 682.5 471.4 684.2 470.7 685.7 469.7 687.0 468.5 686.6 466.7 686.0 465.0 686.7 463.4 686.8 461.6 686.3 459.8 685.7 458.1 685.6 456.3 686.8 455.0M704.3 472.0L703.2 470.6 701.5 470.2 700.0 469.1 698.4 468.3 696.9 467.2 695.7 465.9 694.3 464.8 693.9 463.0 692.3 462.2 690.9 461.0 689.1 461.1 687.5 460.3 686.5 458.8 685.7 457.2 684.9 455.6 683.2 454.9 681.5 454.3 680.5 452.8 679.5 451.3 678.8 449.7 678.5 447.9 678.3 446.1 679.3 444.6 680.9 443.9 682.2 442.6 683.7 441.7 685.1 440.5 686.8 440.0 688.6 439.8M701.0 472.0L701.3 470.2 702.1 468.6 703.1 467.1 703.6 465.4 703.1 463.6 702.8 461.8 701.4 460.7 699.7 460.2 697.9 460.4 696.3 461.2 696.1 463.0 696.7 464.7 696.2 466.4 696.3 468.2 697.2 469.7 698.1 471.3 698.1 473.1 699.6 474.0 701.4 474.4 702.5 473.0 703.1 471.3 703.5 469.6 703.1 467.8 702.3 466.2 701.4 464.6M696.1 463.4L695.3 464.8 694.8 466.3 695.8 467.5 696.7 468.8 697.1 470.4 697.4 472.0 698.9 471.5 700.4 471.0 701.7 470.0 703.2 469.6 704.3 468.5 704.7 466.9 705.6 465.6 705.1 464.2 704.9 462.6 704.9 461.0 704.7 459.4 704.0 457.9M711.8 454.0L713.2 453.2 713.2 451.6 714.3 452.7 715.0 454.1 714.6 455.7 714.4 457.2 714.2 458.8 714.0 460.4 714.2 462.0 715.2 463.3 716.6 464.1 717.6 462.8 716.2 462.0 714.7 461.7 713.5 460.6M686.7 457.7L688.3 457.3 689.8 457.8 691.3 457.4 692.9 457.4 694.4 458.1 694.6 459.7 694.7 461.3 696.3 461.5 697.9 461.5 699.2 460.7 700.3 459.5 701.6 458.5 702.9 457.5 704.4 457.1 706.0 457.3 707.5 457.8 708.7 458.8 709.2 460.4 708.5 461.8M700.0 460.8L699.7 462.3 698.9 463.7 698.3 465.2 698.1 466.8 697.9 468.4 697.5 469.9 697.1 471.5 698.7 471.9 700.3 472.1 701.6 471.4 703.2 471.4 704.3 470.1 705.2 468.9 706.2 467.6 707.1 466.2 707.5 464.7 706.9 463.2 705.3 463.0 704.8 464.5 704.4 466.0M713.7 460.2L712.1 460.5 710.5 460.4 709.1 459.7 707.8 458.8 706.3 458.2 706.1 456.6 706.3 455.0 705.9 453.5 705.7 451.9 705.0 450.5M703.5 462.4L701.9 462.4 700.4 463.1 699.3 464.2 698.2 465.4 697.1 464.2 696.0 463.0 695.6 461.5 694.6 460.3 695.1 458.8 695.1 457.2 693.6 456.5 692.3 455.6 690.7 455.8M704.8 461.7L705.3 463.2 706.0 464.6 707.2 465.7 707.9 467.1 708.7 468.5 709.0 470.1 707.5 470.6 705.9 471.0 704.4 471.4 703.2 470.4 702.6 468.9 701.5 467.7 701.0 466.2 700.1 464.9 699.9 463.3 699.9 461.7 700.3 460.1 701.2 458.8 702.1 457.5 703.4 456.5 704.1 455.1M686.7 467.6L687.4 469.0 688.7 470.0 690.1 470.7 691.1 472.0 690.7 470.4 689.1 470.4 688.1 469.2 687.8 467.7 688.0 466.1 688.4 464.5 687.6 463.1 686.1 462.6 684.7 461.8 683.1 461.6M714.6 450.8L714.1 452.3 713.9 453.9 712.7 455.0 711.5 456.0 710.6 457.3 710.6 458.9 710.6 460.5 711.6 461.8 713.1 461.5 714.7 461.2 715.5 459.8 717.0 460.3 718.2 461.4M683.1 467.1L681.5 466.6 680.0 466.2 678.4 465.9 677.0 465.2 676.8 463.7 678.1 462.7 678.8 461.3 679.7 460.0 681.0 459.0 681.9 457.7 682.8 456.4 683.5 454.9 684.0 453.4 685.0 452.2 686.3 451.3 687.8 450.6 689.3 450.1 690.9 449.9 691.7 448.6 693.0 447.6 694.6 447.3M700.2 456.4L701.8 456.6 703.4 457.0 704.8 457.8 706.0 458.8 706.7 460.2 706.3 461.8 704.9 462.6 703.4 463.0 702.2 464.1 701.3 465.4 700.0 466.3 698.5 466.9 697.0 467.4M708.8 469.6L710.4 469.3 710.9 467.8 711.0 466.2 710.1 464.8 709.7 463.3 708.5 462.2 707.4 461.0 706.6 459.6 705.3 458.7 703.7 459.0 702.1 459.0 700.6 459.3 699.2 460.2 697.7 459.8 696.1 459.4 694.5 459.4 693.2 460.2 692.6 461.7 692.4 463.3M708.8 454.3L708.9 452.7 707.6 451.7 707.0 450.3 706.5 448.8 704.9 448.7 703.6 449.6 702.8 451.0 701.2 450.9 699.7 451.6 698.2 451.1 697.0 450.0 695.8 449.0 694.7 447.9 696.2 447.3 696.2 448.9 696.0 450.4 696.7 451.9 698.1 452.6 699.3 453.7M708.3 464.5L709.0 465.9 709.9 467.2 710.7 468.6 710.4 467.1 708.9 466.4 707.5 465.6 706.0 465.1 704.6 464.3 704.2 462.8 702.7 462.1 701.1 461.9M674.7 607.6L673.0 606.9 671.1 606.6 669.4 607.6 668.0 608.8 667.2 610.5 665.6 611.6 664.3 613.0 662.6 613.7 660.9 614.7 659.0 614.9 657.2 615.5 655.4 616.1 653.8 617.0 652.4 618.3 650.7 619.0 648.8 619.5 650.0 618.0 650.7 616.3 651.6 614.6 652.4 612.9 652.7 611.0 652.8 609.1 653.1 607.2 653.2 605.3M680.3 609.8L679.0 608.4 677.9 606.8 676.9 605.2 676.2 603.5 675.1 601.9 674.1 600.3 672.6 599.2 671.7 597.5 672.0 595.6 671.7 593.7 672.1 591.8 671.9 589.9 672.0 588.0 670.8 586.6 669.6 585.1 667.9 584.4 666.5 585.7 665.0 586.8 663.1 587.3 661.3 587.6 659.4 587.7 657.6 588.4M694.0 607.9L695.8 608.6 697.6 608.0 699.3 607.2 701.1 606.6 702.7 605.5 703.6 603.9 704.7 602.3 706.2 601.2 707.2 599.6 708.1 597.9 708.0 596.0 707.5 594.1 707.7 592.2 708.5 590.5 710.2 589.7 711.9 588.7 713.0 587.2 714.9 587.5 716.7 588.2 718.2 589.4 720.0 590.0 721.7 590.9 723.4 591.6 725.2 592.3 726.9 593.0 728.8 593.1 730.7 592.5 732.6 592.4 734.4 592.0 733.8 593.8 732.9 595.5 731.7 597.0 730.8 598.6 730.8 600.5 730.3 602.3 730.4 604.2 730.1 606.1 729.2 607.8 729.2 609.7 728.8 611.5 730.2 612.8 731.1 611.0M685.2 610.6L684.6 608.8 684.7 606.9 685.5 605.2 685.0 603.4 684.4 601.6 682.8 600.5 681.2 599.6 679.4 598.8 677.6 598.3 675.7 598.5 674.0 599.4 672.1 599.5 670.5 600.4 668.6 599.9 666.8 599.3 665.7 597.8 664.2 596.6 662.8 595.4 661.0 594.6 659.5 593.4 658.2 592.1 657.0 590.6 655.5 589.4 654.5 587.8 653.8 586.0 651.9 585.8 650.0 585.7 648.1 586.1 648.3 588.0 648.1 589.9 647.9 591.7 647.6 593.6 648.7 595.2 650.0 596.6 651.4 597.9 653.2 598.5 655.1 598.6 656.9 598.1 658.7 597.4 660.6 597.5 662.1 596.4 663.5 595.1 665.0 594.0 666.1 592.4M677.2 609.7L676.9 607.9 677.3 606.0 678.0 604.2 678.8 602.5 678.9 600.6 678.7 598.7 679.3 596.9 679.6 595.0 679.7 593.1 678.8 591.5 678.1 589.7 678.6 587.8 678.9 586.0 679.6 584.2 681.2 583.1 682.4 584.6 683.2 586.3 684.9 587.2 686.4 588.3 688.3 588.4 690.2 588.1 691.9 587.4 692.8 585.7 693.8 584.0 694.4 585.8 694.5 587.7 693.1 589.0 691.3 589.2 689.4 589.8 687.5 589.5 685.7 589.9 683.9 590.5 682.0 591.0 680.2 591.4 678.3 591.8 676.4 591.7 674.6 591.1 672.8 590.5 671.3 589.3 669.4 589.0 667.9 590.1 667.6 592.0 667.0 593.8 666.2 595.5 666.1 597.4M692.1 603.1L691.4 601.4 690.5 599.7 689.9 597.9 689.0 596.2 688.6 594.4 687.1 593.1 685.8 591.8 684.7 590.2 683.4 588.8 682.5 587.2 681.1 585.9 679.7 584.6 677.8 584.3 678.3 586.1 677.9 588.0 677.1 589.7 675.8 591.0 674.2 592.1 672.6 593.1 671.1 594.3 669.4 595.2 667.9 596.3 666.2 597.2 664.8 598.5 663.2 599.5 661.5 600.4 659.6 600.6 657.9 599.9 656.0 600.1 654.3 601.0 652.4 601.4 650.6 602.0 648.8 602.5 646.9 602.5 645.0 602.3 643.1 602.8 641.5 601.9 640.1 600.6 638.2 600.4 636.3 600.5 634.4 600.7 632.6 601.1 630.7 601.0 629.0 601.8 627.3 602.7M687.9 605.4L688.9 603.8 690.7 603.2 691.7 601.6 691.5 599.7 691.9 597.8 692.9 596.3 694.4 595.1 695.2 593.4 695.8 591.5 696.1 589.7 696.2 587.8 696.1 585.9 695.5 584.1 693.9 585.1 692.4 586.3 691.2 587.7 690.0 589.3 688.6 590.5 686.8 590.2 685.1 589.2 683.4 588.4 681.8 587.4M691.0 603.9L689.1 603.8 687.6 602.7 685.8 602.0 683.9 601.7 682.1 601.0 680.3 601.4 678.7 602.5 676.8 602.2 675.1 601.2 673.4 600.4 671.7 599.5 670.8 597.9 670.7 596.0 671.2 594.1 671.2 592.2 670.6 590.4 669.7 588.8 668.7 587.2 668.0 585.4 666.1 585.1 664.2 584.8 662.3 584.8 660.4 584.5 658.5 584.6 659.8 586.0 660.7 587.7 660.2 589.5 659.2 591.2 657.6 592.2 656.0 593.1 654.2 593.7 652.7 594.9 650.8 594.5 648.9 594.3 647.1 594.5 645.3 593.8 643.4 593.5 641.9 592.3 640.8 590.8 639.6 589.3 638.4 587.8 637.0 589.1 636.7 590.9M688.7 611.7L690.6 612.1 692.0 613.3 693.2 614.8 694.8 615.8 696.7 616.1 698.4 617.0 700.0 618.1 701.4 616.8 703.0 615.9 704.9 615.7 706.8 615.2 707.9 613.7 709.2 612.2 711.0 611.8 712.9 612.0 714.8 611.8 716.5 611.0 718.4 610.5 720.1 609.9 722.0 610.2 723.7 609.4 724.9 607.9 725.8 606.2 726.7 604.6M687.9 600.2L686.5 598.9 685.7 597.2 685.3 595.3 684.0 594.0 682.1 593.8 680.2 593.9 678.3 594.4 676.5 594.8 674.6 595.1 673.4 596.5 671.9 597.7 670.2 598.6 668.4 599.1 666.5 599.6 664.8 600.3 662.9 600.8 661.1 600.9 659.2 601.3 657.4 601.8 655.8 600.7 654.5 599.3 653.7 597.6M674.2 606.5L674.9 604.7 676.3 603.4 677.7 602.1 679.1 600.9 680.4 599.5 682.1 598.6 683.9 597.9 685.2 596.6 687.1 596.2 688.9 595.7 690.8 595.2 692.5 594.5 694.3 595.0 695.9 596.1 697.1 597.6 698.9 598.2 700.7 598.9 702.5 599.3 704.2 600.2 705.9 600.9 707.3 602.2 709.1 603.0 710.4 604.4 710.9 606.2 711.1 608.1 711.3 610.0 711.8 611.8 712.9 613.3 714.0 614.9 712.2 614.5 710.3 614.3 708.4 614.7 706.6 615.1 704.7 615.3 702.8 615.4 700.9 615.2 699.7 613.7 698.2 612.6 696.7 611.4 695.4 610.0 694.0 608.8 692.2 608.0 690.9 606.6M696.4 611.2L698.1 610.3 699.9 609.6 701.7 609.0 703.4 608.2 705.2 607.7 707.1 607.5 709.0 607.3 710.9 607.8 712.8 607.8 714.6 607.9 716.5 607.9 718.4 608.0 720.3 607.7 721.9 606.6 723.6 605.7 725.4 605.1 727.3 605.4 729.0 604.6 730.6 603.7 732.5 603.4 734.3 602.8M688.7 609.5L687.1 610.1 686.2 611.5 684.7 612.4 686.4 612.7 685.9 611.1 684.3 610.5 682.6 610.3 681.3 611.3 680.4 612.8 682.1 613.2 683.7 612.8 685.3 612.2 686.6 611.1 688.2 610.5 689.1 609.1 690.7 608.5 692.3 607.9 693.9 607.4 695.6 607.6 697.3 607.8M655.5 606.1L656.7 604.9 656.5 603.2 657.5 601.8 658.7 600.6 660.1 599.7 661.8 599.4 662.4 597.8 662.7 596.2 661.7 594.8 661.4 593.1 662.9 592.3 664.6 592.2 666.3 592.3 666.8 590.7M691.8 604.2L692.9 602.9 693.6 601.3 694.4 599.9 694.8 598.2 695.5 596.7 696.0 595.1 696.1 596.7 697.5 597.8 698.9 598.7 697.6 599.7 696.7 601.2 695.5 602.4 694.7 603.9 693.6 605.2 692.6 606.6 691.7 608.0 691.2 609.6 689.6 610.1M663.5 610.1L664.6 608.8 666.2 608.3 667.8 607.6 669.4 607.2 670.1 605.6 671.8 605.7 673.5 605.4 675.2 605.8 676.8 606.2 678.2 605.2M666.9 601.8L667.1 600.1 668.0 598.7 669.0 597.3 668.3 595.7 666.9 594.8 665.9 593.4 664.7 592.2 663.0 592.0 661.4 592.4 659.7 592.7 658.1 593.2 657.9 594.9 656.6 596.0 656.0 597.6M660.0 595.5L658.6 596.5 657.6 597.8 655.9 598.0 654.2 598.0 652.7 598.8 651.0 599.2 651.3 600.9 651.7 602.5 651.8 604.2 650.1 604.4 650.8 602.9M690.6 592.6L691.9 593.7 693.4 594.5 695.1 594.7 694.6 596.3 693.2 597.3 692.1 598.6 690.7 599.5 689.5 600.7 688.3 601.9 687.0 603.0 685.3 603.4 683.6 603.5 682.0 604.0 680.7 605.1 679.6 606.4 678.8 607.9 679.9 609.2 681.2 610.3 682.6 611.3 683.3 612.8M689.0 602.8L690.0 604.2 691.2 605.4 692.4 606.6 694.1 607.0 695.7 607.4 695.5 609.1 694.7 607.6 693.8 606.2 692.1 605.7 691.6 607.3M664.5 608.4L662.9 608.1 661.2 607.5 659.9 606.4 658.5 605.6 656.8 605.6 655.1 605.6 653.5 606.2 651.9 606.8 652.9 608.1 654.6 608.3 656.1 609.2 657.7 609.5 659.4 609.0 660.4 607.7 661.7 606.6 663.4 607.2 664.8 606.2 665.5 604.7 666.8 603.6 668.0 602.4" fill="none" stroke="#1ae2e8" stroke-width="1.1" stroke-linejoin="round" stroke-dasharray="2.2 0.9"/>
<path d="M690.0 458.0L687.8 457.5 686.7 458.1 684.8 456.9 682.4 457.6 681.4 457.9 679.0 458.9 677.8 458.3 675.3 458.9 674.2 457.6 672.4 457.8 670.4 458.5 667.3 458.3 665.4 459.1 664.7 459.6 663.0 460.2 661.6 460.6 658.6 460.4 657.8 461.5 655.2 461.2 653.5 462.4 650.6 462.6 649.5 462.2 647.8 462.3 645.3 463.0 643.3 462.8 641.6 462.7 640.2 463.1 637.7 462.9 635.9 463.2 634.7 464.2 631.2 464.7 630.3 465.3 628.5 465.3 626.0 465.2 623.8 465.2 621.9 465.2 619.7 465.5M680.0 450.0L677.7 449.1 676.1 449.5 674.5 449.6 672.8 449.8 671.3 449.7 669.4 448.5 667.1 448.5 665.0 447.7 663.2 447.5 661.4 447.6 659.9 447.5 657.7 446.8 655.8 446.3 653.1 446.4 651.6 446.4 650.1 446.1 648.3 445.3 646.7 443.2 644.1 443.5 641.6 441.8 641.2 442.4 638.0 441.1 635.8 440.6M700.0 455.0L701.8 455.1 704.1 454.3 705.7 454.5 708.3 455.2 709.9 455.1 710.4 455.0 713.6 454.9 715.4 455.4 717.3 455.6 717.6 454.8 720.4 455.4 721.9 455.8 724.7 455.7 726.3 455.2 728.2 456.5 729.8 456.1 731.6 456.1 733.8 456.5 735.7 457.3 738.4 456.7 739.8 456.7M690.0 450.0L689.7 448.8 688.2 446.8 686.8 445.2 687.0 444.3 685.2 442.6 683.2 441.3 679.1 439.2M705.0 450.0L706.5 448.8 705.8 446.6 707.0 444.3 708.6 441.8 710.3 441.7 712.2 440.1M710.0 462.0L712.7 461.8 714.0 461.6 716.1 460.1 717.3 460.7 719.5 460.3 723.0 460.1 723.0 457.6 725.4 457.7 726.0 455.3 726.9 455.3 728.3 453.3 728.9 451.0M662.5 575.8L661.6 574.8 660.1 573.7 658.8 572.0 657.4 570.6 656.7 569.6 655.8 568.6 654.1 567.0 653.4 565.5 653.2 563.0 651.7 561.5 651.5 560.3 650.0 558.4 650.3 556.4 648.9 554.6 649.4 551.3 649.5 551.1 648.2 548.3 647.7 546.6 647.2 544.6 647.7 542.8 647.1 542.2 647.0 539.8 646.1 537.4 646.3 535.4 645.7 533.5 644.7 532.2 644.8 530.2 646.4 528.3 644.4 525.6 644.6 524.4 644.4 522.8 644.1 518.9M679.0 585.0L678.3 583.7 678.5 581.3 680.0 579.3 679.1 578.1 678.5 576.3 677.5 574.4 677.6 572.6 677.1 571.1 677.3 568.9 675.0 566.2 675.5 564.8 674.7 564.2 673.6 561.5 672.1 560.6 672.0 558.1 670.9 557.0 670.0 554.7 668.5 553.2 668.2 550.4 665.8 550.2M704.0 588.0L703.9 586.6 703.8 583.7 703.7 582.6 703.9 579.9 703.8 578.8 703.5 577.2 704.0 575.7 703.6 572.7 702.7 572.2 703.1 569.8 702.6 569.0 702.3 566.0 701.2 564.1 701.3 562.2 701.2 560.8 700.4 558.2 700.6 557.1 699.6 555.4M660.0 603.0L657.6 602.8 656.0 602.4 654.0 603.0 652.7 602.4 651.3 601.6 649.0 601.8 647.9 601.8 645.6 601.7 644.2 602.5 641.1 601.2 639.2 600.9 638.4 601.5 636.3 602.5 634.8 602.4 633.5 602.3 630.1 602.6 628.5 602.1 627.1 602.8 625.0 603.3 624.7 603.7 621.9 603.4 619.8 603.3 617.8 603.9 616.2 605.8 615.2 605.6 612.4 606.9 610.9 605.6 610.0 607.3 606.6 607.1 605.9 608.9 603.7 609.0 601.6 609.6 600.1 609.4 598.0 610.3 596.7 610.8 594.8 611.6 593.6 612.0 591.5 611.1 589.9 608.3 589.1 607.5 587.9 606.2M650.0 610.0L647.4 609.8 646.5 609.9 643.8 611.5 643.0 612.1 640.8 612.1 638.6 612.4 637.9 612.7 635.3 613.0 634.8 613.0 631.6 613.4 631.1 614.3 627.8 614.5 626.3 614.6 625.5 614.4 622.7 614.8 620.2 613.6 618.4 614.3 617.1 614.2 614.6 614.2 614.8 613.9 610.5 614.3 609.9 613.4M705.0 600.0L707.4 599.9 709.1 598.7 710.5 599.1 712.8 599.3 715.5 598.5 716.6 598.5 718.7 598.5 719.6 597.6 722.2 598.3 724.4 598.5 725.3 598.8 727.5 599.0 729.1 599.5 730.8 599.6 732.6 599.5 734.2 599.5 736.6 600.7 737.5 602.2 740.3 604.1 741.3 603.7 741.2 605.1 743.9 607.3M700.0 606.0L702.0 606.1 704.2 607.3 706.2 607.9 706.7 608.2 709.5 608.1 711.1 608.1 712.4 609.0 715.1 609.7 716.7 610.0 719.9 609.4 720.7 610.8 722.5 610.6 725.1 610.6 726.2 611.6 728.6 611.0 730.1 612.8M690.0 612.0L689.9 613.5 690.0 616.0 689.0 617.3 689.1 618.8 688.4 622.2 688.0 623.9 687.8 624.5 687.9 627.9 687.8 629.6 685.2 630.9 686.8 633.4 686.2 635.0 685.6 637.3 685.7 640.1 684.9 642.1 685.1 642.6 684.4 644.3 682.8 647.1 683.9 649.4" fill="none" stroke="#1ae2e8" stroke-width="1.05" stroke-linejoin="round" stroke-dasharray="2.2 0.9"/>
<path d="M635.8 440.6L634.4 440.0 633.6 438.6M704.1 454.3L703.7 452.7 703.8 451.1 703.7 449.5 703.9 447.9M708.3 455.2L706.7 454.8 705.2 454.2 703.7 454.0 702.1 453.4M717.3 455.6L715.8 454.9 714.9 453.6 714.9 452.0 714.9 450.4 715.1 448.8 715.5 447.3M733.8 456.5L732.7 457.7 732.5 459.3M708.6 441.8L710.0 441.1 711.6 441.1 713.0 441.8M710.3 441.7L710.4 443.3 709.7 444.7 709.1 446.2 708.6 447.7M716.1 460.1L716.8 461.6 716.5 463.1 715.5 464.4 716.5 465.7 717.1 467.2 716.6 468.7M723.0 460.1L722.1 458.8 722.8 457.4 723.5 455.9 724.3 454.5 724.0 452.9M728.3 453.3L726.7 453.6 725.5 452.6 724.2 451.7 723.2 450.4M651.5 560.3L651.1 561.9 650.4 563.3 649.5 564.6M670.9 557.0L672.4 556.6 673.8 555.7M703.9 586.6L703.7 585.1 703.2 583.6 703.2 582.0 702.7 580.4 702.7 578.8M700.6 557.1L700.9 555.5 701.3 554.0 702.6 553.1 703.7 551.9M633.5 602.3L633.8 600.8 633.9 599.2 635.1 598.1 636.2 596.9M630.1 602.6L631.7 602.6 633.0 601.8 634.5 601.2 636.0 600.5M640.8 612.1L639.6 611.0 638.3 610.1 637.0 609.2 635.7 608.3 634.3 607.4M626.3 614.6L625.9 616.2 624.9 617.4 624.1 618.8 623.2 620.1 621.6 620.4M618.4 614.3L620.0 614.3 621.4 613.6 623.0 613.1 624.4 612.4 625.7 611.5 627.3 611.6M709.1 598.7L709.2 600.3 710.0 601.6M729.1 599.5L728.3 598.1 727.3 596.9 726.3 595.6 724.9 594.7 723.4 595.2 722.1 596.1M741.3 603.7L740.5 602.3 740.3 600.7 740.5 599.2M689.1 618.8L687.6 618.3 686.3 617.3 685.0 616.3 684.3 614.9 683.2 613.7 682.0 612.7" fill="none" stroke="#1ae2e8" stroke-width="0.95" stroke-linejoin="round" stroke-dasharray="2.2 0.9"/>
<path d="M691.7 608.0L693.6 608.7 695.3 609.7 697.2 610.2 699.2 610.4 701.2 610.5 703.2 610.4M691.7 608.0L690.3 609.4 688.7 610.7 686.9 611.4 685.0 612.0 683.0 612.5 681.1 613.1 679.1 613.0 677.1 613.4 675.1 613.4 673.4 614.3 671.5 615.0 669.5 615.2M691.7 608.0L693.5 608.9 695.2 609.9 697.2 610.4 699.1 610.8 701.0 611.5 702.7 612.6 704.5 613.4 706.1 614.6 708.0 615.3 709.9 615.8 711.8 616.3 713.6 617.3 715.3 618.3M691.7 608.0L689.8 607.3 688.3 606.0 686.9 604.6 685.6 603.1 684.1 601.8 682.8 600.3 681.3 598.9 679.9 597.5 678.3 596.3 676.8 594.9 675.1 594.0M691.7 608.0L689.9 608.9 688.0 609.5 686.0 609.3 684.2 608.5 682.3 607.9 680.3 607.9 678.3 607.8 676.3 608.1 674.4 608.7 672.8 609.9 671.3 611.3 669.9 612.7 668.1 613.6 666.4 614.6 664.6 615.5M691.7 608.0L693.7 608.2 695.7 608.3 697.6 608.7 699.6 609.3 701.6 609.1 703.6 609.0M691.7 608.0L689.8 607.4 688.2 606.1 686.7 604.9 685.0 603.8 683.2 602.9 681.7 601.6 679.9 600.8 678.0 599.9 676.0 599.9 674.1 599.4M691.7 608.0L693.7 608.3 695.6 608.8 697.6 609.3 699.5 609.8 701.3 610.6 703.2 611.3 705.1 611.9M691.7 608.0L689.7 607.8 687.9 607.0 686.1 606.0 684.2 605.5 682.2 605.3 680.2 605.2 678.2 605.4 676.2 605.3 674.2 604.9 672.3 605.1M691.7 608.0L693.0 609.5 694.9 610.3 696.6 611.3 698.3 612.4 699.5 614.0 700.5 615.7 701.2 617.6 702.3 619.2 703.7 620.6 705.2 622.0" fill="none" stroke="#3a3a3a" stroke-width="0.45" stroke-linejoin="round"/>
<path d="M689.8 607.4L689.9 605.4 689.2 603.5 688.0 601.9 686.5 600.6 685.1 599.2M696.6 611.3L698.5 610.8 700.4 610.1 702.4 610.0 704.3 610.4 706.3 610.6" fill="none" stroke="#3a3a3a" stroke-width="0.43" stroke-linejoin="round"/>
<path d="M683.3 648.8L681.8 650.7 680.8 653.0 679.4 654.4 678.2 656.2 677.2 658.6 675.9 660.1 674.9 661.1 673.2 662.8 671.3 664.4 670.2 665.8 668.4 667.3 666.7 669.1 665.6 670.1 664.0 671.9 662.5 673.1 660.2 674.9 658.5 676.3 657.1 676.4 654.9 678.7 653.3 678.6 651.3 679.6 649.7 680.9 647.8 682.1" fill="none" stroke="#3a3a3a" stroke-width="0.55" stroke-linejoin="round"/>
<path d="M729.1 459.0h1.7v1.7h-1.7zM720.1 462.5h1.7v1.7h-1.7zM727.0 462.0h1.7v1.7h-1.7zM724.8 459.0h1.7v1.7h-1.7zM717.9 459.6h1.7v1.7h-1.7zM717.8 456.2h1.7v1.7h-1.7zM723.0 455.4h1.7v1.7h-1.7zM717.4 451.1h1.7v1.7h-1.7zM730.8 460.7h1.7v1.7h-1.7zM728.2 455.9h1.7v1.7h-1.7zM722.3 452.8h1.7v1.7h-1.7zM716.5 448.9h1.7v1.7h-1.7zM715.1 442.0h1.7v1.7h-1.7zM728.6 457.3h1.7v1.7h-1.7zM728.4 450.4h1.7v1.7h-1.7zM725.8 462.4h1.7v1.7h-1.7zM703.3 471.1h1.7v1.7h-1.7zM709.9 468.5h1.7v1.7h-1.7zM715.3 463.9h1.7v1.7h-1.7zM721.3 465.5h1.7v1.7h-1.7zM727.5 462.0h1.7v1.7h-1.7zM734.4 460.1h1.7v1.7h-1.7zM739.6 455.5h1.7v1.7h-1.7zM733.7 456.7h1.7v1.7h-1.7zM726.9 457.8h1.7v1.7h-1.7zM723.8 463.9h1.7v1.7h-1.7zM716.8 463.5h1.7v1.7h-1.7zM697.0 470.2h1.7v1.7h-1.7zM692.3 465.4h1.7v1.7h-1.7zM693.7 469.0h1.7v1.7h-1.7zM686.7 470.2h1.7v1.7h-1.7zM702.1 470.9h1.7v1.7h-1.7zM696.0 471.0h1.7v1.7h-1.7zM692.3 465.4h1.7v1.7h-1.7zM696.6 459.7h1.7v1.7h-1.7zM702.5 455.7h1.7v1.7h-1.7zM713.3 446.1h1.7v1.7h-1.7zM709.4 449.2h1.7v1.7h-1.7zM714.4 445.3h1.7v1.7h-1.7zM708.6 452.6h1.7v1.7h-1.7zM710.7 445.9h1.7v1.7h-1.7zM715.9 441.7h1.7v1.7h-1.7zM715.3 445.7h1.7v1.7h-1.7zM707.8 441.6h1.7v1.7h-1.7zM705.0 438.7h1.7v1.7h-1.7zM713.1 439.8h1.7v1.7h-1.7zM717.6 448.7h1.7v1.7h-1.7zM712.0 451.2h1.7v1.7h-1.7zM702.2 471.1h1.7v1.7h-1.7zM696.7 466.7h1.7v1.7h-1.7zM697.2 460.3h1.7v1.7h-1.7zM702.6 456.2h1.7v1.7h-1.7zM705.8 449.9h1.7v1.7h-1.7zM706.7 443.1h1.7v1.7h-1.7zM711.3 439.5h1.7v1.7h-1.7zM717.3 443.4h1.7v1.7h-1.7zM722.7 447.9h1.7v1.7h-1.7zM726.5 454.0h1.7v1.7h-1.7zM699.2 462.1h1.7v1.7h-1.7zM700.7 455.4h1.7v1.7h-1.7zM706.5 465.7h1.7v1.7h-1.7zM700.8 463.0h1.7v1.7h-1.7zM695.1 458.7h1.7v1.7h-1.7zM688.9 458.4h1.7v1.7h-1.7zM682.5 457.1h1.7v1.7h-1.7zM712.9 469.0h1.7v1.7h-1.7zM707.9 473.5h1.7v1.7h-1.7zM711.2 472.0h1.7v1.7h-1.7zM715.6 467.0h1.7v1.7h-1.7zM703.7 471.1h1.7v1.7h-1.7zM708.7 466.3h1.7v1.7h-1.7zM713.0 460.9h1.7v1.7h-1.7zM712.9 454.0h1.7v1.7h-1.7zM715.1 448.2h1.7v1.7h-1.7zM722.2 447.8h1.7v1.7h-1.7zM728.0 445.5h1.7v1.7h-1.7zM730.4 452.2h1.7v1.7h-1.7zM728.1 458.7h1.7v1.7h-1.7zM722.6 463.2h1.7v1.7h-1.7zM688.5 439.9h1.7v1.7h-1.7zM698.6 470.3h1.7v1.7h-1.7zM694.9 468.3h1.7v1.7h-1.7zM695.2 461.3h1.7v1.7h-1.7zM695.8 454.3h1.7v1.7h-1.7zM693.7 447.6h1.7v1.7h-1.7zM691.0 441.0h1.7v1.7h-1.7zM686.6 436.3h1.7v1.7h-1.7zM680.0 438.3h1.7v1.7h-1.7zM711.8 466.6h1.7v1.7h-1.7zM710.3 469.6h1.7v1.7h-1.7zM710.0 462.5h1.7v1.7h-1.7zM716.1 466.3h1.7v1.7h-1.7zM719.8 461.5h1.7v1.7h-1.7zM707.8 469.5h1.7v1.7h-1.7zM707.3 472.2h1.7v1.7h-1.7zM709.3 474.1h1.7v1.7h-1.7zM713.8 468.8h1.7v1.7h-1.7zM719.9 466.0h1.7v1.7h-1.7zM715.8 461.0h1.7v1.7h-1.7zM712.8 455.3h1.7v1.7h-1.7zM683.7 467.2h1.7v1.7h-1.7zM682.0 468.9h1.7v1.7h-1.7zM683.8 467.1h1.7v1.7h-1.7zM681.4 460.6h1.7v1.7h-1.7zM683.4 465.5h1.7v1.7h-1.7zM683.4 470.1h1.7v1.7h-1.7zM681.5 466.7h1.7v1.7h-1.7zM674.7 466.6h1.7v1.7h-1.7zM670.4 467.6h1.7v1.7h-1.7zM675.4 459.8h1.7v1.7h-1.7zM671.9 466.0h1.7v1.7h-1.7zM667.7 468.3h1.7v1.7h-1.7zM661.1 466.8h1.7v1.7h-1.7zM698.8 471.1h1.7v1.7h-1.7zM692.6 467.8h1.7v1.7h-1.7zM689.3 461.6h1.7v1.7h-1.7zM682.5 461.9h1.7v1.7h-1.7zM676.4 458.3h1.7v1.7h-1.7zM670.0 456.5h1.7v1.7h-1.7zM664.7 452.6h1.7v1.7h-1.7zM659.8 447.6h1.7v1.7h-1.7zM654.8 442.6h1.7v1.7h-1.7zM661.0 442.6h1.7v1.7h-1.7zM682.7 448.6h1.7v1.7h-1.7zM684.7 442.3h1.7v1.7h-1.7zM695.2 455.0h1.7v1.7h-1.7zM688.2 453.8h1.7v1.7h-1.7zM682.1 450.3h1.7v1.7h-1.7zM675.3 448.5h1.7v1.7h-1.7zM668.8 450.1h1.7v1.7h-1.7zM662.5 453.3h1.7v1.7h-1.7zM706.6 456.6h1.7v1.7h-1.7zM689.2 451.7h1.7v1.7h-1.7zM692.0 458.0h1.7v1.7h-1.7zM697.3 461.2h1.7v1.7h-1.7zM703.8 460.5h1.7v1.7h-1.7zM710.9 460.7h1.7v1.7h-1.7zM686.7 466.1h1.7v1.7h-1.7zM685.2 467.1h1.7v1.7h-1.7zM687.9 460.8h1.7v1.7h-1.7zM701.1 467.7h1.7v1.7h-1.7zM700.1 460.8h1.7v1.7h-1.7zM697.5 454.6h1.7v1.7h-1.7zM691.0 452.0h1.7v1.7h-1.7zM684.6 454.0h1.7v1.7h-1.7zM681.1 460.1h1.7v1.7h-1.7zM681.0 467.1h1.7v1.7h-1.7zM684.9 468.9h1.7v1.7h-1.7zM685.9 462.5h1.7v1.7h-1.7zM684.8 455.5h1.7v1.7h-1.7zM692.8 455.2h1.7v1.7h-1.7zM688.3 455.2h1.7v1.7h-1.7zM683.3 450.6h1.7v1.7h-1.7zM678.7 454.1h1.7v1.7h-1.7zM672.6 450.7h1.7v1.7h-1.7zM679.6 442.5h1.7v1.7h-1.7zM700.6 469.3h1.7v1.7h-1.7zM694.9 465.1h1.7v1.7h-1.7zM690.1 460.2h1.7v1.7h-1.7zM684.9 456.3h1.7v1.7h-1.7zM679.7 451.9h1.7v1.7h-1.7zM677.4 445.3h1.7v1.7h-1.7zM682.8 440.8h1.7v1.7h-1.7zM694.5 467.2h1.7v1.7h-1.7zM697.3 472.2h1.7v1.7h-1.7zM690.8 470.5h1.7v1.7h-1.7zM701.3 467.8h1.7v1.7h-1.7zM702.0 461.0h1.7v1.7h-1.7zM695.4 460.3h1.7v1.7h-1.7zM695.4 467.3h1.7v1.7h-1.7zM698.8 473.2h1.7v1.7h-1.7zM702.7 468.7h1.7v1.7h-1.7zM702.7 464.9h1.7v1.7h-1.7zM698.0 461.5h1.7v1.7h-1.7zM694.0 465.4h1.7v1.7h-1.7zM696.5 471.1h1.7v1.7h-1.7zM702.4 468.8h1.7v1.7h-1.7zM704.2 463.3h1.7v1.7h-1.7zM703.2 457.1h1.7v1.7h-1.7zM711.0 453.2h1.7v1.7h-1.7zM714.2 453.3h1.7v1.7h-1.7zM713.2 459.6h1.7v1.7h-1.7zM716.7 462.0h1.7v1.7h-1.7zM690.6 465.2h1.7v1.7h-1.7zM693.8 458.8h1.7v1.7h-1.7zM688.9 458.6h1.7v1.7h-1.7zM684.2 455.7h1.7v1.7h-1.7zM690.5 456.5h1.7v1.7h-1.7zM693.8 460.4h1.7v1.7h-1.7zM699.5 458.7h1.7v1.7h-1.7zM705.1 456.5h1.7v1.7h-1.7zM707.7 460.9h1.7v1.7h-1.7zM694.7 461.9h1.7v1.7h-1.7zM689.7 460.0h1.7v1.7h-1.7zM699.4 471.3h1.7v1.7h-1.7zM705.3 470.2h1.7v1.7h-1.7zM699.2 459.9h1.7v1.7h-1.7zM697.3 465.9h1.7v1.7h-1.7zM697.8 471.0h1.7v1.7h-1.7zM703.4 469.3h1.7v1.7h-1.7zM706.6 463.8h1.7v1.7h-1.7zM703.6 465.2h1.7v1.7h-1.7zM706.9 457.9h1.7v1.7h-1.7zM701.4 455.6h1.7v1.7h-1.7zM711.2 459.7h1.7v1.7h-1.7zM705.4 457.3h1.7v1.7h-1.7zM704.9 451.0h1.7v1.7h-1.7zM698.5 463.4h1.7v1.7h-1.7zM694.7 460.7h1.7v1.7h-1.7zM692.8 455.7h1.7v1.7h-1.7zM697.0 465.2h1.7v1.7h-1.7zM699.6 462.4h1.7v1.7h-1.7zM698.0 456.4h1.7v1.7h-1.7zM704.4 462.4h1.7v1.7h-1.7zM707.8 467.7h1.7v1.7h-1.7zM703.5 470.6h1.7v1.7h-1.7zM700.1 465.4h1.7v1.7h-1.7zM699.5 459.3h1.7v1.7h-1.7zM703.2 454.2h1.7v1.7h-1.7zM685.7 467.9h1.7v1.7h-1.7zM687.0 468.7h1.7v1.7h-1.7zM681.7 465.4h1.7v1.7h-1.7zM686.1 462.9h1.7v1.7h-1.7zM689.3 469.9h1.7v1.7h-1.7zM687.2 468.4h1.7v1.7h-1.7zM686.7 462.3h1.7v1.7h-1.7zM713.3 451.4h1.7v1.7h-1.7zM709.8 456.5h1.7v1.7h-1.7zM712.3 460.7h1.7v1.7h-1.7zM717.3 460.5h1.7v1.7h-1.7zM680.7 465.8h1.7v1.7h-1.7zM675.9 462.8h1.7v1.7h-1.7zM680.1 458.1h1.7v1.7h-1.7zM683.1 452.6h1.7v1.7h-1.7zM688.4 449.2h1.7v1.7h-1.7zM693.7 446.4h1.7v1.7h-1.7zM699.4 455.5h1.7v1.7h-1.7zM705.2 457.9h1.7v1.7h-1.7zM702.5 462.2h1.7v1.7h-1.7zM697.6 466.1h1.7v1.7h-1.7zM708.0 468.8h1.7v1.7h-1.7zM709.3 464.0h1.7v1.7h-1.7zM705.8 458.8h1.7v1.7h-1.7zM699.7 458.4h1.7v1.7h-1.7zM693.7 458.5h1.7v1.7h-1.7zM706.1 449.5h1.7v1.7h-1.7zM701.9 450.2h1.7v1.7h-1.7zM696.2 449.2h1.7v1.7h-1.7zM695.3 448.0h1.7v1.7h-1.7zM698.5 452.8h1.7v1.7h-1.7zM708.2 465.1h1.7v1.7h-1.7zM708.1 465.6h1.7v1.7h-1.7zM703.3 461.9h1.7v1.7h-1.7zM687.0 456.7h1.7v1.7h-1.7zM683.9 456.0h1.7v1.7h-1.7zM680.6 457.0h1.7v1.7h-1.7zM676.9 457.4h1.7v1.7h-1.7zM673.3 456.8h1.7v1.7h-1.7zM669.6 457.7h1.7v1.7h-1.7zM664.6 458.3h1.7v1.7h-1.7zM662.2 459.3h1.7v1.7h-1.7zM657.7 459.6h1.7v1.7h-1.7zM654.3 460.3h1.7v1.7h-1.7zM649.7 461.8h1.7v1.7h-1.7zM647.0 461.4h1.7v1.7h-1.7zM642.4 462.0h1.7v1.7h-1.7zM639.3 462.2h1.7v1.7h-1.7zM635.1 462.3h1.7v1.7h-1.7zM630.4 463.9h1.7v1.7h-1.7zM627.7 464.5h1.7v1.7h-1.7zM623.0 464.4h1.7v1.7h-1.7zM618.8 464.7h1.7v1.7h-1.7zM633.5 439.1h1.7v1.7h-1.7zM679.1 449.1h1.7v1.7h-1.7zM675.3 448.7h1.7v1.7h-1.7zM671.9 448.9h1.7v1.7h-1.7zM668.5 447.6h1.7v1.7h-1.7zM664.1 446.9h1.7v1.7h-1.7zM660.5 446.7h1.7v1.7h-1.7zM656.9 445.9h1.7v1.7h-1.7zM652.3 445.5h1.7v1.7h-1.7zM649.2 445.2h1.7v1.7h-1.7zM645.8 442.3h1.7v1.7h-1.7zM640.8 440.9h1.7v1.7h-1.7zM637.1 440.2h1.7v1.7h-1.7zM702.9 451.9h1.7v1.7h-1.7zM702.9 448.7h1.7v1.7h-1.7zM707.4 454.4h1.7v1.7h-1.7zM704.4 453.3h1.7v1.7h-1.7zM701.3 452.6h1.7v1.7h-1.7zM716.4 454.8h1.7v1.7h-1.7zM714.1 452.7h1.7v1.7h-1.7zM714.0 449.5h1.7v1.7h-1.7zM714.6 446.4h1.7v1.7h-1.7zM731.9 456.8h1.7v1.7h-1.7zM699.1 454.1h1.7v1.7h-1.7zM703.2 453.4h1.7v1.7h-1.7zM707.4 454.4h1.7v1.7h-1.7zM709.5 454.1h1.7v1.7h-1.7zM714.6 454.6h1.7v1.7h-1.7zM716.8 453.9h1.7v1.7h-1.7zM721.1 454.9h1.7v1.7h-1.7zM725.4 454.4h1.7v1.7h-1.7zM729.0 455.2h1.7v1.7h-1.7zM732.9 455.6h1.7v1.7h-1.7zM737.6 455.9h1.7v1.7h-1.7zM689.1 449.1h1.7v1.7h-1.7zM687.3 446.0h1.7v1.7h-1.7zM686.2 443.5h1.7v1.7h-1.7zM682.3 440.5h1.7v1.7h-1.7zM707.8 441.0h1.7v1.7h-1.7zM710.8 440.2h1.7v1.7h-1.7zM709.5 442.4h1.7v1.7h-1.7zM708.2 445.4h1.7v1.7h-1.7zM705.6 448.0h1.7v1.7h-1.7zM706.2 443.4h1.7v1.7h-1.7zM709.5 440.8h1.7v1.7h-1.7zM715.3 459.2h1.7v1.7h-1.7zM715.6 462.3h1.7v1.7h-1.7zM715.6 464.9h1.7v1.7h-1.7zM715.8 467.9h1.7v1.7h-1.7zM721.3 458.0h1.7v1.7h-1.7zM722.6 455.1h1.7v1.7h-1.7zM723.2 452.1h1.7v1.7h-1.7zM727.4 452.5h1.7v1.7h-1.7zM724.7 451.7h1.7v1.7h-1.7zM722.3 449.6h1.7v1.7h-1.7zM711.8 461.0h1.7v1.7h-1.7zM715.3 459.2h1.7v1.7h-1.7zM718.7 459.5h1.7v1.7h-1.7zM722.1 456.8h1.7v1.7h-1.7zM725.2 454.5h1.7v1.7h-1.7zM727.4 452.5h1.7v1.7h-1.7zM667.8 601.1h1.7v1.7h-1.7zM661.1 598.0h1.7v1.7h-1.7zM660.1 613.8h1.7v1.7h-1.7zM657.5 607.1h1.7v1.7h-1.7zM652.2 617.9h1.7v1.7h-1.7zM653.1 616.4h1.7v1.7h-1.7zM647.2 617.4h1.7v1.7h-1.7zM651.1 616.6h1.7v1.7h-1.7zM644.6 613.0h1.7v1.7h-1.7zM654.5 617.1h1.7v1.7h-1.7zM653.2 613.7h1.7v1.7h-1.7zM649.1 612.8h1.7v1.7h-1.7zM668.6 606.7h1.7v1.7h-1.7zM663.5 612.2h1.7v1.7h-1.7zM656.4 614.6h1.7v1.7h-1.7zM649.8 618.2h1.7v1.7h-1.7zM650.8 613.7h1.7v1.7h-1.7zM652.2 606.4h1.7v1.7h-1.7zM679.3 603.4h1.7v1.7h-1.7zM684.9 598.4h1.7v1.7h-1.7zM677.6 604.2h1.7v1.7h-1.7zM672.7 598.4h1.7v1.7h-1.7zM667.9 592.7h1.7v1.7h-1.7zM668.0 592.6h1.7v1.7h-1.7zM662.1 584.2h1.7v1.7h-1.7zM679.4 609.0h1.7v1.7h-1.7zM675.3 602.6h1.7v1.7h-1.7zM670.9 596.6h1.7v1.7h-1.7zM671.1 589.1h1.7v1.7h-1.7zM667.0 583.5h1.7v1.7h-1.7zM660.4 586.8h1.7v1.7h-1.7zM701.3 601.3h1.7v1.7h-1.7zM695.2 597.9h1.7v1.7h-1.7zM689.0 597.3h1.7v1.7h-1.7zM684.5 591.7h1.7v1.7h-1.7zM680.0 585.8h1.7v1.7h-1.7zM673.6 583.1h1.7v1.7h-1.7zM668.7 588.8h1.7v1.7h-1.7zM711.0 586.5h1.7v1.7h-1.7zM704.9 585.9h1.7v1.7h-1.7zM698.8 586.0h1.7v1.7h-1.7zM708.4 590.7h1.7v1.7h-1.7zM711.2 597.4h1.7v1.7h-1.7zM707.4 587.7h1.7v1.7h-1.7zM708.7 594.5h1.7v1.7h-1.7zM714.2 596.7h1.7v1.7h-1.7zM720.0 592.1h1.7v1.7h-1.7zM703.0 592.6h1.7v1.7h-1.7zM710.6 592.9h1.7v1.7h-1.7zM704.9 601.5h1.7v1.7h-1.7zM706.2 608.8h1.7v1.7h-1.7zM707.0 595.0h1.7v1.7h-1.7zM710.5 588.3h1.7v1.7h-1.7zM705.6 588.4h1.7v1.7h-1.7zM703.1 594.5h1.7v1.7h-1.7zM703.3 601.8h1.7v1.7h-1.7zM704.0 609.2h1.7v1.7h-1.7zM707.9 615.2h1.7v1.7h-1.7zM714.6 608.8h1.7v1.7h-1.7zM713.9 588.6h1.7v1.7h-1.7zM714.4 596.1h1.7v1.7h-1.7zM712.7 603.4h1.7v1.7h-1.7zM714.5 610.7h1.7v1.7h-1.7zM709.8 614.8h1.7v1.7h-1.7zM732.0 594.6h1.7v1.7h-1.7zM725.1 597.7h1.7v1.7h-1.7zM693.1 607.1h1.7v1.7h-1.7zM700.2 605.7h1.7v1.7h-1.7zM705.4 600.3h1.7v1.7h-1.7zM706.7 593.3h1.7v1.7h-1.7zM711.0 587.9h1.7v1.7h-1.7zM717.3 588.5h1.7v1.7h-1.7zM724.3 591.5h1.7v1.7h-1.7zM731.7 591.5h1.7v1.7h-1.7zM730.8 596.1h1.7v1.7h-1.7zM729.6 603.4h1.7v1.7h-1.7zM727.9 610.7h1.7v1.7h-1.7zM681.0 601.6h1.7v1.7h-1.7zM678.8 602.6h1.7v1.7h-1.7zM686.3 602.2h1.7v1.7h-1.7zM664.7 604.2h1.7v1.7h-1.7zM657.5 602.0h1.7v1.7h-1.7zM673.3 601.9h1.7v1.7h-1.7zM666.6 604.7h1.7v1.7h-1.7zM660.3 600.5h1.7v1.7h-1.7zM654.4 596.6h1.7v1.7h-1.7zM671.7 586.0h1.7v1.7h-1.7zM678.2 589.7h1.7v1.7h-1.7zM657.7 584.1h1.7v1.7h-1.7zM664.3 585.5h1.7v1.7h-1.7zM671.7 586.0h1.7v1.7h-1.7zM678.9 583.8h1.7v1.7h-1.7zM647.9 594.3h1.7v1.7h-1.7zM653.7 598.5h1.7v1.7h-1.7zM649.9 600.7h1.7v1.7h-1.7zM645.1 606.5h1.7v1.7h-1.7zM683.8 608.0h1.7v1.7h-1.7zM683.5 600.7h1.7v1.7h-1.7zM676.8 597.4h1.7v1.7h-1.7zM669.6 599.5h1.7v1.7h-1.7zM663.3 595.8h1.7v1.7h-1.7zM657.4 591.2h1.7v1.7h-1.7zM652.9 585.2h1.7v1.7h-1.7zM647.4 587.1h1.7v1.7h-1.7zM647.9 594.3h1.7v1.7h-1.7zM654.2 597.8h1.7v1.7h-1.7zM661.2 595.5h1.7v1.7h-1.7zM673.0 591.1h1.7v1.7h-1.7zM671.3 584.3h1.7v1.7h-1.7zM688.0 600.5h1.7v1.7h-1.7zM683.7 594.5h1.7v1.7h-1.7zM676.6 591.9h1.7v1.7h-1.7zM671.1 596.2h1.7v1.7h-1.7zM670.8 603.6h1.7v1.7h-1.7zM691.0 593.5h1.7v1.7h-1.7zM692.5 586.2h1.7v1.7h-1.7zM689.2 585.1h1.7v1.7h-1.7zM682.5 605.0h1.7v1.7h-1.7zM688.0 600.5h1.7v1.7h-1.7zM690.6 593.4h1.7v1.7h-1.7zM691.5 585.9h1.7v1.7h-1.7zM696.9 587.2h1.7v1.7h-1.7zM697.8 594.6h1.7v1.7h-1.7zM694.8 601.2h1.7v1.7h-1.7zM689.4 606.3h1.7v1.7h-1.7zM683.6 586.4h1.7v1.7h-1.7zM676.8 583.2h1.7v1.7h-1.7zM683.9 595.4h1.7v1.7h-1.7zM684.4 588.1h1.7v1.7h-1.7zM680.1 583.7h1.7v1.7h-1.7zM672.6 584.1h1.7v1.7h-1.7zM685.9 586.7h1.7v1.7h-1.7zM687.3 593.6h1.7v1.7h-1.7zM688.7 588.2h1.7v1.7h-1.7zM688.5 584.4h1.7v1.7h-1.7zM693.6 589.7h1.7v1.7h-1.7zM679.6 587.3h1.7v1.7h-1.7zM685.0 584.7h1.7v1.7h-1.7zM692.2 584.6h1.7v1.7h-1.7zM698.1 588.5h1.7v1.7h-1.7zM705.1 589.9h1.7v1.7h-1.7zM679.7 589.5h1.7v1.7h-1.7zM672.9 586.5h1.7v1.7h-1.7zM689.8 583.5h1.7v1.7h-1.7zM685.2 589.2h1.7v1.7h-1.7zM677.8 591.0h1.7v1.7h-1.7zM670.7 593.0h1.7v1.7h-1.7zM663.3 592.0h1.7v1.7h-1.7zM670.7 591.1h1.7v1.7h-1.7zM668.4 598.3h1.7v1.7h-1.7zM674.1 584.3h1.7v1.7h-1.7zM676.3 608.9h1.7v1.7h-1.7zM677.9 601.7h1.7v1.7h-1.7zM678.8 594.2h1.7v1.7h-1.7zM677.8 587.0h1.7v1.7h-1.7zM681.5 583.7h1.7v1.7h-1.7zM687.5 587.6h1.7v1.7h-1.7zM692.9 583.2h1.7v1.7h-1.7zM690.4 588.4h1.7v1.7h-1.7zM683.0 589.7h1.7v1.7h-1.7zM675.6 590.8h1.7v1.7h-1.7zM668.6 588.2h1.7v1.7h-1.7zM665.3 594.6h1.7v1.7h-1.7zM685.2 590.7h1.7v1.7h-1.7zM682.2 584.0h1.7v1.7h-1.7zM675.4 585.3h1.7v1.7h-1.7zM675.2 584.2h1.7v1.7h-1.7zM676.1 591.6h1.7v1.7h-1.7zM681.6 596.7h1.7v1.7h-1.7zM677.6 598.7h1.7v1.7h-1.7zM685.1 599.2h1.7v1.7h-1.7zM677.1 587.1h1.7v1.7h-1.7zM676.7 594.3h1.7v1.7h-1.7zM674.3 601.2h1.7v1.7h-1.7zM672.3 608.2h1.7v1.7h-1.7zM665.5 607.6h1.7v1.7h-1.7zM667.3 601.2h1.7v1.7h-1.7zM662.3 591.6h1.7v1.7h-1.7zM666.8 595.0h1.7v1.7h-1.7zM659.5 596.8h1.7v1.7h-1.7zM652.3 598.7h1.7v1.7h-1.7zM657.9 603.5h1.7v1.7h-1.7zM658.6 610.6h1.7v1.7h-1.7zM651.8 604.4h1.7v1.7h-1.7zM645.1 601.2h1.7v1.7h-1.7zM656.9 605.1h1.7v1.7h-1.7zM652.2 610.5h1.7v1.7h-1.7zM644.8 609.4h1.7v1.7h-1.7zM642.9 602.9h1.7v1.7h-1.7zM691.2 602.3h1.7v1.7h-1.7zM688.2 595.4h1.7v1.7h-1.7zM683.9 589.4h1.7v1.7h-1.7zM678.9 583.7h1.7v1.7h-1.7zM676.3 588.9h1.7v1.7h-1.7zM670.2 593.4h1.7v1.7h-1.7zM663.9 597.6h1.7v1.7h-1.7zM657.0 599.1h1.7v1.7h-1.7zM649.8 601.1h1.7v1.7h-1.7zM642.3 602.0h1.7v1.7h-1.7zM635.5 599.7h1.7v1.7h-1.7zM628.1 601.0h1.7v1.7h-1.7zM694.4 592.5h1.7v1.7h-1.7zM699.6 588.2h1.7v1.7h-1.7zM690.4 588.7h1.7v1.7h-1.7zM689.8 602.3h1.7v1.7h-1.7zM692.1 595.4h1.7v1.7h-1.7zM695.3 588.8h1.7v1.7h-1.7zM693.0 584.3h1.7v1.7h-1.7zM687.8 589.7h1.7v1.7h-1.7zM681.0 586.5h1.7v1.7h-1.7zM673.5 595.0h1.7v1.7h-1.7zM672.6 587.5h1.7v1.7h-1.7zM672.9 582.6h1.7v1.7h-1.7zM676.4 589.1h1.7v1.7h-1.7zM674.9 596.3h1.7v1.7h-1.7zM673.2 603.5h1.7v1.7h-1.7zM669.2 590.4h1.7v1.7h-1.7zM663.2 584.7h1.7v1.7h-1.7zM669.3 587.6h1.7v1.7h-1.7zM670.0 594.5h1.7v1.7h-1.7zM668.3 601.7h1.7v1.7h-1.7zM638.9 586.4h1.7v1.7h-1.7zM684.9 601.2h1.7v1.7h-1.7zM677.8 601.6h1.7v1.7h-1.7zM670.9 598.7h1.7v1.7h-1.7zM670.4 591.4h1.7v1.7h-1.7zM667.1 584.5h1.7v1.7h-1.7zM659.6 583.7h1.7v1.7h-1.7zM659.3 588.7h1.7v1.7h-1.7zM653.3 592.9h1.7v1.7h-1.7zM646.2 593.6h1.7v1.7h-1.7zM639.9 590.0h1.7v1.7h-1.7zM635.9 590.1h1.7v1.7h-1.7zM683.2 607.1h1.7v1.7h-1.7zM686.3 608.1h1.7v1.7h-1.7zM688.6 603.3h1.7v1.7h-1.7zM689.2 617.7h1.7v1.7h-1.7zM686.1 613.6h1.7v1.7h-1.7zM686.8 606.3h1.7v1.7h-1.7zM689.9 599.7h1.7v1.7h-1.7zM711.9 610.2h1.7v1.7h-1.7zM719.4 609.4h1.7v1.7h-1.7zM713.9 611.0h1.7v1.7h-1.7zM715.0 610.5h1.7v1.7h-1.7zM687.9 610.8h1.7v1.7h-1.7zM694.0 614.9h1.7v1.7h-1.7zM700.5 616.0h1.7v1.7h-1.7zM707.0 612.8h1.7v1.7h-1.7zM713.9 611.0h1.7v1.7h-1.7zM721.2 609.3h1.7v1.7h-1.7zM725.9 603.7h1.7v1.7h-1.7zM679.4 596.7h1.7v1.7h-1.7zM671.9 597.1h1.7v1.7h-1.7zM665.3 600.2h1.7v1.7h-1.7zM684.5 594.5h1.7v1.7h-1.7zM677.5 593.5h1.7v1.7h-1.7zM671.0 596.8h1.7v1.7h-1.7zM663.9 599.5h1.7v1.7h-1.7zM656.5 600.9h1.7v1.7h-1.7zM695.4 598.8h1.7v1.7h-1.7zM697.4 602.9h1.7v1.7h-1.7zM702.2 608.5h1.7v1.7h-1.7zM685.7 601.2h1.7v1.7h-1.7zM692.1 603.9h1.7v1.7h-1.7zM699.0 601.8h1.7v1.7h-1.7zM705.0 597.3h1.7v1.7h-1.7zM699.6 600.8h1.7v1.7h-1.7zM706.5 602.7h1.7v1.7h-1.7zM713.9 603.8h1.7v1.7h-1.7zM701.1 603.2h1.7v1.7h-1.7zM707.8 599.9h1.7v1.7h-1.7zM702.9 606.1h1.7v1.7h-1.7zM710.1 605.3h1.7v1.7h-1.7zM703.5 610.2h1.7v1.7h-1.7zM701.3 617.1h1.7v1.7h-1.7zM707.8 607.9h1.7v1.7h-1.7zM714.7 605.9h1.7v1.7h-1.7zM699.8 598.0h1.7v1.7h-1.7zM702.9 604.7h1.7v1.7h-1.7zM705.2 611.9h1.7v1.7h-1.7zM708.9 613.3h1.7v1.7h-1.7zM707.8 613.0h1.7v1.7h-1.7zM710.4 612.9h1.7v1.7h-1.7zM704.7 614.1h1.7v1.7h-1.7zM707.9 614.6h1.7v1.7h-1.7zM702.2 611.9h1.7v1.7h-1.7zM695.8 608.0h1.7v1.7h-1.7zM695.2 608.7h1.7v1.7h-1.7zM674.0 603.8h1.7v1.7h-1.7zM679.6 598.6h1.7v1.7h-1.7zM686.2 595.3h1.7v1.7h-1.7zM693.5 594.2h1.7v1.7h-1.7zM699.8 598.0h1.7v1.7h-1.7zM706.5 601.3h1.7v1.7h-1.7zM710.2 607.2h1.7v1.7h-1.7zM713.2 614.0h1.7v1.7h-1.7zM705.7 614.2h1.7v1.7h-1.7zM698.9 612.9h1.7v1.7h-1.7zM693.1 607.9h1.7v1.7h-1.7zM717.2 605.8h1.7v1.7h-1.7zM723.4 601.5h1.7v1.7h-1.7zM728.0 605.6h1.7v1.7h-1.7zM700.8 608.1h1.7v1.7h-1.7zM708.2 606.4h1.7v1.7h-1.7zM715.7 607.0h1.7v1.7h-1.7zM722.7 604.9h1.7v1.7h-1.7zM729.8 602.8h1.7v1.7h-1.7zM682.9 611.9h1.7v1.7h-1.7zM686.4 607.4h1.7v1.7h-1.7zM685.3 610.7h1.7v1.7h-1.7zM683.5 609.6h1.7v1.7h-1.7zM681.3 612.4h1.7v1.7h-1.7zM687.4 609.7h1.7v1.7h-1.7zM693.0 606.5h1.7v1.7h-1.7zM661.0 602.9h1.7v1.7h-1.7zM656.6 600.9h1.7v1.7h-1.7zM661.5 597.0h1.7v1.7h-1.7zM662.1 591.5h1.7v1.7h-1.7zM694.7 595.8h1.7v1.7h-1.7zM694.5 599.8h1.7v1.7h-1.7zM698.5 603.5h1.7v1.7h-1.7zM693.2 602.3h1.7v1.7h-1.7zM690.9 603.3h1.7v1.7h-1.7zM693.9 597.4h1.7v1.7h-1.7zM696.6 597.0h1.7v1.7h-1.7zM694.7 601.6h1.7v1.7h-1.7zM690.9 607.2h1.7v1.7h-1.7zM666.9 606.8h1.7v1.7h-1.7zM672.0 602.8h1.7v1.7h-1.7zM663.7 608.0h1.7v1.7h-1.7zM669.3 604.8h1.7v1.7h-1.7zM676.0 605.3h1.7v1.7h-1.7zM668.9 593.3h1.7v1.7h-1.7zM674.0 589.2h1.7v1.7h-1.7zM667.1 597.8h1.7v1.7h-1.7zM665.1 592.5h1.7v1.7h-1.7zM658.9 591.9h1.7v1.7h-1.7zM655.1 596.7h1.7v1.7h-1.7zM659.1 594.6h1.7v1.7h-1.7zM653.3 597.2h1.7v1.7h-1.7zM650.8 601.7h1.7v1.7h-1.7zM692.8 598.1h1.7v1.7h-1.7zM690.0 601.6h1.7v1.7h-1.7zM683.4 601.4h1.7v1.7h-1.7zM687.5 601.1h1.7v1.7h-1.7zM681.9 598.6h1.7v1.7h-1.7zM692.5 593.6h1.7v1.7h-1.7zM691.3 597.7h1.7v1.7h-1.7zM686.1 602.1h1.7v1.7h-1.7zM679.9 604.3h1.7v1.7h-1.7zM680.3 609.4h1.7v1.7h-1.7zM688.1 602.0h1.7v1.7h-1.7zM693.2 606.2h1.7v1.7h-1.7zM692.9 605.4h1.7v1.7h-1.7zM656.8 609.0h1.7v1.7h-1.7zM660.5 607.8h1.7v1.7h-1.7zM658.5 609.2h1.7v1.7h-1.7zM663.1 609.6h1.7v1.7h-1.7zM663.7 607.5h1.7v1.7h-1.7zM657.6 604.7h1.7v1.7h-1.7zM651.0 605.9h1.7v1.7h-1.7zM656.9 608.6h1.7v1.7h-1.7zM662.5 606.3h1.7v1.7h-1.7zM667.2 601.6h1.7v1.7h-1.7zM650.3 561.0h1.7v1.7h-1.7zM648.7 563.8h1.7v1.7h-1.7zM661.6 574.9h1.7v1.7h-1.7zM659.2 572.8h1.7v1.7h-1.7zM656.5 569.7h1.7v1.7h-1.7zM654.9 567.8h1.7v1.7h-1.7zM652.5 564.6h1.7v1.7h-1.7zM650.8 560.7h1.7v1.7h-1.7zM649.1 557.5h1.7v1.7h-1.7zM648.0 553.8h1.7v1.7h-1.7zM648.6 550.3h1.7v1.7h-1.7zM646.9 545.8h1.7v1.7h-1.7zM646.9 541.9h1.7v1.7h-1.7zM646.1 539.0h1.7v1.7h-1.7zM645.4 534.5h1.7v1.7h-1.7zM643.9 531.3h1.7v1.7h-1.7zM645.6 527.4h1.7v1.7h-1.7zM643.8 523.5h1.7v1.7h-1.7zM643.3 518.1h1.7v1.7h-1.7zM671.6 555.8h1.7v1.7h-1.7zM677.5 582.8h1.7v1.7h-1.7zM679.1 578.5h1.7v1.7h-1.7zM677.7 575.5h1.7v1.7h-1.7zM676.8 571.8h1.7v1.7h-1.7zM676.5 568.1h1.7v1.7h-1.7zM674.6 563.9h1.7v1.7h-1.7zM672.7 560.7h1.7v1.7h-1.7zM671.1 557.3h1.7v1.7h-1.7zM669.1 553.8h1.7v1.7h-1.7zM667.3 549.6h1.7v1.7h-1.7zM702.8 584.2h1.7v1.7h-1.7zM702.4 581.1h1.7v1.7h-1.7zM701.9 578.0h1.7v1.7h-1.7zM699.8 556.2h1.7v1.7h-1.7zM700.5 553.1h1.7v1.7h-1.7zM702.9 551.0h1.7v1.7h-1.7zM703.1 587.1h1.7v1.7h-1.7zM703.0 582.8h1.7v1.7h-1.7zM703.0 579.1h1.7v1.7h-1.7zM702.6 576.3h1.7v1.7h-1.7zM702.8 571.8h1.7v1.7h-1.7zM702.2 568.9h1.7v1.7h-1.7zM701.5 565.2h1.7v1.7h-1.7zM700.4 561.3h1.7v1.7h-1.7zM699.6 557.4h1.7v1.7h-1.7zM698.7 554.5h1.7v1.7h-1.7zM632.9 599.9h1.7v1.7h-1.7zM634.3 597.3h1.7v1.7h-1.7zM630.8 601.8h1.7v1.7h-1.7zM633.7 600.4h1.7v1.7h-1.7zM659.1 602.1h1.7v1.7h-1.7zM655.1 601.6h1.7v1.7h-1.7zM651.9 601.5h1.7v1.7h-1.7zM648.2 601.0h1.7v1.7h-1.7zM644.7 600.8h1.7v1.7h-1.7zM640.2 600.3h1.7v1.7h-1.7zM637.5 600.6h1.7v1.7h-1.7zM633.9 601.5h1.7v1.7h-1.7zM629.2 601.8h1.7v1.7h-1.7zM626.3 602.0h1.7v1.7h-1.7zM623.9 602.9h1.7v1.7h-1.7zM619.0 602.4h1.7v1.7h-1.7zM615.3 605.0h1.7v1.7h-1.7zM611.6 606.0h1.7v1.7h-1.7zM609.1 606.5h1.7v1.7h-1.7zM605.0 608.1h1.7v1.7h-1.7zM600.7 608.8h1.7v1.7h-1.7zM597.1 609.4h1.7v1.7h-1.7zM594.0 610.8h1.7v1.7h-1.7zM590.6 610.3h1.7v1.7h-1.7zM588.3 606.7h1.7v1.7h-1.7zM638.8 610.1h1.7v1.7h-1.7zM636.1 608.4h1.7v1.7h-1.7zM633.5 606.6h1.7v1.7h-1.7zM625.1 615.3h1.7v1.7h-1.7zM623.3 618.0h1.7v1.7h-1.7zM620.8 619.6h1.7v1.7h-1.7zM619.2 613.5h1.7v1.7h-1.7zM622.1 612.3h1.7v1.7h-1.7zM624.9 610.7h1.7v1.7h-1.7zM646.6 608.9h1.7v1.7h-1.7zM642.9 610.6h1.7v1.7h-1.7zM640.0 611.2h1.7v1.7h-1.7zM637.1 611.8h1.7v1.7h-1.7zM634.0 612.2h1.7v1.7h-1.7zM630.2 613.5h1.7v1.7h-1.7zM625.5 613.8h1.7v1.7h-1.7zM621.8 614.0h1.7v1.7h-1.7zM617.6 613.4h1.7v1.7h-1.7zM613.8 613.3h1.7v1.7h-1.7zM609.7 613.5h1.7v1.7h-1.7zM708.3 599.4h1.7v1.7h-1.7zM727.5 597.2h1.7v1.7h-1.7zM725.4 594.8h1.7v1.7h-1.7zM722.5 594.3h1.7v1.7h-1.7zM739.6 601.5h1.7v1.7h-1.7zM739.7 598.3h1.7v1.7h-1.7zM704.1 599.1h1.7v1.7h-1.7zM708.2 597.8h1.7v1.7h-1.7zM712.0 598.4h1.7v1.7h-1.7zM715.7 597.7h1.7v1.7h-1.7zM718.8 596.7h1.7v1.7h-1.7zM723.6 597.7h1.7v1.7h-1.7zM726.7 598.2h1.7v1.7h-1.7zM730.0 598.7h1.7v1.7h-1.7zM733.4 598.7h1.7v1.7h-1.7zM736.6 601.3h1.7v1.7h-1.7zM740.4 602.9h1.7v1.7h-1.7zM743.1 606.4h1.7v1.7h-1.7zM701.1 605.2h1.7v1.7h-1.7zM705.3 607.0h1.7v1.7h-1.7zM708.6 607.2h1.7v1.7h-1.7zM711.6 608.2h1.7v1.7h-1.7zM715.9 609.2h1.7v1.7h-1.7zM719.9 609.9h1.7v1.7h-1.7zM724.3 609.8h1.7v1.7h-1.7zM727.8 610.2h1.7v1.7h-1.7zM686.7 617.4h1.7v1.7h-1.7zM684.2 615.5h1.7v1.7h-1.7zM682.4 612.9h1.7v1.7h-1.7zM689.1 612.6h1.7v1.7h-1.7zM688.2 616.5h1.7v1.7h-1.7zM687.6 621.4h1.7v1.7h-1.7zM687.0 623.7h1.7v1.7h-1.7zM686.9 628.7h1.7v1.7h-1.7zM685.9 632.6h1.7v1.7h-1.7zM684.7 636.5h1.7v1.7h-1.7zM684.1 641.2h1.7v1.7h-1.7zM683.5 643.4h1.7v1.7h-1.7zM683.1 648.6h1.7v1.7h-1.7z" fill="#1eaab0"/>
<path d="M702 476C701.67 479.17 700.5 488.5 700 495C699.5 501.5 699 509.17 699 515C699 520.83 700.5 524.17 700 530C699.5 535.83 697 544.17 696 550C695 555.83 694.17 560.33 694 565C693.83 569.67 694.83 575.83 695 578" fill="none" stroke="#e018e6" stroke-width="6.5" stroke-linecap="round"/>
<circle cx="691.7" cy="608" r="2" fill="#222"/>
<path d="M687.4 822.2L687.7 820.5 687.5 818.8 687.5 817.2 688.0 815.6 688.0 812.8 687.6 810.8 688.3 809.8 687.5 806.6 688.2 806.2 688.7 804.2 688.6 801.5 688.2 800.3 688.2 798.2 687.9 796.3 688.3 793.6 688.4 792.1M688.1 792.3L686.0 792.2 684.2 792.2 681.3 792.2 679.3 790.9 677.8 791.4 674.7 790.9 673.5 791.6 671.9 791.3 671.0 792.3 667.6 792.3 666.0 790.4 665.1 789.0 663.9 787.9 661.8 786.9 660.8 786.0 659.3 784.6 656.9 782.7 655.8 780.9 654.5 779.5 654.2 777.4 652.9 776.3 651.8 774.0 650.7 773.3 650.1 771.9 647.3 770.5 646.3 769.7 645.0 768.6 643.2 767.9 641.4 767.4 639.2 766.7 635.7 765.9 634.3 765.2M633.9 765.2L631.8 765.0 630.7 763.3 629.3 762.2 627.0 761.6 627.1 760.4 625.6 757.3 624.9 757.5 622.2 755.5 620.7 754.3 620.2 753.4 618.1 752.0 616.3 750.5 617.5 747.9 616.1 746.7 614.8 744.1 614.5 742.5 614.2 740.9M633.9 765.2L631.4 763.5 630.8 763.7 628.9 763.0 626.1 761.8 624.9 761.2 623.6 760.3 621.6 759.6 618.9 760.1 617.6 759.3 615.5 758.9 613.3 758.9 611.7 758.9 609.4 758.1 606.9 758.2 605.0 758.3 602.4 757.2 601.2 757.6 599.7 756.7 597.1 757.4 595.8 757.5 594.0 756.1 592.6 754.5 590.6 754.3 588.3 753.4 586.5 754.2 583.8 753.9 582.4 755.0 580.7 754.3 578.9 753.9 576.5 752.3 574.5 752.4 573.3 750.7 570.6 751.1 569.2 752.7 567.1 753.9M654.9 780.8L653.6 780.1 651.6 779.8 649.5 778.3 647.9 778.2 645.5 777.5 642.9 777.2 640.5 776.4 639.4 775.8 637.8 775.6 636.5 775.4 634.5 774.1 632.0 773.4 629.1 774.4 627.4 773.5 626.0 772.0 624.1 772.5 621.6 773.2 620.1 771.7 619.0 772.2 616.4 771.5 613.3 770.5 612.1 771.4 610.3 770.7 609.0 771.3 606.8 771.8 605.2 771.9 603.2 771.3 600.8 771.8 598.9 771.5 596.8 771.8 594.0 770.8 592.8 771.9 590.5 770.6 588.6 770.4 588.4 770.1 585.6 769.1 582.5 769.1 581.6 768.7 579.2 769.1 577.1 768.8 575.9 769.2 574.0 767.6 571.3 767.9 569.2 767.4 568.6 768.1M633.9 765.2L635.0 762.9 635.2 760.9 637.5 759.8 639.2 757.1 639.6 756.2 641.9 756.1 644.2 755.1 646.0 756.1 648.1 755.9 651.4 755.4 652.7 756.3 653.6 756.9 657.3 755.2 659.4 755.3 661.4 754.9 662.9 754.0 664.4 753.6 666.4 752.7 668.7 752.0 671.2 751.9 672.7 752.6 674.3 751.8 676.3 752.5M679.3 789.6L679.4 788.1 680.4 784.1 680.8 782.4 681.9 782.0 682.9 780.0 683.1 778.3 683.8 776.7 685.9 775.2 685.8 772.9 687.4 771.7 688.8 769.5 690.9 768.7 692.4 768.3 694.2 768.5 696.2 768.1 696.8 766.6 701.1 766.8M682.0 779.5L683.8 779.1 685.5 780.3 687.1 779.6 689.7 779.1 692.5 779.6 693.5 779.0 695.4 779.3 696.5 779.8 699.7 779.6 702.3 780.7 704.7 780.7 705.5 782.0 707.6 781.9 708.6 783.7 711.6 783.5 712.8 784.8 715.1 784.9 717.0 785.3 718.9 785.6 722.1 785.8 722.7 785.0 725.6 785.4 727.8 785.4 729.2 785.5 732.0 786.5 734.9 786.7 736.3 788.0 737.7 787.7 740.1 789.1 741.8 789.6 743.7 789.7 745.5 790.9 748.0 791.6 750.7 791.4 751.8 792.6 754.3 792.2 757.2 792.8 759.9 792.6 761.0 790.7 764.1 791.0 765.3 790.9 766.4 789.6 768.5 789.3 770.4 788.6 772.6 788.3 774.4 786.7 776.0 786.0 778.6 784.9 780.5 784.9 782.4 783.3 784.2 783.8 785.0 783.6 788.6 783.3 789.5 783.7 791.2 783.6M782.3 783.5L779.9 782.8 779.3 782.5 776.8 781.1 774.5 780.1 773.5 779.1 771.8 778.2 770.4 776.8 768.3 776.7 767.2 775.8 764.8 776.6 764.3 775.2 761.1 775.0 759.5 773.1 758.0 773.3 757.2 772.1 753.7 771.4 752.1 771.5 750.2 771.7 749.0 770.3 746.9 769.0M730.8 785.6L731.2 783.9 731.6 781.9 732.3 779.0 732.2 777.9 734.4 775.1 736.6 773.7M732.1 777.4L729.6 775.1 727.5 775.2 726.1 774.3 724.6 772.0 723.3 771.6M717.2 785.6L714.8 786.7 712.9 786.6 711.8 787.8 710.3 788.6 708.5 789.4 706.1 789.0 706.0 790.6 703.8 792.9 702.2 795.9 700.9 798.2 699.6 798.9 697.4 800.5 695.1 800.3 695.0 802.4 693.2 803.8 692.3 806.4 692.8 809.4 692.3 811.1 692.4 812.9M607.4 747.6L609.0 748.7 610.1 751.3 611.7 753.9 613.3 754.3 612.6 755.4 614.0 758.0 614.1 758.9M688.1 769.3L688.6 771.3 688.1 773.0 688.6 774.9 690.0 777.2 690.5 778.2M640.0 755.7L642.1 752.4M686.0 800.0L687.5 798.7 689.0 797.3 690.4 795.9 691.5 794.2 692.7 792.7 694.2 791.4 696.1 790.6 697.7 789.4 699.4 788.4 701.3 787.6 702.9 786.4 703.7 784.6M672.7 910.1L674.5 910.7 675.7 912.2 676.9 913.7 678.0 915.2 679.0 916.8 680.0 918.5 681.5 919.6 683.0 920.7 684.6 921.8 686.0 923.1 687.6 924.2 689.1 925.3 690.7 926.4 691.0 924.5 691.1 922.6 690.3 920.9 690.5 919.0 691.8 917.5 693.3 916.3 695.1 916.1 697.0 916.2 698.5 917.4 699.8 918.8 701.1 920.1 702.7 921.1 704.3 920.0 705.6 918.6 706.8 917.2 708.2 915.9 708.7 914.1 709.6 912.4 708.0 913.3 706.1 913.0M678.4 910.6L676.6 911.3 675.0 912.3 673.3 913.2 671.4 913.1 669.7 913.9 667.8 914.2 665.9 914.4 664.1 914.9 662.2 914.6 660.3 914.3 658.4 914.6 656.5 914.5 654.6 914.7 652.9 915.4 651.0 915.6 649.5 914.4 647.8 913.5 646.9 911.9 645.8 910.3 644.4 909.0 642.8 908.0 641.5 906.6 640.4 905.1 638.9 903.9 637.5 902.6 636.5 901.0 634.6 901.3 634.0 903.1 632.7 904.5 631.5 906.0 630.1 907.3 628.5 908.3M677.2 908.7L678.1 907.0 678.9 905.3 679.3 903.4 679.8 901.6 679.9 899.7 679.7 897.8 679.5 895.9 681.4 895.8 683.3 895.7 683.3 897.6 683.7 899.4 684.4 901.2 685.5 902.7 686.8 904.1 688.6 904.6 690.5 904.7 692.2 905.5 693.9 906.4M678.1 908.6L676.5 909.6 674.7 910.1 672.9 910.7 671.0 911.1 669.4 912.0 667.8 913.1 666.1 914.0 664.3 914.6 662.5 914.3 660.6 913.9 658.8 914.4 657.2 915.4 655.5 916.4 653.7 916.9 651.9 917.5 650.0 917.9 648.2 917.7 646.3 917.5 644.4 917.1 642.5 917.3 640.6 917.7 638.8 918.2 637.4 919.5 635.7 920.3 634.0 921.2 632.8 919.8 631.6 918.3 629.8 917.7M671.2 914.7L673.0 915.0 674.9 915.2 676.8 915.0 678.7 914.6 680.3 915.6 682.2 916.1 683.9 916.8 685.5 917.8 686.9 919.1 688.2 920.5 689.7 921.7 691.1 922.9 692.5 924.3 693.4 925.9 691.5 926.3 689.6 926.1 687.7 926.0 685.8 925.9 683.9 925.8 682.3 926.9 681.3 928.5 683.1 928.1 684.9 927.4 686.8 927.5 688.7 927.4 690.5 926.8 692.3 926.3 694.0 925.5 695.5 924.3 696.7 922.8 697.6 921.2 698.3 919.4 698.7 917.5 698.7 915.6 698.9 913.7M678.7 908.9L680.1 907.6 681.0 905.9 681.4 904.0 682.5 902.5 683.9 901.2 685.1 899.7 686.7 898.6 687.7 897.0 688.0 898.9 686.9 900.5 685.8 902.0 685.2 903.8 685.8 905.7 686.5 907.4 687.2 909.2 687.9 911.0 688.5 912.8 689.4 914.4 691.2 915.0 693.0 914.4 694.9 914.3 696.8 913.9 698.7 914.0 700.6 914.0 702.5 914.1 704.4 914.1 706.2 914.6 708.1 915.1 706.4 916.0 704.5 915.5 702.6 915.6 700.8 915.9 698.9 915.6 697.1 915.0 695.2 914.7M668.3 905.9L670.1 905.1 671.8 904.3 673.1 902.9 673.7 901.1 674.7 899.5 675.4 897.7 676.6 896.2 677.2 894.4 675.6 895.5 674.5 897.0 673.6 898.7 672.4 900.1 671.1 901.6 669.5 902.5 668.2 903.9 667.0 905.4 665.6 906.6 664.4 908.1 663.1 909.5 662.2 911.2 661.3 912.8 659.5 913.4 657.6 913.3 655.8 912.7 653.9 912.5 652.8 911.0 652.0 909.2M672.3 908.7L673.9 907.6 675.7 907.0 677.6 906.6 679.4 906.0 681.1 905.3 682.3 903.8 683.2 902.1 684.0 900.4 685.3 899.0 687.2 898.8 689.1 898.7 690.9 899.3 692.8 899.7 694.6 900.2 696.2 901.3 697.0 903.0 698.0 904.6 699.4 905.9 700.8 907.1 702.1 908.5 703.8 909.4 705.6 910.1 707.2 911.2 709.1 911.2 709.1 909.3 708.3 907.6 706.5 907.5 704.6 907.3M665.1 915.0L664.2 913.3 662.9 911.9 661.5 910.6 660.0 909.5 658.4 908.5 657.0 907.2 655.9 905.6 655.3 903.8 655.0 901.9 655.0 900.0 654.4 898.2 653.5 896.6 655.3 897.1 657.1 896.5 659.0 896.7 660.9 897.0 662.8 896.9 664.7 897.0 666.6 897.0 668.5 896.9 670.2 896.2 672.1 895.7 673.9 895.1 675.8 894.9 677.6 895.2 679.3 896.1 681.2 896.2 683.1 896.5 685.0 896.2 686.9 896.0 688.7 896.4 690.5 897.0 689.8 898.8M649.3 912.6L649.3 910.8 649.8 909.0 650.9 907.6 652.0 906.2 652.7 904.5 652.6 902.7 652.1 901.0 652.5 899.2 653.1 897.5 654.8 897.0 656.5 896.5 657.4 895.0 659.1 894.4 658.4 896.1M673.0 917.4L671.6 918.6 670.1 919.5 668.4 920.2 666.7 919.5 665.1 918.7 663.3 918.4 662.5 916.8 661.6 915.2 662.0 913.5 661.6 911.7 661.0 910.0 660.3 908.3 659.3 906.9 658.4 905.3 657.1 904.1 655.8 902.8 654.5 901.6 653.9 899.9 653.9 898.1 655.0 896.7 655.9 895.2 655.5 896.9M693.2 917.8L694.9 918.2 696.5 919.1 698.2 918.6 699.0 916.9 698.8 915.2 697.6 913.8 696.9 912.2 696.3 910.5 696.4 908.7 695.0 907.5 693.6 906.3 693.6 904.5M651.8 903.7L653.2 902.5 654.9 902.0 656.5 902.8 657.0 904.6 657.7 906.2 658.8 907.7 659.3 909.4 660.3 910.8 660.1 912.6 659.9 914.4 660.8 916.0 662.1 917.2 663.2 918.7 665.0 918.7M677.9 905.1L679.5 905.9 681.3 905.9 683.1 905.4 684.5 904.3 686.1 903.6 687.9 903.4 689.4 902.3 690.7 901.1 692.1 900.0 691.9 898.2 690.2 898.8 688.6 899.6 687.2 900.7 687.0 902.5 687.6 904.2 687.5 906.0 686.9 907.7M684.6 907.3L686.3 906.5 687.9 905.8 689.1 904.4 689.8 902.8 689.4 901.1 687.8 900.1 687.3 898.4 687.4 896.6 688.6 898.0 689.2 899.7 689.9 901.4 690.7 903.0 691.0 904.7 691.9 906.3 693.7 906.1 695.5 906.5 697.3 906.5M683.3 906.6L684.1 905.0 684.3 903.2 683.9 901.5 684.0 899.7 684.1 897.9 683.5 896.2 682.3 897.5 681.2 898.9 680.7 900.6 681.2 902.4 682.0 904.0 683.8 903.8M690.6 900.6L688.8 900.9 687.1 900.2 685.6 901.1 683.8 901.6 682.2 902.3 680.9 903.6 679.2 904.1 677.4 903.8 675.9 902.9 674.6 901.6 675.2 899.9 676.2 898.4 677.9 897.6 678.9 896.2 680.6 895.6 682.4 895.9M656.5 913.1L658.1 912.2 659.9 912.2 661.6 912.5 662.9 913.8 664.4 914.8 665.5 916.2 666.8 917.5 667.5 919.1 667.8 920.9 668.2 922.7 668.5 924.4 669.7 925.7 671.0 927.0 671.4 928.8M657.6 920.6L659.1 921.7 660.6 922.6 661.8 924.0 662.6 925.6 662.7 927.4 663.1 929.2 661.3 928.8 660.1 927.4 658.3 927.2 656.6 926.6 654.9 927.2M680.0 898.0L681.7 898.7 684.1 899.2 685.0 900.2 687.2 900.1 688.8 900.6 690.9 902.5 691.7 903.1 694.2 903.6 695.2 902.1 697.2 900.8 697.2 898.8 698.3 897.2 700.0 895.0 701.2 894.4 701.9 892.5 702.6 890.3 703.6 889.1 705.5 889.1 707.3 887.8 708.2 887.9 710.8 887.4 712.1 886.6 714.2 885.7 715.9 886.2 717.3 885.3 719.9 885.1 721.1 885.7 723.8 885.7 726.6 884.8 727.4 884.6 729.5 885.9 732.2 885.9M682.0 904.0L683.6 905.2 686.3 906.0 688.5 904.7 690.1 905.9 692.7 905.6 693.6 906.1 695.8 906.2 698.5 906.0 699.9 904.3 702.4 904.5 704.5 904.9 705.8 905.3 708.0 903.5 709.2 904.3 712.7 904.0 714.1 904.0 715.5 903.5 717.2 902.7 718.5 902.4 721.0 903.3 722.9 904.6 724.5 904.2 726.5 904.4 728.1 904.8 729.9 905.6 731.8 905.4 733.7 905.7 736.8 907.2 738.0 907.3 739.1 908.0 742.0 909.4 743.0 909.9 745.4 910.7 747.2 912.4 748.1 913.6 749.7 915.1 750.8 916.6 751.9 919.5M686.0 910.0L688.2 910.4 690.6 910.2 691.8 911.9 693.9 911.8 694.9 911.2 697.6 912.1 698.3 912.8 700.5 914.2 701.8 915.2 704.3 915.6 704.9 916.2 706.1 916.7 708.7 919.4 709.7 920.2 711.1 920.9 712.6 921.0 714.4 922.0 716.3 923.1 717.4 924.2 718.8 925.4 720.6 925.9 723.0 926.5 723.2 927.9 725.5 928.7 727.9 929.3 730.2 929.4 731.8 930.7M684.0 915.0L684.8 916.8 687.2 916.8 688.5 918.8 690.5 919.6 692.3 920.2 694.7 921.8 695.1 923.5 697.0 924.8 698.0 926.3 699.7 927.8 700.4 928.7 701.1 930.4 703.3 932.3 703.6 933.7 705.5 935.1 705.6 935.8 706.8 938.1 708.0 938.6 709.4 940.6 710.9 942.2 712.0 943.3 712.8 945.8M662.0 902.0L659.1 901.8 657.2 901.9 654.2 900.8 652.1 901.0 651.0 901.7 650.2 901.1 647.5 900.7 645.9 900.1 644.1 900.8 642.4 899.6 640.5 900.4 638.7 900.1 635.9 900.2M660.0 912.0L658.3 912.5 655.8 913.5 654.7 913.9 652.6 914.1 650.4 914.4 647.7 915.5 645.2 914.8 644.2 913.8 642.8 912.8 640.6 912.9 638.8 911.5 637.1 910.9 635.0 909.7 634.3 909.4 632.2 908.2M662.0 925.0L660.4 926.2 660.7 927.6 660.1 929.5 659.0 931.3 657.7 933.2 656.1 934.7 654.7 935.9 654.4 938.1 653.4 938.8 652.4 941.2 650.0 941.6 649.4 940.2 647.3 942.1 645.7 941.0 643.4 942.0 642.2 942.0 640.7 942.6 637.6 942.4 637.2 943.1 634.7 942.6 632.0 941.8 630.5 942.4 628.0 943.2 627.1 942.6M668.0 918.0L667.5 918.9 667.0 921.6 667.1 923.2 665.9 925.6 664.7 926.4 665.1 928.3 664.3 929.5 663.1 932.1 663.2 934.1 661.9 935.8 661.5 938.2 661.2 938.8 660.5 941.7 660.7 944.2 660.7 945.9M676.0 905.0L676.2 902.7 676.9 901.2 676.6 900.1 676.6 897.1 677.5 895.8 677.8 893.8 677.1 891.6 677.7 890.1 678.9 887.5 679.8 886.4 681.1 883.6 682.4 881.8" fill="none" stroke="#1ae2e8" stroke-width="1.1" stroke-linejoin="round" stroke-dasharray="2.2 0.9"/>
<path d="M594.0 756.1L595.5 755.5 597.1 755.4 598.4 756.3 599.9 756.5 601.5 757.0M583.8 753.9L583.4 752.4 582.0 751.5 581.5 750.0M640.5 776.4L640.1 778.0 640.1 779.6 640.1 781.2 639.8 782.7 641.0 783.8M636.5 775.4L638.1 775.2 639.7 775.1 641.3 775.3M672.7 752.6L674.3 752.8 675.8 753.1 677.4 753.4 678.9 753.9M681.9 782.0L681.1 780.6 681.2 779.0M696.5 779.8L695.2 780.8 693.6 780.9 692.1 781.1M715.1 784.9L713.8 785.8 712.5 786.7 711.4 787.9 710.4 789.1M725.6 785.4L727.2 785.1 728.8 785.3 729.9 784.1 731.2 783.2 731.7 781.7 732.1 780.1M727.8 785.4L726.3 785.0 724.8 784.3 723.3 783.8 722.1 782.7 720.9 781.7M757.2 792.8L758.6 791.9 760.1 791.3M710.3 788.6L710.0 790.2 710.0 791.8 711.3 792.8 711.7 794.4 712.1 795.9M610.1 751.3L611.3 752.3 612.3 753.5 613.0 754.9 613.3 756.5M688.1 773.0L689.4 772.1 690.6 771.0 691.8 769.9 693.0 768.8M685.0 900.2L683.9 899.0 682.5 898.3M707.3 887.8L705.8 888.1 704.9 889.4 703.9 890.7 703.1 892.1M726.6 884.8L726.9 883.3 727.7 881.9 727.8 880.3 727.0 878.9 726.1 877.6M690.1 905.9L688.7 905.3 688.3 903.7 687.9 902.1 687.8 900.6M690.6 910.2L689.3 911.1 687.7 910.9M694.9 911.2L696.1 912.3 697.0 913.6 698.4 914.3 700.0 914.7 701.4 915.5 702.7 916.4M712.8 945.8L714.4 945.5 715.9 944.9 717.5 944.8 719.1 945.0 720.3 946.0M637.1 910.9L637.2 912.5 636.6 914.0M650.0 941.6L648.7 940.8 647.9 939.4 646.7 938.4M632.0 941.8L633.0 940.6 633.7 939.2 634.6 937.8 635.8 936.7 636.7 935.4 636.8 933.8M664.7 926.4L664.8 924.8 665.5 923.3 666.4 922.1 667.7 921.1 669.1 920.3 670.6 919.9M663.1 932.1L661.9 933.2 661.6 934.8 661.0 936.2" fill="none" stroke="#1ae2e8" stroke-width="0.99" stroke-linejoin="round" stroke-dasharray="2.2 0.9"/>
<path d="M688.0 793.0L687.0 805.0 686.0 823.0" fill="none" stroke="#1ae2e8" stroke-width="1.2" stroke-linejoin="round" stroke-dasharray="2.2 0.9"/>
<path d="M682.0 868.0L680.0 880.0 678.0 895.0" fill="none" stroke="#1ae2e8" stroke-width="0.8" stroke-linejoin="round" stroke-dasharray="2.2 0.9"/>
<path d="M695.7 914.3L697.2 913.1 698.1 911.4 698.7 909.6M651.2 913.2L649.4 913.7 647.6 914.3 645.7 914.7 643.8 915.1 642.0 915.4 640.1 915.7 638.2 915.2 636.4 914.8M646.1 912.2L644.3 912.8 642.6 913.6 640.7 914.0 638.9 914.5 637.0 914.4M641.0 914.5L640.8 916.4 639.6 917.9 637.7 918.2M649.5 916.8L647.6 917.0 645.7 916.5 643.9 915.9M646.0 918.3L645.2 920.1 644.2 921.7 643.2 923.3 641.7 924.4M658.4 905.7L658.5 903.8 659.1 902.0 659.4 900.1 659.0 898.3M656.8 904.8L656.4 902.9 655.8 901.1 656.1 899.2 656.8 897.5M686.7 904.0L688.2 905.1 689.9 906.1 691.3 907.4 692.2 909.0M671.9 899.6L671.5 901.5 671.2 903.3 671.7 905.1 672.8 906.8 674.0 908.2 675.1 909.7 676.1 911.4 676.8 913.1 677.7 914.8M697.9 900.5L699.7 901.0 701.6 901.6 700.2 902.9M696.3 899.5L697.4 901.0 699.0 902.2 700.8 902.6 702.5 903.6 704.2 904.4 705.8 905.4" fill="none" stroke="#1ae2e8" stroke-width="0.99" stroke-linejoin="round" stroke-dasharray="2.2 0.9"/>
<path d="M695.1 916.1L695.7 914.3 695.1 912.5 694.9 910.6 694.8 908.7 695.3 906.9 696.1 905.2M701.1 920.1L702.4 921.5 702.0 919.7 702.2 917.8 702.1 915.9M654.6 914.7L652.9 914.0 651.2 913.2 649.8 911.8 647.9 911.8 646.1 912.2 644.2 912.5 642.6 913.5 641.0 914.5 639.4 915.6 637.5 915.9 635.8 916.5 634.1 917.5M651.0 915.6L649.5 916.8 647.7 917.4 646.0 918.3 644.2 919.0 643.1 920.5 641.8 921.9 640.2 923.0 638.4 923.4 638.8 921.5M683.3 895.7L685.1 896.1 687.0 896.3 688.5 897.5 690.3 898.2M672.9 910.7L671.4 911.9 670.2 913.3 669.5 915.1 669.6 917.0 670.1 918.9 670.8 920.6 671.7 922.3 672.8 923.8 674.0 925.3 674.6 927.1 675.4 928.8 677.1 927.9 678.9 927.4 680.8 927.8 682.6 928.2 683.9 926.8 685.0 925.3M666.1 914.0L664.7 912.8 663.6 911.2 662.3 909.8 661.2 908.3 659.8 907.0 658.4 905.7 656.8 904.8 655.1 903.9 653.8 902.4 653.5 900.6 652.7 898.8 651.9 897.1 650.7 895.6 650.0 897.4M646.3 917.5L645.9 919.3 646.1 921.2 646.7 923.0 647.4 924.8 648.4 926.4 650.3 926.4M673.0 915.0L673.8 913.2 674.6 911.5 674.8 909.6 675.4 907.8 676.7 906.4 677.5 904.7 679.2 903.9 681.1 904.0 683.0 904.3 684.9 904.5 686.7 904.0 688.6 903.5 690.5 903.3 692.3 902.9 694.1 902.1 695.7 901.1 696.8 899.6 695.0 899.9 693.2 900.5 691.6 901.6M702.5 914.1L704.2 913.2 706.1 913.2 707.9 913.6 708.2 915.4 706.9 916.8 706.0 918.4M706.4 916.0L705.2 917.4 704.0 918.9 702.1 919.0 700.2 919.2 698.3 919.5M673.6 898.7L671.9 899.6 670.0 899.6 668.3 900.4 667.1 901.9 666.3 903.6 665.2 905.1 664.6 907.0 664.8 908.8 665.4 910.6 666.3 912.3 667.7 913.7 669.2 914.8 671.0 915.5M696.2 901.3L697.9 900.5 696.3 899.5 694.4 899.6 692.5 899.3 690.8 898.5 689.1 897.7 687.3 896.9 685.7 896.0 684.8 897.6M659.0 896.7L660.1 895.1 658.2 895.2 656.3 895.4 654.4 895.4 652.6 895.9 650.7 896.4 648.8 896.4 647.3 897.6 646.3 899.2 645.1 900.7 643.9 902.1 642.1 902.7 640.2 903.0 638.4 903.6 636.6 904.0M649.8 909.0L649.4 907.3 648.5 905.7 647.7 904.1 647.4 902.3 647.1 900.5 645.9 899.3 645.5 897.5 644.4 898.9M653.9 899.9L652.4 898.9 650.8 898.2 649.4 896.9M660.1 912.6L661.3 914.0 662.8 915.0M659.9 914.4L661.6 913.9 662.9 912.6M689.9 901.4L691.1 902.7 691.5 904.5 690.5 905.9 690.2 907.7M690.7 903.0L690.8 904.8 690.7 906.6 689.0 907.1M684.1 897.9L682.6 897.0 680.8 897.2 679.0 897.0 677.2 897.0M677.4 903.8L677.0 902.1 675.9 900.7 675.3 898.9 674.0 897.7 674.2 895.9M674.6 901.6L675.9 900.3 677.5 899.6 678.8 898.3M659.9 912.2L659.5 913.9 660.0 915.6 659.9 917.4 660.2 919.2 661.3 920.7 662.4 922.0 662.4 923.8 662.3 925.6M661.6 912.5L662.7 913.9 664.2 915.0 665.9 915.7 666.6 917.3 668.0 918.5 668.9 920.0 670.2 921.2M660.6 922.6L660.4 924.4 661.1 926.1 662.2 927.6 663.2 929.0 663.9 927.4 663.9 925.6" fill="none" stroke="#1ae2e8" stroke-width="1.04" stroke-linejoin="round" stroke-dasharray="2.2 0.9"/>
<path d="M670.5 939.4L668.0 938.6 666.4 937.2 663.6 937.8 662.6 936.7 661.0 935.6 658.1 934.8 655.8 934.1 653.7 933.9 652.9 933.5 650.6 932.9 647.5 932.6 646.0 932.3 644.1 931.1 642.5 931.1 640.3 930.9 638.8 930.7 635.1 929.8 634.3 929.7 632.2 929.2M670.5 939.4L669.7 940.3 667.3 941.7 664.6 942.0 662.9 943.2 661.6 944.5 659.4 944.5 657.1 945.8 656.1 946.6 655.1 947.3 651.9 948.5 650.2 947.8 647.9 948.5 645.3 948.3 643.5 949.3 641.1 950.0 639.7 949.7 637.5 950.7M670.5 939.4L668.6 940.2 666.5 940.5 664.9 941.6 662.9 941.9 660.8 942.9 658.6 943.9 657.1 943.2 654.9 944.2 652.9 946.1 651.4 949.0 650.2 950.3 647.7 951.1 647.7 953.9M670.5 939.4L669.0 941.2 668.2 943.2 666.6 945.2 665.8 946.5 664.9 949.3 664.0 950.5 661.5 952.0 660.8 953.2 659.3 954.0 657.6 955.3 655.2 956.8 654.0 958.2 652.5 958.5 650.6 960.7 648.6 961.7 647.0 962.6M670.5 939.4L672.3 938.9 674.6 939.8 677.4 938.9 678.4 939.5 681.1 939.7 683.0 939.8 685.8 939.7 687.2 938.7 689.6 939.3 691.8 939.5 693.8 938.7 696.3 938.6 697.9 939.5 700.0 939.7 702.0 939.2 704.6 939.6 706.3 940.1 707.4 940.1 710.4 941.1 712.9 941.1 714.7 941.1 716.4 941.0 719.3 941.1 720.7 941.7 722.9 942.2 725.4 941.3M670.5 939.4L673.1 939.6 674.7 939.7 676.2 940.7 678.4 941.8 680.2 941.9 682.3 942.3 684.6 942.6 686.1 942.8 688.7 943.2 690.1 944.6 693.6 944.4 695.0 944.5 696.9 945.3 698.7 946.6 700.9 947.5 702.2 947.3 705.3 948.4 706.5 948.5 709.3 948.5 711.0 948.9 713.5 950.1 715.4 949.4 716.9 950.0 719.1 950.7 721.5 951.0 723.5 951.6 726.4 951.9 727.9 952.1 729.7 953.1 731.7 953.8M670.5 939.4L672.8 939.3 674.3 940.8 676.6 941.4 678.6 942.1 680.6 942.3 683.3 943.1 684.9 944.3 687.5 943.9 689.1 944.3 690.7 945.6 693.4 946.2 694.8 947.6 696.5 947.6 699.7 949.3 700.9 950.3 703.1 950.7 704.7 951.2 707.0 953.0 709.0 953.7 710.9 954.6M670.5 939.4L671.7 941.2 673.3 942.7 674.6 944.3 676.5 945.8 677.6 947.1 679.2 949.6 681.2 951.2 682.4 952.5 683.4 954.0 684.8 955.8 687.4 957.8 687.8 959.4 689.3 960.7 691.2 962.4 693.1 964.2M670.5 939.4L671.8 940.5 672.4 942.8 674.6 945.1 676.2 946.0 677.0 947.9 678.8 949.6 680.2 951.9 681.4 954.0 682.6 955.5 684.3 957.5 685.7 958.6 686.2 960.9 688.1 962.2 689.8 964.3 690.6 966.0 691.5 967.3M670.5 939.4L667.8 939.3 666.3 937.9 664.5 938.1 662.5 937.2 660.3 937.8 658.0 936.1 657.0 936.5 654.3 936.3 653.4 935.8 650.9 935.1 648.8 935.4 646.5 934.3 643.9 934.4 642.3 934.6 639.5 934.3M670.5 939.4L669.7 936.6 668.8 936.2 668.7 933.6 667.3 931.2 666.2 930.1 663.0 928.5 662.7 927.1 660.5 926.2 658.5 924.5 657.0 923.4 654.8 922.3 652.6 921.3M670.5 939.4L672.6 939.3 674.7 937.9 676.3 938.6 678.3 937.1 679.9 937.3 682.7 935.4 684.8 934.0 687.0 932.1M670.5 939.4L672.6 938.9 674.2 938.9 677.3 938.2 678.1 939.4 681.2 938.5 683.5 937.8 684.7 937.6 687.2 937.6 689.7 937.4 691.3 936.8 693.4 935.8 695.5 935.6 697.8 934.0 700.4 934.2M670.5 939.4L669.7 941.5 669.0 943.4 666.9 945.2 665.3 945.0 662.7 946.1M670.5 939.4L671.5 941.4 672.8 942.8 675.6 945.5 676.9 947.4 677.4 948.4 678.4 950.9 679.7 952.2 679.8 954.9M670.5 939.4L671.1 941.9 669.7 944.2 670.3 947.9 668.6 949.7 668.8 951.6 668.3 954.0 667.1 955.7 666.7 958.4 666.5 959.3" fill="none" stroke="#3a3a3a" stroke-width="0.5" stroke-linejoin="round"/>
<path d="M686.5 821.4h1.7v1.7h-1.7zM686.7 818.0h1.7v1.7h-1.7zM687.2 814.8h1.7v1.7h-1.7zM686.8 809.9h1.7v1.7h-1.7zM686.6 805.7h1.7v1.7h-1.7zM687.8 803.3h1.7v1.7h-1.7zM687.4 799.4h1.7v1.7h-1.7zM687.0 795.4h1.7v1.7h-1.7zM687.6 791.3h1.7v1.7h-1.7zM685.1 791.3h1.7v1.7h-1.7zM680.5 791.3h1.7v1.7h-1.7zM676.9 790.5h1.7v1.7h-1.7zM672.6 790.8h1.7v1.7h-1.7zM670.2 791.4h1.7v1.7h-1.7zM665.1 789.6h1.7v1.7h-1.7zM663.1 787.1h1.7v1.7h-1.7zM660.0 785.2h1.7v1.7h-1.7zM656.1 781.9h1.7v1.7h-1.7zM653.6 778.7h1.7v1.7h-1.7zM652.0 775.4h1.7v1.7h-1.7zM649.8 772.5h1.7v1.7h-1.7zM646.5 769.6h1.7v1.7h-1.7zM644.2 767.7h1.7v1.7h-1.7zM640.5 766.6h1.7v1.7h-1.7zM634.9 765.1h1.7v1.7h-1.7zM631.0 764.1h1.7v1.7h-1.7zM628.4 761.3h1.7v1.7h-1.7zM626.2 759.6h1.7v1.7h-1.7zM624.1 756.6h1.7v1.7h-1.7zM619.9 753.4h1.7v1.7h-1.7zM617.3 751.2h1.7v1.7h-1.7zM616.6 747.1h1.7v1.7h-1.7zM614.0 743.2h1.7v1.7h-1.7zM613.4 740.0h1.7v1.7h-1.7zM593.1 755.3h1.7v1.7h-1.7zM596.2 754.5h1.7v1.7h-1.7zM599.1 755.7h1.7v1.7h-1.7zM582.5 751.5h1.7v1.7h-1.7zM580.6 749.1h1.7v1.7h-1.7zM630.5 762.7h1.7v1.7h-1.7zM628.1 762.1h1.7v1.7h-1.7zM624.0 760.4h1.7v1.7h-1.7zM620.8 758.7h1.7v1.7h-1.7zM616.7 758.4h1.7v1.7h-1.7zM612.5 758.1h1.7v1.7h-1.7zM608.6 757.3h1.7v1.7h-1.7zM604.1 757.4h1.7v1.7h-1.7zM600.4 756.7h1.7v1.7h-1.7zM596.2 756.5h1.7v1.7h-1.7zM593.1 755.3h1.7v1.7h-1.7zM589.8 753.4h1.7v1.7h-1.7zM585.7 753.3h1.7v1.7h-1.7zM581.5 754.1h1.7v1.7h-1.7zM578.1 753.0h1.7v1.7h-1.7zM573.6 751.5h1.7v1.7h-1.7zM569.7 750.2h1.7v1.7h-1.7zM566.2 753.0h1.7v1.7h-1.7zM639.2 777.1h1.7v1.7h-1.7zM639.2 780.3h1.7v1.7h-1.7zM640.1 783.0h1.7v1.7h-1.7zM635.7 774.5h1.7v1.7h-1.7zM638.9 774.2h1.7v1.7h-1.7zM652.8 779.2h1.7v1.7h-1.7zM648.6 777.5h1.7v1.7h-1.7zM644.7 776.7h1.7v1.7h-1.7zM639.7 775.6h1.7v1.7h-1.7zM636.9 774.7h1.7v1.7h-1.7zM633.6 773.2h1.7v1.7h-1.7zM628.3 773.5h1.7v1.7h-1.7zM625.1 771.2h1.7v1.7h-1.7zM620.7 772.4h1.7v1.7h-1.7zM618.2 771.3h1.7v1.7h-1.7zM612.4 769.6h1.7v1.7h-1.7zM609.5 769.9h1.7v1.7h-1.7zM606.0 770.9h1.7v1.7h-1.7zM602.4 770.5h1.7v1.7h-1.7zM598.0 770.7h1.7v1.7h-1.7zM593.2 769.9h1.7v1.7h-1.7zM589.7 769.8h1.7v1.7h-1.7zM587.5 769.3h1.7v1.7h-1.7zM581.7 768.2h1.7v1.7h-1.7zM578.4 768.3h1.7v1.7h-1.7zM575.1 768.3h1.7v1.7h-1.7zM570.5 767.0h1.7v1.7h-1.7zM567.7 767.3h1.7v1.7h-1.7zM673.4 752.0h1.7v1.7h-1.7zM676.6 752.6h1.7v1.7h-1.7zM634.2 762.1h1.7v1.7h-1.7zM636.7 759.0h1.7v1.7h-1.7zM638.7 755.3h1.7v1.7h-1.7zM643.4 754.2h1.7v1.7h-1.7zM647.3 755.1h1.7v1.7h-1.7zM651.8 755.4h1.7v1.7h-1.7zM656.5 754.3h1.7v1.7h-1.7zM660.5 754.0h1.7v1.7h-1.7zM663.5 752.8h1.7v1.7h-1.7zM667.9 751.1h1.7v1.7h-1.7zM671.8 751.7h1.7v1.7h-1.7zM675.4 751.7h1.7v1.7h-1.7zM680.2 779.8h1.7v1.7h-1.7zM678.4 788.8h1.7v1.7h-1.7zM679.5 783.3h1.7v1.7h-1.7zM681.0 781.2h1.7v1.7h-1.7zM682.2 777.5h1.7v1.7h-1.7zM685.1 774.4h1.7v1.7h-1.7zM686.6 770.8h1.7v1.7h-1.7zM690.0 767.8h1.7v1.7h-1.7zM693.3 767.6h1.7v1.7h-1.7zM696.0 765.7h1.7v1.7h-1.7zM694.4 779.9h1.7v1.7h-1.7zM691.2 780.3h1.7v1.7h-1.7zM714.2 784.0h1.7v1.7h-1.7zM711.6 785.9h1.7v1.7h-1.7zM709.5 788.3h1.7v1.7h-1.7zM724.8 784.5h1.7v1.7h-1.7zM727.9 784.4h1.7v1.7h-1.7zM730.4 782.4h1.7v1.7h-1.7zM731.2 779.3h1.7v1.7h-1.7zM727.0 784.5h1.7v1.7h-1.7zM724.0 783.5h1.7v1.7h-1.7zM721.3 781.9h1.7v1.7h-1.7zM757.7 791.1h1.7v1.7h-1.7zM681.1 778.6h1.7v1.7h-1.7zM684.7 779.4h1.7v1.7h-1.7zM688.9 778.3h1.7v1.7h-1.7zM692.6 778.1h1.7v1.7h-1.7zM695.7 779.0h1.7v1.7h-1.7zM701.4 779.8h1.7v1.7h-1.7zM704.6 781.2h1.7v1.7h-1.7zM707.8 782.9h1.7v1.7h-1.7zM712.0 784.0h1.7v1.7h-1.7zM716.1 784.4h1.7v1.7h-1.7zM721.3 785.0h1.7v1.7h-1.7zM724.8 784.5h1.7v1.7h-1.7zM728.3 784.6h1.7v1.7h-1.7zM734.1 785.9h1.7v1.7h-1.7zM736.9 786.8h1.7v1.7h-1.7zM741.0 788.7h1.7v1.7h-1.7zM744.6 790.1h1.7v1.7h-1.7zM749.9 790.5h1.7v1.7h-1.7zM753.4 791.4h1.7v1.7h-1.7zM759.0 791.8h1.7v1.7h-1.7zM763.2 790.1h1.7v1.7h-1.7zM765.6 788.8h1.7v1.7h-1.7zM769.6 787.8h1.7v1.7h-1.7zM773.5 785.8h1.7v1.7h-1.7zM777.8 784.1h1.7v1.7h-1.7zM781.5 782.5h1.7v1.7h-1.7zM784.2 782.7h1.7v1.7h-1.7zM788.6 782.9h1.7v1.7h-1.7zM779.1 781.9h1.7v1.7h-1.7zM776.0 780.2h1.7v1.7h-1.7zM772.7 778.3h1.7v1.7h-1.7zM769.6 775.9h1.7v1.7h-1.7zM766.4 775.0h1.7v1.7h-1.7zM763.5 774.4h1.7v1.7h-1.7zM758.7 772.3h1.7v1.7h-1.7zM756.4 771.2h1.7v1.7h-1.7zM751.2 770.6h1.7v1.7h-1.7zM748.2 769.4h1.7v1.7h-1.7zM729.9 784.8h1.7v1.7h-1.7zM730.8 781.0h1.7v1.7h-1.7zM731.3 777.0h1.7v1.7h-1.7zM735.7 772.9h1.7v1.7h-1.7zM728.7 774.2h1.7v1.7h-1.7zM725.2 773.5h1.7v1.7h-1.7zM722.4 770.8h1.7v1.7h-1.7zM709.1 789.3h1.7v1.7h-1.7zM710.4 792.0h1.7v1.7h-1.7zM711.3 795.1h1.7v1.7h-1.7zM714.0 785.8h1.7v1.7h-1.7zM710.9 786.9h1.7v1.7h-1.7zM707.6 788.5h1.7v1.7h-1.7zM705.2 789.7h1.7v1.7h-1.7zM701.3 795.1h1.7v1.7h-1.7zM698.7 798.0h1.7v1.7h-1.7zM694.3 799.5h1.7v1.7h-1.7zM692.4 802.9h1.7v1.7h-1.7zM692.0 808.5h1.7v1.7h-1.7zM691.6 812.1h1.7v1.7h-1.7zM610.4 751.4h1.7v1.7h-1.7zM612.2 754.1h1.7v1.7h-1.7zM608.1 747.9h1.7v1.7h-1.7zM610.8 753.1h1.7v1.7h-1.7zM611.7 754.6h1.7v1.7h-1.7zM613.2 758.1h1.7v1.7h-1.7zM687.3 772.2h1.7v1.7h-1.7zM689.7 770.1h1.7v1.7h-1.7zM692.1 768.0h1.7v1.7h-1.7zM687.8 770.4h1.7v1.7h-1.7zM687.8 774.1h1.7v1.7h-1.7zM689.7 777.3h1.7v1.7h-1.7zM639.1 754.9h1.7v1.7h-1.7zM686.6 797.8h1.7v1.7h-1.7zM691.9 791.8h1.7v1.7h-1.7zM698.6 787.5h1.7v1.7h-1.7zM696.3 912.2h1.7v1.7h-1.7zM694.9 913.5h1.7v1.7h-1.7zM694.4 906.0h1.7v1.7h-1.7zM700.3 919.3h1.7v1.7h-1.7zM701.3 915.0h1.7v1.7h-1.7zM674.8 911.4h1.7v1.7h-1.7zM679.1 917.6h1.7v1.7h-1.7zM685.2 922.2h1.7v1.7h-1.7zM690.2 923.6h1.7v1.7h-1.7zM690.9 916.7h1.7v1.7h-1.7zM697.7 916.5h1.7v1.7h-1.7zM703.4 919.2h1.7v1.7h-1.7zM707.8 913.2h1.7v1.7h-1.7zM648.5 912.9h1.7v1.7h-1.7zM641.1 914.5h1.7v1.7h-1.7zM645.2 911.3h1.7v1.7h-1.7zM638.0 913.6h1.7v1.7h-1.7zM638.8 917.0h1.7v1.7h-1.7zM649.0 910.9h1.7v1.7h-1.7zM641.8 912.7h1.7v1.7h-1.7zM634.9 915.7h1.7v1.7h-1.7zM646.7 916.1h1.7v1.7h-1.7zM643.4 920.8h1.7v1.7h-1.7zM648.6 915.9h1.7v1.7h-1.7zM642.2 919.6h1.7v1.7h-1.7zM637.9 920.6h1.7v1.7h-1.7zM675.8 910.5h1.7v1.7h-1.7zM668.8 913.0h1.7v1.7h-1.7zM661.3 913.8h1.7v1.7h-1.7zM653.8 913.9h1.7v1.7h-1.7zM647.0 912.7h1.7v1.7h-1.7zM642.0 907.2h1.7v1.7h-1.7zM636.7 901.7h1.7v1.7h-1.7zM631.9 903.7h1.7v1.7h-1.7zM682.4 894.8h1.7v1.7h-1.7zM689.4 897.4h1.7v1.7h-1.7zM678.5 902.6h1.7v1.7h-1.7zM678.6 895.1h1.7v1.7h-1.7zM682.9 898.6h1.7v1.7h-1.7zM687.8 903.8h1.7v1.7h-1.7zM672.0 909.9h1.7v1.7h-1.7zM668.8 916.2h1.7v1.7h-1.7zM671.9 923.0h1.7v1.7h-1.7zM676.2 927.1h1.7v1.7h-1.7zM683.0 925.9h1.7v1.7h-1.7zM658.3 901.1h1.7v1.7h-1.7zM655.2 898.4h1.7v1.7h-1.7zM661.5 909.0h1.7v1.7h-1.7zM655.9 903.9h1.7v1.7h-1.7zM651.9 898.0h1.7v1.7h-1.7zM645.2 920.4h1.7v1.7h-1.7zM649.5 925.5h1.7v1.7h-1.7zM677.3 907.7h1.7v1.7h-1.7zM670.2 910.3h1.7v1.7h-1.7zM663.5 913.8h1.7v1.7h-1.7zM656.3 914.6h1.7v1.7h-1.7zM649.2 917.0h1.7v1.7h-1.7zM641.7 916.5h1.7v1.7h-1.7zM634.8 919.4h1.7v1.7h-1.7zM629.0 916.8h1.7v1.7h-1.7zM690.4 906.5h1.7v1.7h-1.7zM673.0 912.4h1.7v1.7h-1.7zM675.8 905.5h1.7v1.7h-1.7zM682.2 903.5h1.7v1.7h-1.7zM689.6 902.4h1.7v1.7h-1.7zM696.0 898.8h1.7v1.7h-1.7zM672.2 914.1h1.7v1.7h-1.7zM679.5 914.8h1.7v1.7h-1.7zM686.1 918.2h1.7v1.7h-1.7zM691.6 923.4h1.7v1.7h-1.7zM686.9 925.1h1.7v1.7h-1.7zM680.4 927.6h1.7v1.7h-1.7zM687.8 926.6h1.7v1.7h-1.7zM694.7 923.5h1.7v1.7h-1.7zM697.8 916.7h1.7v1.7h-1.7zM705.2 912.3h1.7v1.7h-1.7zM705.1 917.6h1.7v1.7h-1.7zM704.3 916.6h1.7v1.7h-1.7zM697.5 918.7h1.7v1.7h-1.7zM680.6 903.2h1.7v1.7h-1.7zM685.8 897.8h1.7v1.7h-1.7zM684.9 901.2h1.7v1.7h-1.7zM686.4 908.3h1.7v1.7h-1.7zM690.4 914.2h1.7v1.7h-1.7zM697.8 913.1h1.7v1.7h-1.7zM705.3 913.8h1.7v1.7h-1.7zM701.8 914.7h1.7v1.7h-1.7zM694.3 913.9h1.7v1.7h-1.7zM670.9 904.3h1.7v1.7h-1.7zM675.2 910.5h1.7v1.7h-1.7zM672.8 897.8h1.7v1.7h-1.7zM666.3 901.0h1.7v1.7h-1.7zM664.0 908.0h1.7v1.7h-1.7zM668.3 914.0h1.7v1.7h-1.7zM671.0 903.5h1.7v1.7h-1.7zM674.6 896.9h1.7v1.7h-1.7zM673.7 896.2h1.7v1.7h-1.7zM668.6 901.7h1.7v1.7h-1.7zM663.5 907.2h1.7v1.7h-1.7zM658.6 912.6h1.7v1.7h-1.7zM651.9 910.1h1.7v1.7h-1.7zM699.4 902.1h1.7v1.7h-1.7zM698.1 901.3h1.7v1.7h-1.7zM704.9 904.6h1.7v1.7h-1.7zM695.4 898.7h1.7v1.7h-1.7zM688.2 896.8h1.7v1.7h-1.7zM673.1 906.8h1.7v1.7h-1.7zM680.3 904.4h1.7v1.7h-1.7zM684.5 898.2h1.7v1.7h-1.7zM691.9 898.9h1.7v1.7h-1.7zM697.2 903.7h1.7v1.7h-1.7zM703.0 908.5h1.7v1.7h-1.7zM708.2 908.5h1.7v1.7h-1.7zM658.2 895.8h1.7v1.7h-1.7zM653.6 894.5h1.7v1.7h-1.7zM646.5 896.7h1.7v1.7h-1.7zM641.2 901.9h1.7v1.7h-1.7zM663.3 912.5h1.7v1.7h-1.7zM657.5 907.6h1.7v1.7h-1.7zM654.1 901.1h1.7v1.7h-1.7zM654.5 896.3h1.7v1.7h-1.7zM661.9 896.1h1.7v1.7h-1.7zM669.4 895.4h1.7v1.7h-1.7zM676.8 894.3h1.7v1.7h-1.7zM684.1 895.4h1.7v1.7h-1.7zM689.0 897.9h1.7v1.7h-1.7zM648.6 906.4h1.7v1.7h-1.7zM646.3 899.7h1.7v1.7h-1.7zM650.0 906.8h1.7v1.7h-1.7zM651.3 900.2h1.7v1.7h-1.7zM655.7 895.7h1.7v1.7h-1.7zM648.6 896.1h1.7v1.7h-1.7zM669.2 918.7h1.7v1.7h-1.7zM662.5 917.5h1.7v1.7h-1.7zM660.8 910.9h1.7v1.7h-1.7zM657.5 904.5h1.7v1.7h-1.7zM653.0 899.1h1.7v1.7h-1.7zM654.7 896.1h1.7v1.7h-1.7zM697.4 917.7h1.7v1.7h-1.7zM696.0 911.3h1.7v1.7h-1.7zM692.8 905.5h1.7v1.7h-1.7zM660.8 913.0h1.7v1.7h-1.7zM651.0 902.9h1.7v1.7h-1.7zM656.2 903.7h1.7v1.7h-1.7zM659.5 910.0h1.7v1.7h-1.7zM661.2 916.4h1.7v1.7h-1.7zM677.0 904.3h1.7v1.7h-1.7zM683.6 903.4h1.7v1.7h-1.7zM689.9 900.3h1.7v1.7h-1.7zM687.8 898.8h1.7v1.7h-1.7zM686.7 905.1h1.7v1.7h-1.7zM690.2 901.9h1.7v1.7h-1.7zM688.2 906.2h1.7v1.7h-1.7zM687.1 905.0h1.7v1.7h-1.7zM687.0 899.3h1.7v1.7h-1.7zM688.4 898.8h1.7v1.7h-1.7zM691.1 905.4h1.7v1.7h-1.7zM683.3 897.0h1.7v1.7h-1.7zM676.3 896.2h1.7v1.7h-1.7zM683.4 902.4h1.7v1.7h-1.7zM682.7 895.3h1.7v1.7h-1.7zM680.4 901.5h1.7v1.7h-1.7zM676.6 903.0h1.7v1.7h-1.7zM673.1 896.9h1.7v1.7h-1.7zM675.0 899.4h1.7v1.7h-1.7zM689.8 899.7h1.7v1.7h-1.7zM683.0 900.7h1.7v1.7h-1.7zM676.6 903.0h1.7v1.7h-1.7zM675.4 897.6h1.7v1.7h-1.7zM681.5 895.1h1.7v1.7h-1.7zM659.2 914.8h1.7v1.7h-1.7zM661.6 921.2h1.7v1.7h-1.7zM663.4 914.1h1.7v1.7h-1.7zM668.0 919.2h1.7v1.7h-1.7zM660.8 911.7h1.7v1.7h-1.7zM665.9 916.6h1.7v1.7h-1.7zM667.6 923.6h1.7v1.7h-1.7zM661.3 926.7h1.7v1.7h-1.7zM661.0 923.1h1.7v1.7h-1.7zM660.5 927.9h1.7v1.7h-1.7zM654.1 926.3h1.7v1.7h-1.7zM683.1 898.2h1.7v1.7h-1.7zM704.9 887.3h1.7v1.7h-1.7zM703.0 889.8h1.7v1.7h-1.7zM725.7 884.0h1.7v1.7h-1.7zM726.8 881.0h1.7v1.7h-1.7zM726.1 878.0h1.7v1.7h-1.7zM679.1 897.1h1.7v1.7h-1.7zM683.3 898.3h1.7v1.7h-1.7zM686.4 899.2h1.7v1.7h-1.7zM690.0 901.7h1.7v1.7h-1.7zM693.3 902.7h1.7v1.7h-1.7zM696.3 899.9h1.7v1.7h-1.7zM697.4 896.4h1.7v1.7h-1.7zM700.4 893.5h1.7v1.7h-1.7zM701.8 889.4h1.7v1.7h-1.7zM704.7 888.3h1.7v1.7h-1.7zM707.4 887.0h1.7v1.7h-1.7zM711.3 885.7h1.7v1.7h-1.7zM715.1 885.4h1.7v1.7h-1.7zM719.1 884.2h1.7v1.7h-1.7zM722.9 884.8h1.7v1.7h-1.7zM726.5 883.8h1.7v1.7h-1.7zM731.3 885.1h1.7v1.7h-1.7zM687.8 904.4h1.7v1.7h-1.7zM687.1 901.3h1.7v1.7h-1.7zM681.1 903.1h1.7v1.7h-1.7zM685.5 905.2h1.7v1.7h-1.7zM689.3 905.0h1.7v1.7h-1.7zM692.8 905.3h1.7v1.7h-1.7zM697.6 905.1h1.7v1.7h-1.7zM701.6 903.7h1.7v1.7h-1.7zM704.9 904.5h1.7v1.7h-1.7zM708.3 903.4h1.7v1.7h-1.7zM713.2 903.2h1.7v1.7h-1.7zM716.3 901.8h1.7v1.7h-1.7zM720.1 902.5h1.7v1.7h-1.7zM723.7 903.4h1.7v1.7h-1.7zM727.3 903.9h1.7v1.7h-1.7zM730.9 904.6h1.7v1.7h-1.7zM735.9 906.3h1.7v1.7h-1.7zM738.2 907.2h1.7v1.7h-1.7zM742.2 909.0h1.7v1.7h-1.7zM746.3 911.6h1.7v1.7h-1.7zM748.8 914.3h1.7v1.7h-1.7zM751.1 918.6h1.7v1.7h-1.7zM689.7 909.3h1.7v1.7h-1.7zM686.8 910.1h1.7v1.7h-1.7zM694.0 910.4h1.7v1.7h-1.7zM696.2 912.7h1.7v1.7h-1.7zM699.1 913.9h1.7v1.7h-1.7zM701.9 915.5h1.7v1.7h-1.7zM685.1 909.1h1.7v1.7h-1.7zM689.7 909.3h1.7v1.7h-1.7zM693.0 910.9h1.7v1.7h-1.7zM696.8 911.2h1.7v1.7h-1.7zM699.7 913.3h1.7v1.7h-1.7zM703.4 914.7h1.7v1.7h-1.7zM705.2 915.9h1.7v1.7h-1.7zM708.9 919.4h1.7v1.7h-1.7zM711.7 920.2h1.7v1.7h-1.7zM715.4 922.3h1.7v1.7h-1.7zM717.9 924.6h1.7v1.7h-1.7zM722.2 925.7h1.7v1.7h-1.7zM724.6 927.8h1.7v1.7h-1.7zM729.3 928.6h1.7v1.7h-1.7zM712.0 944.9h1.7v1.7h-1.7zM715.0 944.1h1.7v1.7h-1.7zM718.2 944.2h1.7v1.7h-1.7zM683.1 914.1h1.7v1.7h-1.7zM686.4 916.0h1.7v1.7h-1.7zM689.7 918.8h1.7v1.7h-1.7zM693.8 920.9h1.7v1.7h-1.7zM696.1 923.9h1.7v1.7h-1.7zM698.9 926.9h1.7v1.7h-1.7zM700.2 929.5h1.7v1.7h-1.7zM702.7 932.8h1.7v1.7h-1.7zM704.8 935.0h1.7v1.7h-1.7zM707.2 937.8h1.7v1.7h-1.7zM710.1 941.3h1.7v1.7h-1.7zM712.0 944.9h1.7v1.7h-1.7zM661.1 901.1h1.7v1.7h-1.7zM656.4 901.1h1.7v1.7h-1.7zM651.2 900.1h1.7v1.7h-1.7zM649.4 900.3h1.7v1.7h-1.7zM645.1 899.3h1.7v1.7h-1.7zM641.5 898.8h1.7v1.7h-1.7zM637.8 899.3h1.7v1.7h-1.7zM636.3 910.1h1.7v1.7h-1.7zM635.7 913.2h1.7v1.7h-1.7zM657.4 911.7h1.7v1.7h-1.7zM653.9 913.0h1.7v1.7h-1.7zM649.6 913.6h1.7v1.7h-1.7zM644.3 914.0h1.7v1.7h-1.7zM642.0 912.0h1.7v1.7h-1.7zM637.9 910.7h1.7v1.7h-1.7zM634.2 908.8h1.7v1.7h-1.7zM631.3 907.3h1.7v1.7h-1.7zM649.2 940.8h1.7v1.7h-1.7zM647.1 938.5h1.7v1.7h-1.7zM631.1 941.0h1.7v1.7h-1.7zM632.9 938.3h1.7v1.7h-1.7zM634.9 935.9h1.7v1.7h-1.7zM635.9 933.0h1.7v1.7h-1.7zM661.1 924.1h1.7v1.7h-1.7zM659.8 926.8h1.7v1.7h-1.7zM658.2 930.4h1.7v1.7h-1.7zM655.2 933.8h1.7v1.7h-1.7zM653.5 937.2h1.7v1.7h-1.7zM651.6 940.3h1.7v1.7h-1.7zM648.5 939.4h1.7v1.7h-1.7zM644.9 940.2h1.7v1.7h-1.7zM641.4 941.2h1.7v1.7h-1.7zM636.8 941.6h1.7v1.7h-1.7zM633.8 941.8h1.7v1.7h-1.7zM629.7 941.6h1.7v1.7h-1.7zM626.3 941.7h1.7v1.7h-1.7zM664.0 924.0h1.7v1.7h-1.7zM665.6 921.2h1.7v1.7h-1.7zM668.2 919.4h1.7v1.7h-1.7zM662.2 931.2h1.7v1.7h-1.7zM660.7 933.9h1.7v1.7h-1.7zM666.6 918.1h1.7v1.7h-1.7zM666.3 922.3h1.7v1.7h-1.7zM663.9 925.5h1.7v1.7h-1.7zM663.5 928.7h1.7v1.7h-1.7zM662.3 933.3h1.7v1.7h-1.7zM660.7 937.3h1.7v1.7h-1.7zM659.6 940.8h1.7v1.7h-1.7zM659.9 945.0h1.7v1.7h-1.7zM675.1 904.1h1.7v1.7h-1.7zM676.1 900.3h1.7v1.7h-1.7zM675.8 896.2h1.7v1.7h-1.7zM677.0 892.9h1.7v1.7h-1.7zM676.9 889.2h1.7v1.7h-1.7zM678.9 885.6h1.7v1.7h-1.7zM681.5 881.0h1.7v1.7h-1.7z" fill="#1eaab0"/>
<path d="M686.3 825.5 V832.5 M684.7 841.5 L682.5 864.5" fill="none" stroke="#e020e8" stroke-width="5.5" stroke-linecap="round"/>
<path d="M674.5 913 V921" fill="none" stroke="#d020d8" stroke-width="4" stroke-linecap="round"/>
<circle cx="671.2" cy="938.4" r="2" fill="#222"/>
<text x="891" y="151.5" text-anchor="middle" textLength="130" lengthAdjust="spacingAndGlyphs">AP phase plot</text>
<text x="957.5" y="142" font-size="12">a</text>
<path d="M883.7 181.9H895.3V368.7 M814.8 308V296.7 H975.8 V308 M883.7 239.3H895.3 M883.7 354.1H895.3" fill="none" stroke="#111" stroke-width="1.5"/>
<text x="874.3" y="188.6" text-anchor="end">400</text>
<text x="906" y="188.6">V s</text>
<text x="935.5" y="177.5" font-size="13">−1</text>
<text x="948.5" y="286.2">mV</text>
<text x="814.5" y="330" text-anchor="middle">−60</text>
<text x="975.2" y="330" text-anchor="middle">60</text>
<path d="M845.5 294.66C845.78 290.45 846.06 276.98 847.18 269.41C848.3 261.83 850.27 255.1 852.23 249.21C854.19 243.32 856.44 238.55 858.96 234.06C861.49 229.57 863.73 225.65 867.38 222.28C871.03 218.91 877.2 215.13 880.84 213.86C884.49 212.6 886.74 213.86 889.26 214.7C891.79 215.55 893.19 216.25 895.99 218.91C898.8 221.58 903.01 226.49 906.09 230.7C909.18 234.9 911.98 239.11 914.51 244.16C917.03 249.21 919.56 255.38 921.24 260.99C922.92 266.6 923.77 272.21 924.61 277.83C925.45 283.44 926.15 288.49 926.29 294.66C926.43 300.83 926.57 309.25 925.45 314.86C924.33 320.47 922.22 325.24 919.56 328.32C916.89 331.41 913.39 332.39 909.46 333.37C905.53 334.35 901.04 334.77 895.99 334.21C890.94 333.65 884.77 332.11 879.16 330.01C873.55 327.9 867.94 324.67 862.33 321.59C856.72 318.5 849.99 314.3 845.5 311.49C841.01 308.68 837.08 305.88 835.4 304.76" fill="none" stroke="#bababa" stroke-width="3" stroke-dasharray="2.6 3.4"/>
<path d="M839.61 295.5C839.75 291.99 839.75 280.77 840.45 274.46C841.15 268.15 842.41 262.68 843.81 257.63C845.22 252.58 846.62 249.21 848.86 244.16C851.11 239.11 854.75 232.94 857.28 227.33C859.8 221.72 861.91 215.41 864.01 210.5C866.12 205.59 867.38 201.24 869.9 197.87C872.43 194.51 875.93 191 879.16 190.3C882.39 189.6 886.74 192.26 889.26 193.66C891.79 195.07 891.79 195.35 894.31 198.71C896.83 202.08 901.04 208.25 904.41 213.86C907.78 219.47 911.42 225.65 914.51 232.38C917.59 239.11 920.68 247.25 922.92 254.26C925.17 261.27 926.71 267.45 927.97 274.46C929.24 281.47 930.22 289.61 930.5 296.34C930.78 303.07 930.92 308.96 929.66 314.86C928.4 320.75 926.01 327.2 922.92 331.69C919.84 336.18 915.63 339.68 911.14 341.79C906.65 343.89 900.76 344.31 895.99 344.31C891.22 344.31 887.58 343.61 882.53 341.79C877.48 339.96 871.03 336.74 865.7 333.37C860.36 330.01 855.6 325.8 850.55 321.59C845.5 317.38 839.66 312.47 835.4 308.12C831.13 303.77 826.7 297.6 824.96 295.5" fill="none" stroke="#7f6a1a" stroke-width="3.7" stroke-linejoin="round" stroke-linecap="round"/>
<path d="M884.3 473H895.9V659.8 M815.4 599.1V587.8 H976.4 V599.1 M884.3 530.4H895.9 M884.3 645.2H895.9" fill="none" stroke="#111" stroke-width="1.5"/>
<path d="M845.07 585.79C845.16 584.41 845.21 581.12 845.57 577.54C845.92 573.97 846.25 568.75 847.22 564.36C848.18 559.96 849.28 555.84 851.34 551.17C853.4 546.5 856.83 541.28 859.58 536.33C862.33 531.39 865.35 525.62 867.82 521.5C870.29 517.38 872.22 514.08 874.42 511.61C876.61 509.13 878.81 507.49 881.01 506.66C883.21 505.84 885.41 506.25 887.6 506.66C889.8 507.07 891.72 507.76 894.2 509.13C896.67 510.51 899.42 512.02 902.44 514.9C905.46 517.79 909.31 522.05 912.33 526.44C915.35 530.84 918.1 536.06 920.57 541.28C923.04 546.5 925.52 552.54 927.17 557.76C928.81 562.98 929.64 567.65 930.46 572.6C931.29 577.54 932.11 582.49 932.11 587.43C932.11 592.38 931.56 597.87 930.46 602.27C929.36 606.67 927.72 610.65 925.52 613.81C923.32 616.97 920.3 619.3 917.28 621.23C914.25 623.15 910.96 624.58 907.38 625.35C903.81 626.12 899.69 626.12 895.85 625.84C892 625.57 888.15 624.88 884.31 623.7C880.46 622.52 876.89 620.82 872.77 618.76C868.65 616.69 863.98 614.08 859.58 611.34C855.18 608.59 848.59 603.78 846.39 602.27" fill="none" stroke="#bababa" stroke-width="3" stroke-dasharray="2.6 3.4"/>
<path d="M844.07 586.16C844.15 584.75 844.21 581.39 844.58 577.75C844.94 574.1 845.28 568.77 846.26 564.29C847.24 559.8 848.36 555.6 850.46 550.83C852.57 546.07 856.07 540.74 858.87 535.69C861.68 530.65 864.76 524.76 867.28 520.56C869.81 516.35 871.77 512.99 874.01 510.46C876.25 507.94 878.5 506.26 880.74 505.42C882.98 504.58 885.23 505 887.47 505.42C889.71 505.84 891.67 506.54 894.2 507.94C896.72 509.34 899.52 510.88 902.61 513.83C905.69 516.77 909.62 521.12 912.7 525.6C915.78 530.09 918.59 535.41 921.11 540.74C923.63 546.07 926.16 552.23 927.84 557.56C929.52 562.89 930.36 567.65 931.2 572.7C932.04 577.75 932.88 582.79 932.88 587.84C932.88 592.88 932.32 598.49 931.2 602.98C930.08 607.46 928.4 611.53 926.16 614.75C923.91 617.98 920.83 620.36 917.75 622.32C914.66 624.28 911.3 625.74 907.65 626.53C904.01 627.31 899.8 627.31 895.88 627.03C891.95 626.75 888.03 626.05 884.1 624.84C880.18 623.64 876.53 621.9 872.33 619.8C868.12 617.7 863.36 615.03 858.87 612.23C854.39 609.43 849.62 606.2 845.42 602.98C841.21 599.75 836.73 595.74 833.64 592.88C830.56 590.03 828.03 587 826.91 585.82" fill="none" stroke="#f6a073" stroke-width="3.7" stroke-linejoin="round" stroke-linecap="round"/>
<path d="M884.3 770.2H895.9V957 M815.4 896.3V885 H976.4 V896.3 M884.3 827.6H895.9 M884.3 942.4H895.9" fill="none" stroke="#111" stroke-width="1.5"/>
<path d="M846.26 882.84C846.54 879.75 846.96 869.1 847.94 864.34C848.92 859.57 850.6 857.89 852.14 854.24C853.69 850.6 855.23 846.67 857.19 842.47C859.15 838.26 861.68 833.22 863.92 829.01C866.16 824.81 868.4 820.88 870.65 817.24C872.89 813.59 874.57 809.53 877.38 807.14C880.18 804.76 884.66 803.36 887.47 802.94C890.27 802.52 891.95 803.36 894.2 804.62C896.44 805.88 898.4 807.57 900.93 810.51C903.45 813.45 906.53 818.08 909.34 822.28C912.14 826.49 915.22 830.97 917.75 835.74C920.27 840.51 922.93 846.11 924.47 850.88C926.02 855.64 926.3 859.01 927 864.34C927.7 869.66 928.4 876.95 928.68 882.84C928.96 888.73 929.1 894.89 928.68 899.66C928.26 904.43 927.98 908.07 926.16 911.43C924.33 914.8 920.83 917.88 917.75 919.84C914.66 921.81 911.02 922.65 907.65 923.21C904.29 923.77 901.49 923.63 897.56 923.21C893.64 922.79 886.35 921.11 884.1 920.69" fill="none" stroke="#bababa" stroke-width="3" stroke-dasharray="2.6 3.4"/>
<path d="M842.05 884.52C842.39 881.16 843.37 868.82 844.07 864.34C844.77 859.85 844.91 860.41 846.26 857.61C847.6 854.8 849.76 850.6 852.14 847.51C854.53 844.43 857.75 841.91 860.56 839.1C863.36 836.3 866.16 833.16 868.97 830.69C871.77 828.23 874.85 825.7 877.38 824.3C879.9 822.9 881.58 822.48 884.1 822.28C886.63 822.09 889.71 822.28 892.51 823.12C895.32 823.97 898.12 825.23 900.93 827.33C903.73 829.43 906.53 832.66 909.34 835.74C912.14 838.82 915.22 841.91 917.75 845.83C920.27 849.76 922.79 854.8 924.47 859.29C926.16 863.77 927.05 868.54 927.84 872.75C928.62 876.95 929.18 880.04 929.18 884.52C929.18 889.01 928.9 895.17 927.84 899.66C926.77 904.14 925.04 908.35 922.79 911.43C920.55 914.52 917.47 916.48 914.38 918.16C911.3 919.84 907.65 920.91 904.29 921.53C900.93 922.14 897.56 922.14 894.2 921.86C890.83 921.58 887.75 921.02 884.1 919.84C880.46 918.67 876.82 916.9 872.33 914.8C867.84 912.7 861.96 910.03 857.19 907.23C852.43 904.43 847.94 900.92 843.73 897.98C839.53 895.03 834.76 891.87 831.96 889.57C829.16 887.27 827.75 885.08 826.91 884.18" fill="none" stroke="#d6c500" stroke-width="3.7" stroke-linejoin="round" stroke-linecap="round"/>
<rect x="981" y="770.3" width="45.5" height="29.2" fill="#f9f9f9"/>
<rect x="1196.4" y="794.1" width="37.4" height="33.5" fill="#fafafa"/>
<path d="M982.2 974.7 L1007 944.5 L1054.7 980.2 L1030.9 1012 Z" fill="#fafafa"/>
<circle cx="1099.4" cy="283.5" r="100.3" fill="#7f6a1a"/>
<text x="1099.4" y="275.4" font-style="italic" text-anchor="middle">Sst Hpse</text>
<text x="1099.4" y="300.5" font-style="italic" text-anchor="middle">Cbln4</text>
<circle cx="1102.8" cy="579" r="100.3" fill="#f6a073"/>
<path d="M1102.8 579L1133.63 483.56A100.3 100.3 0 0 1 1203.1 579Z" fill="#b97755"/>
<path d="M1102.8 579L1203.1 579A100.3 100.3 0 0 1 1194.43 619.8Z" fill="#fbc5a8"/>
<text x="1194.4" y="462" font-style="italic" text-anchor="middle">Sst Calb2</text>
<text x="1194" y="487.5" font-style="italic" text-anchor="middle">Necab1</text>
<text x="1069.8" y="612.4" font-style="italic" text-anchor="middle">Sst Calb2</text>
<text x="1069.5" y="637.4" font-style="italic" text-anchor="middle">Pdlim5</text>
<text x="1253.5" y="607.3" font-style="italic" text-anchor="middle">Sst Nr2f2</text>
<text x="1252.6" y="632.4" font-style="italic" text-anchor="middle">Necab1</text>
<circle cx="1099.4" cy="877.5" r="106" fill="#c8bf67"/>
<path d="M1099.4 877.5L1080.99 773.11A106 106 0 0 1 1180.12 946.2Z" fill="#e4d96a"/>
<path d="M1099.4 877.5L999.3 842.64A106 106 0 0 1 1080.99 773.11Z" fill="#f3ecc8"/>
<text x="998" y="770.3" font-style="italic" text-anchor="middle">Sst Chrna2</text>
<text x="998.7" y="795.2" font-style="italic" text-anchor="middle">Ptgdr</text>
<text x="1201.8" y="768.1" font-style="italic" text-anchor="middle">Sst Chrna2</text>
<text x="1201.8" y="793" font-style="italic" text-anchor="middle">Glra3</text>
<text x="1069" y="916.4" font-style="italic" text-anchor="middle">Sst Myh8</text>
<text x="1068.5" y="941.3" font-style="italic" text-anchor="middle">Etv1</text>
<path d="M191.2 1013.8V1048.1H868.3M670.5 1016.9V1048.1M868.3 1048.1V1024" fill="none" stroke="#484848" stroke-width="2.3"/>
<path d="M868.3 1013.2l-5.2 15.5h10.4z" fill="#484848"/>
<text x="155.2" y="1078.6" textLength="962.6" lengthAdjust="spacingAndGlyphs">Given morphology and connectivity with an L5 PC subclass, one can predict electrophysiology features</text>
<path d="M191.2 1097.8V1132.4H1077M670.5 1102.6V1132.4M1077 1132.4V1108" fill="none" stroke="#484848" stroke-width="2.3"/>
<path d="M1077 1097.6l-5.2 15.5h10.4z" fill="#484848"/>
<text x="157.4" y="1163.9" textLength="959.2" lengthAdjust="spacingAndGlyphs">Given morphology and connectivity with an L5 PC subclass, one can predict transcriptomic expression</text>
<path d="M1077 1179.5V1214.2H194.7V1190" fill="none" stroke="#484848" stroke-width="2.3"/>
<path d="M194.7 1179.5l-5.2 15.5h10.4z" fill="#484848"/>
<text x="320.1" y="1242.5" textLength="634" lengthAdjust="spacingAndGlyphs">Highly expressed genes correlate with specific connectivity patterns</text>
<text transform="translate(110.5 1137) rotate(-90)" text-anchor="middle">Generated</text>
<text transform="translate(135.6 1137.7) rotate(-90)" text-anchor="middle">hypotheses</text>
<rect x="1431" y="35.2" width="191.2" height="63.2" fill="#ececec"/>
<rect x="1431" y="161.5" width="191.2" height="63.2" fill="#ececec"/>
<rect x="1431" y="287.8" width="191.2" height="63.2" fill="#ececec"/>
<rect x="1431" y="414.1" width="191.2" height="63.2" fill="#ececec"/>
<rect x="1431" y="540.4" width="191.2" height="63.2" fill="#ececec"/>
<rect x="1431" y="666.7" width="191.2" height="63.2" fill="#ececec"/>
<rect x="1431" y="793" width="191.2" height="63.2" fill="#ececec"/>
<rect x="1431" y="919.3" width="191.2" height="63.2" fill="#ececec"/>
<rect x="1431" y="1045.6" width="191.2" height="63.2" fill="#ececec"/>
<text x="1418.6" y="74.2" font-style="italic" text-anchor="end" font-size="21.2">Sst</text>
<circle cx="1463" cy="66.8" r="11.5" fill="#f47a4a" stroke="#8c8c8c" stroke-width="0.7"/>
<circle cx="1526.6" cy="66.8" r="11.5" fill="#ee6a44" stroke="#8c8c8c" stroke-width="0.7"/>
<circle cx="1590.2" cy="66.8" r="11.5" fill="#e85a3c" stroke="#8c8c8c" stroke-width="0.7"/>
<text x="1418.6" y="137.35" font-style="italic" text-anchor="end" font-size="21.2">Hpse</text>
<circle cx="1463" cy="129.95" r="11.5" fill="#e85a3c" stroke="#8c8c8c" stroke-width="0.7"/>
<circle cx="1526.6" cy="129.95" r="5.4" fill="#f9a05c" stroke="#8c8c8c" stroke-width="0.7"/>
<circle cx="1590.2" cy="129.95" r="2.7" fill="#e0f0f0" stroke="#8c8c8c" stroke-width="0.7"/>
<text x="1418.6" y="200.5" font-style="italic" text-anchor="end" font-size="21.2">Syt6</text>
<circle cx="1463" cy="193.1" r="10.5" fill="#f9a05c" stroke="#8c8c8c" stroke-width="0.7"/>
<circle cx="1526.6" cy="193.1" r="4.4" fill="#f2824e" stroke="#8c8c8c" stroke-width="0.7"/>
<circle cx="1590.2" cy="193.1" r="3.7" fill="#fee99a" stroke="#8c8c8c" stroke-width="0.7"/>
<text x="1418.6" y="263.65" font-style="italic" text-anchor="end" font-size="21.2">Clstn2</text>
<circle cx="1463" cy="256.25" r="11.5" fill="#e14a33" stroke="#8c8c8c" stroke-width="0.7"/>
<circle cx="1526.6" cy="256.25" r="10.1" fill="#fcb063" stroke="#8c8c8c" stroke-width="0.7"/>
<circle cx="1590.2" cy="256.25" r="9.5" fill="#e2f3f6" stroke="#8c8c8c" stroke-width="0.7"/>
<text x="1418.6" y="326.8" font-style="italic" text-anchor="end" font-size="21.2">Ptprd</text>
<circle cx="1463" cy="319.4" r="11.5" fill="#f06a44" stroke="#8c8c8c" stroke-width="0.7"/>
<circle cx="1526.6" cy="319.4" r="11.5" fill="#d73a2c" stroke="#8c8c8c" stroke-width="0.7"/>
<circle cx="1590.2" cy="319.4" r="10.8" fill="#6b9fd0" stroke="#8c8c8c" stroke-width="0.7"/>
<text x="1418.6" y="389.95" font-style="italic" text-anchor="end" font-size="21.2">Calb2</text>
<circle cx="1463" cy="382.55" r="7.8" fill="#4878be" stroke="#8c8c8c" stroke-width="0.7"/>
<circle cx="1526.6" cy="382.55" r="11.5" fill="#ef6a44" stroke="#8c8c8c" stroke-width="0.7"/>
<circle cx="1590.2" cy="382.55" r="3.7" fill="#3b6db4" stroke="#8c8c8c" stroke-width="0.7"/>
<text x="1418.6" y="453.1" font-style="italic" text-anchor="end" font-size="21.2">Pcdh8</text>
<circle cx="1526.6" cy="445.7" r="11.5" fill="#e04a32" stroke="#8c8c8c" stroke-width="0.7"/>
<circle cx="1590.2" cy="445.7" r="2.7" fill="#e8603c" stroke="#8c8c8c" stroke-width="0.7"/>
<text x="1418.6" y="516.25" font-style="italic" text-anchor="end" font-size="21.2">Pcsk5</text>
<circle cx="1463" cy="508.85" r="5.7" fill="#c5e6f0" stroke="#8c8c8c" stroke-width="0.7"/>
<circle cx="1526.6" cy="508.85" r="11.5" fill="#c8232a" stroke="#8c8c8c" stroke-width="0.7"/>
<circle cx="1590.2" cy="508.85" r="3.7" fill="#4a7cc0" stroke="#8c8c8c" stroke-width="0.7"/>
<text x="1418.6" y="579.4" font-style="italic" text-anchor="end" font-size="21.2">Mrap2</text>
<circle cx="1463" cy="572" r="5.1" fill="#c8e8f2" stroke="#8c8c8c" stroke-width="0.7"/>
<circle cx="1526.6" cy="572" r="10.8" fill="#ea6040" stroke="#8c8c8c" stroke-width="0.7"/>
<circle cx="1590.2" cy="572" r="2.7" fill="#f29050" stroke="#8c8c8c" stroke-width="0.7"/>
<text x="1418.6" y="642.55" font-style="italic" text-anchor="end" font-size="21.2">Zbtb20</text>
<circle cx="1463" cy="635.15" r="9.8" fill="#fefdc8" stroke="#8c8c8c" stroke-width="0.7"/>
<circle cx="1526.6" cy="635.15" r="11.5" fill="#e04a32" stroke="#8c8c8c" stroke-width="0.7"/>
<circle cx="1590.2" cy="635.15" r="10.1" fill="#fdc878" stroke="#8c8c8c" stroke-width="0.7"/>
<text x="1418.6" y="705.7" font-style="italic" text-anchor="end" font-size="21.2">Nr2f2</text>
<circle cx="1463" cy="698.3" r="2.7" fill="#e8f4f0" stroke="#8c8c8c" stroke-width="0.7"/>
<circle cx="1526.6" cy="698.3" r="3.1" fill="#99c8e0" stroke="#8c8c8c" stroke-width="0.7"/>
<circle cx="1590.2" cy="698.3" r="10.1" fill="#fed888" stroke="#8c8c8c" stroke-width="0.7"/>
<text x="1418.6" y="768.85" font-style="italic" text-anchor="end" font-size="21.2">Gpx3</text>
<circle cx="1463" cy="761.45" r="4.1" fill="#fef4b0" stroke="#8c8c8c" stroke-width="0.7"/>
<circle cx="1526.6" cy="761.45" r="4.4" fill="#fdc878" stroke="#8c8c8c" stroke-width="0.7"/>
<circle cx="1590.2" cy="761.45" r="10.8" fill="#ee6a40" stroke="#8c8c8c" stroke-width="0.7"/>
<text x="1418.6" y="832" font-style="italic" text-anchor="end" font-size="21.2">Cartpt</text>
<circle cx="1590.2" cy="824.6" r="10.1" fill="#fed080" stroke="#8c8c8c" stroke-width="0.7"/>
<text x="1418.6" y="895.15" font-style="italic" text-anchor="end" font-size="21.2">Cdh12</text>
<circle cx="1463" cy="887.75" r="9.8" fill="#92c4de" stroke="#8c8c8c" stroke-width="0.7"/>
<circle cx="1526.6" cy="887.75" r="9.8" fill="#4a7cbc" stroke="#8c8c8c" stroke-width="0.7"/>
<circle cx="1590.2" cy="887.75" r="11.1" fill="#d73027" stroke="#8c8c8c" stroke-width="0.7"/>
<text x="1418.6" y="958.3" font-style="italic" text-anchor="end" font-size="21.2">Zmat4</text>
<circle cx="1463" cy="950.9" r="4.7" fill="#92c4de" stroke="#8c8c8c" stroke-width="0.7"/>
<circle cx="1526.6" cy="950.9" r="4.4" fill="#82b8d8" stroke="#8c8c8c" stroke-width="0.7"/>
<circle cx="1590.2" cy="950.9" r="11.1" fill="#d83a2c" stroke="#8c8c8c" stroke-width="0.7"/>
<text x="1418.6" y="1021.45" font-style="italic" text-anchor="end" font-size="21.2">Olfm3</text>
<circle cx="1463" cy="1014.05" r="11.5" fill="#f47a4a" stroke="#8c8c8c" stroke-width="0.7"/>
<circle cx="1526.6" cy="1014.05" r="11.5" fill="#e85a3c" stroke="#8c8c8c" stroke-width="0.7"/>
<circle cx="1590.2" cy="1014.05" r="6.1" fill="#4070b8" stroke="#8c8c8c" stroke-width="0.7"/>
<text x="1418.6" y="1084.6" font-style="italic" text-anchor="end" font-size="21.2">Sfrp2</text>
<circle cx="1463" cy="1077.2" r="6.8" fill="#fdb068" stroke="#8c8c8c" stroke-width="0.7"/>
<circle cx="1526.6" cy="1077.2" r="9.8" fill="#fdb868" stroke="#8c8c8c" stroke-width="0.7"/>
<circle cx="1590.2" cy="1077.2" r="2.4" fill="#fefcc0" stroke="#8c8c8c" stroke-width="0.7"/>
<text x="1418.6" y="1147.75" font-style="italic" text-anchor="end" font-size="21.2">Mgat4c</text>
<circle cx="1463" cy="1140.35" r="10.8" fill="#feeaa0" stroke="#8c8c8c" stroke-width="0.7"/>
<circle cx="1526.6" cy="1140.35" r="9.1" fill="#8ec0e0" stroke="#8c8c8c" stroke-width="0.7"/>
<circle cx="1590.2" cy="1140.35" r="11.5" fill="#c0182a" stroke="#8c8c8c" stroke-width="0.7"/>
<text x="1463" y="1183.8" text-anchor="middle">8</text>
<text x="1526.6" y="1183.8" text-anchor="middle">4</text>
<text x="1590.2" y="1183.8" text-anchor="middle">6</text>
<defs><linearGradient id="cb" x1="0" y1="1" x2="0" y2="0"><stop offset="0" stop-color="#313695"/><stop offset="0.1" stop-color="#4575b4"/><stop offset="0.2" stop-color="#74add1"/><stop offset="0.3" stop-color="#abd9e9"/><stop offset="0.4" stop-color="#e0f3f8"/><stop offset="0.5" stop-color="#ffffbf"/><stop offset="0.6" stop-color="#fee090"/><stop offset="0.7" stop-color="#fdae61"/><stop offset="0.8" stop-color="#f46d43"/><stop offset="0.9" stop-color="#d73027"/><stop offset="1" stop-color="#a50026"/></linearGradient></defs>
<rect x="1642.8" y="246.2" width="36.2" height="714.1" fill="url(#cb)" stroke="#111" stroke-width="1.2"/>
<line x1="1679" y1="246.18" x2="1686.8" y2="246.18" stroke="#111" stroke-width="1.3"/>
<text x="1699.5" y="253.38" font-size="20">13.2</text>
<line x1="1679" y1="311.1" x2="1686.8" y2="311.1" stroke="#111" stroke-width="1.3"/>
<text x="1699.5" y="318.3" font-size="20">12.0</text>
<line x1="1679" y1="419.3" x2="1686.8" y2="419.3" stroke="#111" stroke-width="1.3"/>
<text x="1699.5" y="426.5" font-size="20">10.0</text>
<line x1="1679" y1="527.5" x2="1686.8" y2="527.5" stroke="#111" stroke-width="1.3"/>
<text x="1699.5" y="534.7" font-size="20">8.0</text>
<line x1="1679" y1="635.7" x2="1686.8" y2="635.7" stroke="#111" stroke-width="1.3"/>
<text x="1699.5" y="642.9" font-size="20">6.0</text>
<line x1="1679" y1="743.9" x2="1686.8" y2="743.9" stroke="#111" stroke-width="1.3"/>
<text x="1699.5" y="751.1" font-size="20">4.0</text>
<line x1="1679" y1="852.1" x2="1686.8" y2="852.1" stroke="#111" stroke-width="1.3"/>
<text x="1699.5" y="859.3" font-size="20">2.0</text>
<line x1="1679" y1="960.3" x2="1686.8" y2="960.3" stroke="#111" stroke-width="1.3"/>
<text x="1699.5" y="967.5" font-size="20">0</text>
<text transform="translate(1767.5 602.8) rotate(-90)" text-anchor="middle" font-size="20">log (CPM + 1)</text>
<text x="1651.6" y="1034" font-size="20.5">Fraction</text>
<circle cx="1728.1" cy="1060.4" r="4.8" fill="#2e2e2e"/>
<text x="1702" y="1067" text-anchor="end" font-size="20.5">0.1</text>
<circle cx="1728.1" cy="1110.6" r="10.1" fill="#2e2e2e"/>
<text x="1702" y="1117.2" text-anchor="end" font-size="20.5">0.5</text>
<circle cx="1728.1" cy="1165" r="14.4" fill="#2e2e2e"/>
<text x="1702" y="1171.6" text-anchor="end" font-size="20.5">1</text></svg>
</body></html>
